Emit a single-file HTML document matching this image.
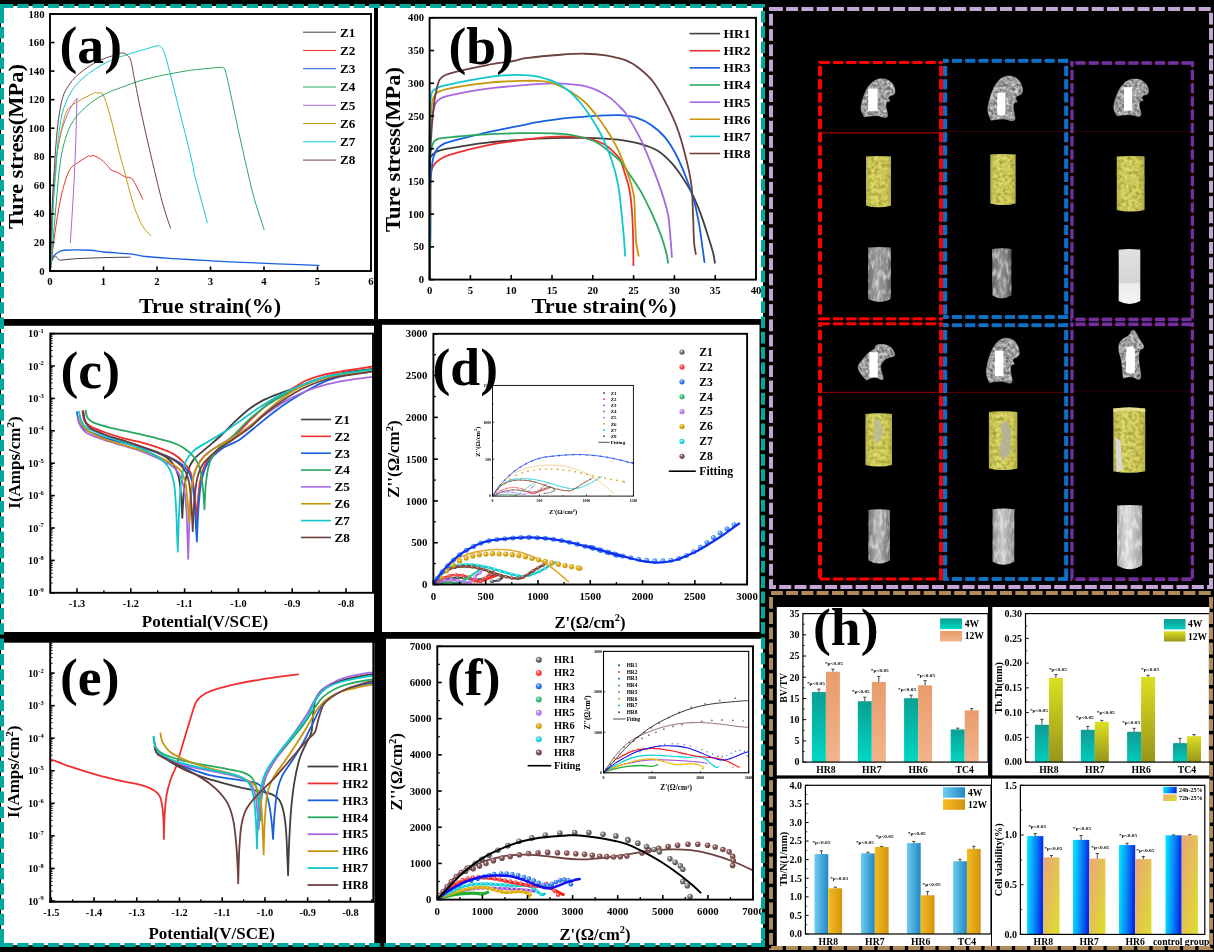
<!DOCTYPE html>
<html><head><meta charset="utf-8"><title>figure</title>
<style>
html,body{margin:0;padding:0;background:#000;}
body{width:1214px;height:952px;overflow:hidden;font-family:"Liberation Serif",serif;}
svg{display:block;opacity:0.999}
svg text{font-family:"Liberation Serif",serif;font-weight:bold;}
</style></head><body>
<svg width="1214" height="952" viewBox="0 0 1214 952">
<defs>
<radialGradient id="ball_k" cx="0.38" cy="0.35" r="0.7"><stop offset="0" stop-color="#ffffff" stop-opacity="0.85"/><stop offset="0.3" stop-color="#8c8c8c"/><stop offset="1" stop-color="#3f3f3f"/></radialGradient>
<radialGradient id="ball_r" cx="0.38" cy="0.35" r="0.7"><stop offset="0" stop-color="#ffffff" stop-opacity="0.85"/><stop offset="0.3" stop-color="#ff5a5a"/><stop offset="1" stop-color="#f03030"/></radialGradient>
<radialGradient id="ball_b" cx="0.38" cy="0.35" r="0.7"><stop offset="0" stop-color="#ffffff" stop-opacity="0.85"/><stop offset="0.3" stop-color="#4a8cf4"/><stop offset="1" stop-color="#1860e0"/></radialGradient>
<radialGradient id="ball_g" cx="0.38" cy="0.35" r="0.7"><stop offset="0" stop-color="#ffffff" stop-opacity="0.85"/><stop offset="0.3" stop-color="#4cc884"/><stop offset="1" stop-color="#2aa860"/></radialGradient>
<radialGradient id="ball_p" cx="0.38" cy="0.35" r="0.7"><stop offset="0" stop-color="#ffffff" stop-opacity="0.85"/><stop offset="0.3" stop-color="#c090f0"/><stop offset="1" stop-color="#a868e0"/></radialGradient>
<radialGradient id="ball_y" cx="0.38" cy="0.35" r="0.7"><stop offset="0" stop-color="#ffffff" stop-opacity="0.85"/><stop offset="0.3" stop-color="#e0b020"/><stop offset="1" stop-color="#c8960c"/></radialGradient>
<radialGradient id="ball_c" cx="0.38" cy="0.35" r="0.7"><stop offset="0" stop-color="#ffffff" stop-opacity="0.85"/><stop offset="0.3" stop-color="#40e0e4"/><stop offset="1" stop-color="#10c8cc"/></radialGradient>
<radialGradient id="ball_n" cx="0.38" cy="0.35" r="0.7"><stop offset="0" stop-color="#ffffff" stop-opacity="0.85"/><stop offset="0.3" stop-color="#946060"/><stop offset="1" stop-color="#6e4040"/></radialGradient>
<radialGradient id="ball_b2" cx="0.38" cy="0.35" r="0.7"><stop offset="0" stop-color="#ffffff" stop-opacity="0.9"/><stop offset="0.3" stop-color="#5aa0ff"/><stop offset="1" stop-color="#2a70e8"/></radialGradient>
<clipPath id="clipc"><rect x="50.3" y="333.6" width="322.7" height="259.2"/></clipPath>
<clipPath id="clipd"><rect x="433.4" y="333.8" width="316.7" height="250.7"/></clipPath>
<clipPath id="clipdi"><rect x="492.5" y="385.4" width="140.9" height="110.7"/></clipPath>
<clipPath id="clipe"><rect x="50.2" y="641.8" width="323.1" height="260"/></clipPath>
<clipPath id="clipf"><rect x="437.3" y="646.3" width="315.7" height="253.3"/></clipPath>
<clipPath id="clipfi"><rect x="603.5" y="651.4" width="145.2" height="121.4"/></clipPath>
<filter id="texBone" x="0" y="0" width="1" height="1" color-interpolation-filters="sRGB">
<feTurbulence type="fractalNoise" baseFrequency="0.32" numOctaves="2" seed="7" result="n"/>
<feColorMatrix in="n" type="matrix" values="0.8 0 0 0 0.22  0.8 0 0 0 0.22  0.8 0 0 0 0.22  0 0 0 0 1" result="g"/>
<feComposite in="g" in2="SourceGraphic" operator="in"/>
</filter>
<filter id="texYel" x="0" y="0" width="1" height="1" color-interpolation-filters="sRGB">
<feTurbulence type="fractalNoise" baseFrequency="0.28" numOctaves="2" seed="11" result="n"/>
<feColorMatrix in="n" type="matrix" values="0 0 0 0 0.62  0 0 0 0 0.60  0 0 0 0 0.22  2.2 0 0 0 -0.85" result="g"/>
<feComposite in="g" in2="SourceGraphic" operator="in" result="c"/>
<feMerge><feMergeNode in="SourceGraphic"/><feMergeNode in="c"/></feMerge>
</filter>
<filter id="texGray" x="0" y="0" width="1" height="1" color-interpolation-filters="sRGB">
<feTurbulence type="fractalNoise" baseFrequency="0.3 0.1" numOctaves="2" seed="5" result="n"/>
<feColorMatrix in="n" type="matrix" values="0 0 0 0 1  0 0 0 0 1  0 0 0 0 1  1.6 0 0 0 -0.68" result="g"/>
<feComposite in="g" in2="SourceGraphic" operator="in" result="c"/>
<feMerge><feMergeNode in="SourceGraphic"/><feMergeNode in="c"/></feMerge>
</filter>
<linearGradient id="cylG1" x1="0" x2="1" y1="0" y2="0"><stop offset="0" stop-color="#6a6a6a"/><stop offset="0.35" stop-color="#9a9a9a"/><stop offset="0.7" stop-color="#8a8a8a"/><stop offset="1" stop-color="#5c5c5c"/></linearGradient>
<linearGradient id="cylG2" x1="0" x2="1" y1="0" y2="0"><stop offset="0" stop-color="#5e5e5e"/><stop offset="0.4" stop-color="#8c8c8c"/><stop offset="0.75" stop-color="#7c7c7c"/><stop offset="1" stop-color="#505050"/></linearGradient>
<linearGradient id="cylG3" x1="0" x2="0" y1="0" y2="1"><stop offset="0" stop-color="#e2e2e2"/><stop offset="0.6" stop-color="#d4d4d4"/><stop offset="0.64" stop-color="#ececec"/><stop offset="1" stop-color="#f4f4f4"/></linearGradient>
<linearGradient id="cylG4" x1="0" x2="1" y1="0" y2="0"><stop offset="0" stop-color="#767676"/><stop offset="0.45" stop-color="#b4b4b4"/><stop offset="1" stop-color="#6c6c6c"/></linearGradient>
<linearGradient id="cylG5" x1="0" x2="1" y1="0" y2="0"><stop offset="0" stop-color="#8c8c8c"/><stop offset="0.45" stop-color="#c8c8c8"/><stop offset="1" stop-color="#8a8a8a"/></linearGradient>
<linearGradient id="cylG6" x1="0" x2="1" y1="0" y2="0"><stop offset="0" stop-color="#a0a0a0"/><stop offset="0.4" stop-color="#dedede"/><stop offset="1" stop-color="#9a9a9a"/></linearGradient>
<linearGradient id="yelG" x1="0" x2="1" y1="0" y2="0"><stop offset="0" stop-color="#c4c050"/><stop offset="0.3" stop-color="#dedb68"/><stop offset="0.8" stop-color="#d6d25e"/><stop offset="1" stop-color="#b8b448"/></linearGradient>
<linearGradient id="gTeal" x1="0" x2="0" y1="0" y2="1"><stop offset="0" stop-color="#08a094"/><stop offset="1" stop-color="#00d8c4"/></linearGradient>
<linearGradient id="gSalmon" x1="0" x2="0" y1="0" y2="1"><stop offset="0" stop-color="#e89c6c"/><stop offset="1" stop-color="#f2b48c"/></linearGradient>
<linearGradient id="gTeal2" x1="0" x2="0" y1="0" y2="1"><stop offset="0" stop-color="#109c94"/><stop offset="1" stop-color="#00ccbc"/></linearGradient>
<linearGradient id="gOlive" x1="0" x2="0" y1="0" y2="1"><stop offset="0" stop-color="#dce020"/><stop offset="1" stop-color="#98941c"/></linearGradient>
<linearGradient id="gSky" x1="0" x2="1" y1="0" y2="0"><stop offset="0" stop-color="#70ccf2"/><stop offset="1" stop-color="#2088c4"/></linearGradient>
<linearGradient id="gGold" x1="0" x2="1" y1="0" y2="0"><stop offset="0" stop-color="#f4bc24"/><stop offset="1" stop-color="#d4940c"/></linearGradient>
<linearGradient id="gCyBl" x1="0" x2="1" y1="0" y2="0.12"><stop offset="0" stop-color="#00ecff"/><stop offset="0.5" stop-color="#0890f8"/><stop offset="1" stop-color="#0428e8"/></linearGradient>
<linearGradient id="gSaYe" x1="0" x2="1" y1="0" y2="1"><stop offset="0" stop-color="#eca47c"/><stop offset="1" stop-color="#dce028"/></linearGradient>
</defs>
<rect x="0" y="0" width="1214" height="952" fill="#000" />
<rect x="1" y="6" width="373" height="313" fill="#fff" />
<rect x="378" y="6" width="385" height="313" fill="#fff" />
<rect x="1" y="325.8" width="373" height="306.2" fill="#fff" />
<rect x="382" y="324.8" width="377.5" height="307.2" fill="#fff" />
<rect x="1" y="642.7" width="373.3" height="302.5" fill="#fff" />
<rect x="386" y="638.8" width="377" height="306.4" fill="#fff" />
<path d="M49.57 268.63C49.93 267.44 51.21 262.48 51.99 260.66C52.77 258.84 54.04 257.02 54.77 256.5C55.49 255.98 56.22 256.67 56.85 257.19C57.47 257.71 58.09 259.55 58.93 259.97C59.76 260.38 60.31 260.12 62.39 259.97C64.47 259.81 69.15 259.19 72.79 258.93C76.43 258.67 81.46 258.44 86.66 258.23C91.85 258.02 100.95 257.69 107.45 257.54C113.95 257.38 126.6 257.24 129.98 257.19" fill="none" stroke="#3f3f3f" stroke-width="1" stroke-linejoin="round" stroke-linecap="round" />
<path d="M49.57 268.63C49.93 267.07 50.85 260.57 51.99 258.23C53.14 255.89 55.37 254.23 57.19 253.03C59.01 251.84 59.19 250.68 64.12 250.26C69.06 249.84 84.14 250 90.12 250.26C96.1 250.52 97.75 251.42 103.99 251.99C110.23 252.56 125.48 253.4 131.72 254.07C137.95 254.75 139.34 255.82 145.58 256.5C151.82 257.18 163.95 257.95 173.31 258.58C182.67 259.2 197.57 260.09 207.97 260.66C218.37 261.23 232.24 261.92 242.63 262.39C253.03 262.86 266.9 263.36 277.3 263.78C287.69 264.19 305.72 264.9 311.96 265.16C318.2 265.42 317.85 265.46 318.89 265.51" fill="none" stroke="#1860e0" stroke-width="1.3" stroke-linejoin="round" stroke-linecap="round" />
<path d="M50.8 268C51.28 263.8 52.84 248.7 54 240C55.16 231.3 57 218.25 58.5 210C60 201.75 62.24 191.18 64 185C65.76 178.82 68.05 172.26 70.25 168.82C72.45 165.39 75.88 164.04 78.66 162.1C81.43 160.16 86.97 156.71 88.74 155.88C90.5 155.05 89.79 156.63 90.42 156.55C91.05 156.48 91.93 155.3 92.94 155.38C93.95 155.45 95.76 156.3 97.14 157.06C98.53 157.82 100.53 159.02 102.18 160.42C103.84 161.82 106.84 164.96 108.15 166.38C109.46 167.79 109.46 168.91 110.92 169.84C112.37 170.78 115.77 171.58 117.85 172.62C119.93 173.66 122.7 175.89 124.78 176.78C126.86 177.66 129.9 176.95 131.72 178.51C133.54 180.07 135.25 184.06 136.92 187.18C138.58 190.29 141.92 197.49 142.81 199.31" fill="none" stroke="#f03030" stroke-width="1" stroke-linejoin="round" stroke-linecap="round" />
<path d="M49.57 266.9L49.68 264.3L49.82 260.74L50 256.5L50.2 251.88L50.4 247.16L50.61 242.63L50.81 238.25L51.02 233.78L51.23 229.2L51.47 224.53L51.72 219.77L51.99 214.9L52.29 209.91L52.6 204.76L52.92 199.52L53.28 194.24L53.66 188.95L54.07 183.71L54.51 178.43L54.96 173.05L55.44 167.68L55.96 162.4L56.54 157.31L57.19 152.51L57.93 147.97L58.75 143.59L59.62 139.41L60.53 135.44L61.46 131.71L62.39 128.25L63.35 125.07L64.36 122.15L65.38 119.48L66.4 117.02L67.37 114.75L68.28 112.65L69.12 110.77L69.9 109.15L70.65 107.71L71.37 106.41L72.08 105.19L72.79 103.99L73.55 102.78L74.36 101.6L75.15 100.5L75.88 99.52L76.5 98.7L76.95 98.09L76.78 103.99L75.91 138.65L74.18 180.24L72.1 214.9L70.36 242.63" fill="none" stroke="#a868e0" stroke-width="1" stroke-linejoin="round" stroke-linecap="round" />
<path d="M50.5 268C50.7 263.05 51.39 245.2 51.8 235C52.2 224.8 52.7 209.8 53.2 200C53.7 190.2 54.33 178 55.13 169.66C55.92 161.33 57.35 151.26 58.49 144.45C59.62 137.65 61.43 129.33 62.69 124.29C63.95 119.24 65.25 113.87 66.89 110.84C68.53 107.82 71.09 106.01 73.61 104.12C76.13 102.23 80.92 99.75 83.7 98.24C86.47 96.72 90.34 94.92 92.1 94.03C93.87 93.15 94.71 92.45 95.46 92.35C96.22 92.25 96.64 93.29 97.14 93.36C97.65 93.44 98.07 92.83 98.82 92.86C99.58 92.88 101.18 92.34 102.18 93.53C103.19 94.71 104.29 97.15 105.55 100.76C106.81 104.36 109.08 112.02 110.59 117.56C112.1 123.11 114.12 131.68 115.63 137.73C117.14 143.78 119.41 153.11 120.67 157.9C121.93 162.69 122.12 162.67 124.03 169.66C125.95 176.65 130.74 196.16 133.45 204.51C136.16 212.85 139.51 220.62 142.11 225.3C144.71 229.98 149.48 234.14 150.78 235.7" fill="none" stroke="#c8960c" stroke-width="1" stroke-linejoin="round" stroke-linecap="round" />
<path d="M51 268C51.38 263.05 52.67 245.2 53.5 235C54.33 224.8 55.63 209.8 56.5 200C57.37 190.2 58.53 176.74 59.33 169.66C60.13 162.59 60.97 157.39 61.85 152.86C62.73 148.32 63.95 143.45 65.21 139.41C66.47 135.38 68.49 129.5 70.25 125.97C72.02 122.44 74.45 118.91 76.97 115.88C79.5 112.86 83.78 108.57 87.06 105.8C90.34 103.03 95.29 99.54 98.82 97.39C102.35 95.25 106.81 93.15 110.59 91.51C114.37 89.87 119.5 88.11 124.03 86.47C128.57 84.83 135.8 82.1 140.84 80.59C145.88 79.08 152.61 77.52 157.65 76.39C162.69 75.25 169.41 73.96 174.45 73.03C179.5 72.09 186.22 70.85 191.26 70.17C196.3 69.49 203.4 68.89 208.07 68.49C212.73 68.08 219.71 66.92 222.35 67.48C225 68.03 224.58 68.71 225.71 72.18C226.85 75.66 228.53 84.37 229.92 90.67C231.3 96.97 233.45 107.14 234.96 114.2C236.47 121.26 237.29 125.75 240 137.73C242.71 149.72 249.41 180.35 253.03 194.11C256.65 207.87 262.46 224.16 264.12 229.46" fill="none" stroke="#2aa860" stroke-width="1" stroke-linejoin="round" stroke-linecap="round" />
<path d="M50.6 268C50.81 263.05 51.55 245.2 52 235C52.45 224.8 53.01 209.8 53.6 200C54.19 190.2 55.36 178 55.97 169.66C56.57 161.33 56.89 152.02 57.65 144.45C58.4 136.89 59.87 125.29 61.01 119.24C62.14 113.19 63.57 108.4 65.21 104.12C66.85 99.83 69.41 94.45 71.93 90.67C74.45 86.89 78.49 82.18 82.02 78.91C85.55 75.63 91.18 71.6 95.46 68.82C99.75 66.05 105.8 62.56 110.59 60.42C115.38 58.28 122.35 56.18 127.39 54.54C132.44 52.9 139.66 50.81 144.2 49.5C148.74 48.18 155 46.05 157.65 45.8C160.29 45.55 160.71 46.38 161.85 47.82C162.98 49.25 163.82 50.97 165.21 55.38C166.6 59.79 168.95 68.91 171.09 77.23C173.24 85.55 176.97 100.76 179.5 110.84C182.02 120.92 185.76 135.63 187.9 144.45C190.04 153.28 192.85 165.34 193.78 169.66C194.71 173.99 192.08 165.38 194.11 173.31C196.13 181.24 205.3 215.15 207.28 222.53" fill="none" stroke="#10c8cc" stroke-width="1" stroke-linejoin="round" stroke-linecap="round" />
<path d="M50.3 268C50.43 263.05 50.89 245.2 51.2 235C51.52 224.8 51.94 209.8 52.4 200C52.86 190.2 53.75 178 54.29 169.66C54.82 161.33 55.34 152.02 55.97 144.45C56.6 136.89 57.48 126.3 58.49 119.24C59.5 112.18 61.18 102.44 62.69 97.39C64.2 92.35 66.43 88.91 68.57 85.63C70.71 82.35 73.7 78.57 76.97 75.55C80.25 72.52 86.39 67.98 90.42 65.46C94.45 62.94 100.34 60.25 103.87 58.74C107.39 57.23 111.18 56.26 113.95 55.38C116.72 54.5 120.34 52.86 122.35 52.86C124.37 52.86 126.13 54.24 127.39 55.38C128.66 56.51 129.75 57.14 130.76 60.42C131.76 63.7 132.61 69.66 134.12 77.23C135.63 84.79 138.82 101.26 140.84 110.84C142.86 120.42 145.55 132.27 147.56 141.09C149.58 149.92 151.98 160.15 154.29 169.66C156.59 179.18 160.47 195.74 162.91 204.51C165.35 213.27 169.39 224.54 170.54 228.08" fill="none" stroke="#6e4040" stroke-width="1" stroke-linejoin="round" stroke-linecap="round" />
<rect x="50" y="14" width="321" height="257" fill="none" stroke="#000" stroke-width="1.9"/>
<line x1="50" y1="271" x2="50" y2="266.5" stroke="#000" stroke-width="1.6" />
<text x="50" y="285" font-size="10.7" text-anchor="middle" fill="#000" >0</text>
<line x1="103.5" y1="271" x2="103.5" y2="266.5" stroke="#000" stroke-width="1.6" />
<text x="103.5" y="285" font-size="10.7" text-anchor="middle" fill="#000" >1</text>
<line x1="157" y1="271" x2="157" y2="266.5" stroke="#000" stroke-width="1.6" />
<text x="157" y="285" font-size="10.7" text-anchor="middle" fill="#000" >2</text>
<line x1="210.5" y1="271" x2="210.5" y2="266.5" stroke="#000" stroke-width="1.6" />
<text x="210.5" y="285" font-size="10.7" text-anchor="middle" fill="#000" >3</text>
<line x1="264" y1="271" x2="264" y2="266.5" stroke="#000" stroke-width="1.6" />
<text x="264" y="285" font-size="10.7" text-anchor="middle" fill="#000" >4</text>
<line x1="317.5" y1="271" x2="317.5" y2="266.5" stroke="#000" stroke-width="1.6" />
<text x="317.5" y="285" font-size="10.7" text-anchor="middle" fill="#000" >5</text>
<line x1="371" y1="271" x2="371" y2="266.5" stroke="#000" stroke-width="1.6" />
<text x="371" y="285" font-size="10.7" text-anchor="middle" fill="#000" >6</text>
<line x1="50" y1="271" x2="54.5" y2="271" stroke="#000" stroke-width="1.6" />
<text x="44.5" y="274.53" font-size="10.7" text-anchor="end" fill="#000" >0</text>
<line x1="50" y1="242.44" x2="54.5" y2="242.44" stroke="#000" stroke-width="1.6" />
<text x="44.5" y="245.98" font-size="10.7" text-anchor="end" fill="#000" >20</text>
<line x1="50" y1="213.89" x2="54.5" y2="213.89" stroke="#000" stroke-width="1.6" />
<text x="44.5" y="217.42" font-size="10.7" text-anchor="end" fill="#000" >40</text>
<line x1="50" y1="185.33" x2="54.5" y2="185.33" stroke="#000" stroke-width="1.6" />
<text x="44.5" y="188.86" font-size="10.7" text-anchor="end" fill="#000" >60</text>
<line x1="50" y1="156.78" x2="54.5" y2="156.78" stroke="#000" stroke-width="1.6" />
<text x="44.5" y="160.31" font-size="10.7" text-anchor="end" fill="#000" >80</text>
<line x1="50" y1="128.22" x2="54.5" y2="128.22" stroke="#000" stroke-width="1.6" />
<text x="44.5" y="131.75" font-size="10.7" text-anchor="end" fill="#000" >100</text>
<line x1="50" y1="99.67" x2="54.5" y2="99.67" stroke="#000" stroke-width="1.6" />
<text x="44.5" y="103.2" font-size="10.7" text-anchor="end" fill="#000" >120</text>
<line x1="50" y1="71.11" x2="54.5" y2="71.11" stroke="#000" stroke-width="1.6" />
<text x="44.5" y="74.64" font-size="10.7" text-anchor="end" fill="#000" >140</text>
<line x1="50" y1="42.56" x2="54.5" y2="42.56" stroke="#000" stroke-width="1.6" />
<text x="44.5" y="46.09" font-size="10.7" text-anchor="end" fill="#000" >160</text>
<line x1="50" y1="14" x2="54.5" y2="14" stroke="#000" stroke-width="1.6" />
<text x="44.5" y="17.53" font-size="10.7" text-anchor="end" fill="#000" >180</text>
<text x="59.5" y="63.2" font-size="53.6" text-anchor="start" fill="#000" >(a)</text>
<text x="210" y="313.2" font-size="22" text-anchor="middle" fill="#000"  textLength="142" lengthAdjust="spacingAndGlyphs">True strain(%)</text>
<text transform="translate(22.8 146.5) rotate(-90)" font-size="22" text-anchor="middle"  textLength="165" lengthAdjust="spacingAndGlyphs">Ture stress(MPa)</text>
<line x1="303" y1="32.2" x2="336" y2="32.2" stroke="#3f3f3f" stroke-width="1" />
<text x="340" y="36.56" font-size="13.2" text-anchor="start" fill="#000" >Z1</text>
<line x1="303" y1="50.47" x2="336" y2="50.47" stroke="#f03030" stroke-width="1" />
<text x="340" y="54.83" font-size="13.2" text-anchor="start" fill="#000" >Z2</text>
<line x1="303" y1="68.74" x2="336" y2="68.74" stroke="#1860e0" stroke-width="1" />
<text x="340" y="73.1" font-size="13.2" text-anchor="start" fill="#000" >Z3</text>
<line x1="303" y1="87.01" x2="336" y2="87.01" stroke="#2aa860" stroke-width="1" />
<text x="340" y="91.37" font-size="13.2" text-anchor="start" fill="#000" >Z4</text>
<line x1="303" y1="105.28" x2="336" y2="105.28" stroke="#a868e0" stroke-width="1" />
<text x="340" y="109.64" font-size="13.2" text-anchor="start" fill="#000" >Z5</text>
<line x1="303" y1="123.55" x2="336" y2="123.55" stroke="#c8960c" stroke-width="1" />
<text x="340" y="127.91" font-size="13.2" text-anchor="start" fill="#000" >Z6</text>
<line x1="303" y1="141.82" x2="336" y2="141.82" stroke="#10c8cc" stroke-width="1" />
<text x="340" y="146.18" font-size="13.2" text-anchor="start" fill="#000" >Z7</text>
<line x1="303" y1="160.09" x2="336" y2="160.09" stroke="#6e4040" stroke-width="1" />
<text x="340" y="164.45" font-size="13.2" text-anchor="start" fill="#000" >Z8</text>
<path d="M429.8 279C429.81 268.47 429.97 215.75 429.9 200C429.83 184.25 429.11 166.62 429.24 160.84C429.38 155.06 430.14 157.76 430.92 156.64C431.71 155.52 433.67 153.33 435.13 152.44C436.58 151.54 439.38 150.54 441.85 149.92C444.31 149.29 449.8 148.4 453.61 147.73C457.42 147.06 465.94 145.55 470.42 144.87C474.9 144.2 482.75 143.2 487.23 142.69C491.71 142.17 499.55 141.39 504.03 141.01C508.52 140.63 516.36 140.15 520.84 139.83C525.32 139.52 533.17 138.88 537.65 138.66C542.13 138.43 549.97 138.26 554.45 138.15C558.94 138.04 566.78 137.86 571.26 137.82C575.74 137.77 583.59 137.7 588.07 137.82C592.55 137.93 600.62 138.39 604.87 138.66C609.13 138.92 615.27 139.14 620 139.83C624.73 140.52 635.34 142.39 640.36 143.85C645.39 145.31 653.54 148.24 657.69 150.78C661.85 153.32 668.32 159.45 671.56 162.91C674.79 166.38 679.19 172.62 681.96 176.78C684.73 180.94 689.82 189.02 692.36 194.11C694.9 199.19 698.94 209.36 701.02 214.9C703.1 220.45 706.34 230.62 707.95 235.7C709.57 240.79 712.23 249.43 713.15 253.03C714.08 256.64 714.66 261.44 714.89 262.74" fill="none" stroke="#3f3f3f" stroke-width="1.8" stroke-linejoin="round" stroke-linecap="round" />
<path d="M429.8 279C429.85 269.8 430.16 223.51 430.2 210C430.24 196.49 429.88 183.08 430.08 177.65C430.29 172.21 431.09 171.15 431.76 169.24C432.44 167.34 434.01 164.71 435.13 163.36C436.25 162.02 438.6 160.17 440.17 159.16C441.74 158.15 445.1 156.52 446.89 155.8C448.68 155.08 450.48 154.68 453.61 153.78C456.75 152.89 465.94 150.2 470.42 149.08C474.9 147.96 482.75 146.27 487.23 145.38C491.71 144.48 499.55 143.05 504.03 142.35C508.52 141.66 516.36 140.73 520.84 140.17C525.32 139.61 533.61 138.58 537.65 138.15C541.68 137.73 547.73 137.2 551.09 136.97C554.45 136.75 559.72 136.47 562.86 136.47C565.99 136.47 571.26 136.68 574.62 136.97C577.98 137.27 584.93 138.05 588.07 138.66C591.2 139.26 595.69 140.57 598.15 141.51C600.62 142.45 604.54 144.37 606.55 145.71C608.57 147.06 611.48 149.8 613.28 151.6C615.07 153.39 618.47 156.26 620 159.16C621.53 162.05 623.53 169.34 624.77 173.31C626 177.28 628.35 184.29 629.27 188.91C630.2 193.53 631.19 201.73 631.7 207.97C632.21 214.21 632.85 228.08 633.08 235.7C633.32 243.33 633.39 261.24 633.43 265.16" fill="none" stroke="#f03030" stroke-width="1.8" stroke-linejoin="round" stroke-linecap="round" />
<path d="M429.8 279C429.87 272.47 430.26 240.6 430.3 230C430.34 219.4 430 206.48 430.08 199.5C430.17 192.52 430.59 182.8 430.92 177.65C431.26 172.49 432.04 164.2 432.61 160.84C433.17 157.48 434.34 154.23 435.13 152.44C435.91 150.64 437.14 148.63 438.49 147.39C439.83 146.16 443.19 144.09 445.21 143.19C447.23 142.3 450.25 141.57 453.61 140.67C456.97 139.78 465.94 137.59 470.42 136.47C474.9 135.35 482.75 133.28 487.23 132.27C491.71 131.26 499.55 129.8 504.03 128.91C508.52 128.01 516.36 126.44 520.84 125.55C525.32 124.65 533.17 122.97 537.65 122.18C542.13 121.4 549.97 120.27 554.45 119.66C558.94 119.06 566.78 118.1 571.26 117.65C575.74 117.2 583.59 116.59 588.07 116.3C592.55 116.01 600.62 115.62 604.87 115.46C609.13 115.31 615.73 114.81 620 115.13C624.27 115.44 632.8 116.56 636.9 117.85C641 119.14 647.07 122.24 650.76 124.78C654.46 127.33 661.16 132.76 664.63 136.92C668.09 141.07 673.76 150.2 676.76 155.98C679.76 161.76 684.85 174.23 687.16 180.24C689.47 186.25 692.47 195.03 694.09 201.04C695.71 207.05 698.13 218.83 699.29 225.3C700.44 231.77 702.06 244.67 702.76 249.57C703.45 254.47 704.26 260.38 704.49 262.05" fill="none" stroke="#1860e0" stroke-width="1.8" stroke-linejoin="round" stroke-linecap="round" />
<path d="M429.8 279C429.84 268.47 430.11 215.75 430.1 200C430.09 184.25 429.64 167.41 429.75 160.84C429.86 154.27 430.43 153.22 430.92 150.76C431.42 148.29 432.66 143.88 433.45 142.35C434.23 140.83 435.69 139.89 436.81 139.33C437.93 138.77 439.61 138.46 441.85 138.15C444.09 137.84 449.8 137.36 453.61 136.97C457.42 136.59 465.94 135.65 470.42 135.29C474.9 134.94 482.75 134.51 487.23 134.29C491.71 134.06 499.55 133.77 504.03 133.61C508.52 133.46 516.36 133.18 520.84 133.11C525.32 133.04 533.61 133.06 537.65 133.11C541.68 133.15 547.73 133.33 551.09 133.45C554.45 133.56 559.72 133.66 562.86 133.95C565.99 134.24 571.26 134.96 574.62 135.63C577.98 136.3 584.93 137.98 588.07 138.99C591.2 140 595.46 141.62 598.15 143.19C600.84 144.76 605.32 148.4 608.24 150.76C611.15 153.11 617.56 158.3 620 160.84C622.44 163.39 623.78 165.87 626.5 169.84C629.21 173.82 636.9 184.63 640.36 190.64C643.83 196.65 649.72 208.9 652.5 214.9C655.27 220.91 659.31 230.62 661.16 235.7C663.01 240.79 665.44 249.43 666.36 253.03C667.28 256.64 667.86 261.44 668.09 262.74" fill="none" stroke="#2aa860" stroke-width="1.8" stroke-linejoin="round" stroke-linecap="round" />
<path d="M429.8 279C429.91 268.47 430.56 218 430.6 200C430.64 182 429.93 154.18 430.08 144.03C430.24 133.88 431.32 128.35 431.76 123.87C432.21 119.38 432.89 113.22 433.45 110.42C434.01 107.62 435.07 104.43 435.97 102.86C436.86 101.29 438.71 99.55 440.17 98.66C441.62 97.76 443.98 96.92 446.89 96.13C449.8 95.35 457.76 93.6 462.02 92.77C466.27 91.94 474.34 90.59 478.82 89.92C483.31 89.24 491.15 88.25 495.63 87.73C500.11 87.22 507.96 86.45 512.44 86.05C516.92 85.65 524.76 85.04 529.24 84.71C533.73 84.37 541.57 83.69 546.05 83.53C550.53 83.37 558.38 83.31 562.86 83.53C567.34 83.75 575.63 84.54 579.66 85.21C583.7 85.88 589.75 87.34 593.11 88.57C596.47 89.8 602.18 92.89 604.87 94.45C607.56 96.02 611.26 98.66 613.28 100.34C615.29 102.02 618.24 105.19 620 107.06C621.76 108.93 623.78 110.17 626.5 114.38C629.21 118.6 637.13 132.18 640.36 138.65C643.6 145.12 647.99 155.98 650.76 162.91C653.54 169.84 658.85 183.71 661.16 190.64C663.47 197.57 666.8 207.97 668.09 214.9C669.39 221.84 670.36 237 670.87 242.63C671.37 248.27 671.77 255.25 671.91 257.19" fill="none" stroke="#a868e0" stroke-width="1.8" stroke-linejoin="round" stroke-linecap="round" />
<path d="M429.8 279C429.88 268.47 430.41 218 430.4 200C430.39 182 429.68 155.31 429.75 144.03C429.82 132.76 430.54 121.29 430.92 115.46C431.31 109.64 432.04 103.14 432.61 100.34C433.17 97.54 434.12 95.69 435.13 94.45C436.13 93.22 437.7 91.99 440.17 91.09C442.63 90.2 449.58 88.56 453.61 87.73C457.65 86.9 465.94 85.52 470.42 84.87C474.9 84.22 482.75 83.31 487.23 82.86C491.71 82.41 499.55 81.78 504.03 81.51C508.52 81.24 516.36 80.93 520.84 80.84C525.32 80.75 534.06 80.71 537.65 80.84C541.23 80.97 545.04 81.27 547.73 81.85C550.42 82.43 554.68 83.87 557.82 85.21C560.95 86.55 567.68 89.69 571.26 91.93C574.85 94.17 581.34 98.88 584.71 102.02C588.07 105.15 593.78 112.1 596.47 115.46C599.16 118.82 602.63 123.87 604.87 127.23C607.11 130.59 611.26 137.09 613.28 140.67C615.29 144.26 617.77 148.84 620 154.12C622.23 159.39 628.08 174.45 629.97 180.24C631.85 186.04 633.43 192.03 634.12 197.57C634.82 203.12 634.89 215.83 635.16 221.84C635.44 227.85 635.74 238.11 636.2 242.63C636.67 247.16 638.31 254.05 638.63 255.81" fill="none" stroke="#c8960c" stroke-width="1.8" stroke-linejoin="round" stroke-linecap="round" />
<path d="M429.8 279C429.87 271.13 430.37 235.75 430.3 220C430.23 204.25 429.27 175.45 429.24 160.84C429.21 146.23 429.86 118.94 430.08 110.42C430.31 101.9 430.59 99.55 430.92 96.97C431.26 94.4 431.93 92.21 432.61 91.09C433.28 89.97 434.73 89.24 435.97 88.57C437.2 87.9 439.5 86.72 441.85 86.05C444.2 85.38 449.8 84.31 453.61 83.53C457.42 82.75 465.94 81 470.42 80.17C474.9 79.34 482.75 77.94 487.23 77.31C491.71 76.68 500 75.8 504.03 75.46C508.07 75.13 514.12 74.79 517.48 74.79C520.84 74.79 526.11 75.13 529.24 75.46C532.38 75.8 537.65 76.46 541.01 77.31C544.37 78.16 550.87 80.12 554.45 81.85C558.04 83.57 564.54 87.56 567.9 90.25C571.26 92.94 576.75 98.66 579.66 102.02C582.58 105.38 587.06 111.43 589.75 115.46C592.44 119.5 597.37 127.56 599.83 132.27C602.3 136.97 606.22 145.6 608.24 150.76C610.25 155.91 613.5 165.55 614.96 170.92C616.41 176.3 617.99 182.46 619.16 191.09C620.33 199.73 622.93 227.07 623.73 235.7C624.52 244.33 624.93 253.13 625.11 255.81" fill="none" stroke="#10c8cc" stroke-width="1.8" stroke-linejoin="round" stroke-linecap="round" />
<path d="M429.6 279C429.55 271.09 429.18 235.42 429.24 219.66C429.31 203.91 429.75 173.17 430.08 160.84C430.42 148.52 431.2 135.07 431.76 127.23C432.32 119.38 433.61 107.17 434.29 102.02C434.96 96.86 436.13 91.48 436.81 88.57C437.48 85.66 438.43 81.85 439.33 80.17C440.22 78.49 442.07 76.86 443.53 75.97C444.99 75.07 447.79 74.18 450.25 73.45C452.72 72.71 457.09 71.54 462.02 70.42C466.95 69.3 480.28 66.32 487.23 65.04C494.17 63.76 508.95 61.75 514.12 60.84C519.28 59.93 519.78 59.04 525.98 58.23C532.18 57.42 552.78 55.37 560.64 54.77C568.5 54.17 578.9 53.63 584.9 53.73C590.91 53.82 600.16 54.53 605.7 55.46C611.25 56.38 621.88 58.81 626.5 60.66C631.12 62.51 636.67 66.32 640.36 69.32C644.06 72.33 650.53 78.11 654.23 83.19C657.93 88.27 664.86 100.98 668.09 107.45C671.33 113.92 675.95 124.32 678.49 131.72C681.03 139.11 685.4 155.52 687.16 162.91C688.91 170.31 690.88 180.24 691.66 187.18C692.45 194.11 692.73 207.51 693.05 214.9C693.37 222.3 693.72 237.41 694.09 242.63C694.46 247.86 695.59 252.55 695.82 254.07" fill="none" stroke="#6e4040" stroke-width="1.8" stroke-linejoin="round" stroke-linecap="round" />
<rect x="429.6" y="17.8" width="326.4" height="261.8" fill="none" stroke="#000" stroke-width="1.9"/>
<line x1="429.6" y1="279.6" x2="429.6" y2="275.1" stroke="#000" stroke-width="1.6" />
<text x="429.6" y="293.6" font-size="10.7" text-anchor="middle" fill="#000" >0</text>
<line x1="470.4" y1="279.6" x2="470.4" y2="275.1" stroke="#000" stroke-width="1.6" />
<text x="470.4" y="293.6" font-size="10.7" text-anchor="middle" fill="#000" >5</text>
<line x1="511.2" y1="279.6" x2="511.2" y2="275.1" stroke="#000" stroke-width="1.6" />
<text x="511.2" y="293.6" font-size="10.7" text-anchor="middle" fill="#000" >10</text>
<line x1="552" y1="279.6" x2="552" y2="275.1" stroke="#000" stroke-width="1.6" />
<text x="552" y="293.6" font-size="10.7" text-anchor="middle" fill="#000" >15</text>
<line x1="592.8" y1="279.6" x2="592.8" y2="275.1" stroke="#000" stroke-width="1.6" />
<text x="592.8" y="293.6" font-size="10.7" text-anchor="middle" fill="#000" >20</text>
<line x1="633.6" y1="279.6" x2="633.6" y2="275.1" stroke="#000" stroke-width="1.6" />
<text x="633.6" y="293.6" font-size="10.7" text-anchor="middle" fill="#000" >25</text>
<line x1="674.4" y1="279.6" x2="674.4" y2="275.1" stroke="#000" stroke-width="1.6" />
<text x="674.4" y="293.6" font-size="10.7" text-anchor="middle" fill="#000" >30</text>
<line x1="715.2" y1="279.6" x2="715.2" y2="275.1" stroke="#000" stroke-width="1.6" />
<text x="715.2" y="293.6" font-size="10.7" text-anchor="middle" fill="#000" >35</text>
<line x1="756" y1="279.6" x2="756" y2="275.1" stroke="#000" stroke-width="1.6" />
<text x="756" y="293.6" font-size="10.7" text-anchor="middle" fill="#000" >40</text>
<line x1="429.6" y1="279.6" x2="434.1" y2="279.6" stroke="#000" stroke-width="1.6" />
<text x="424.1" y="283.13" font-size="10.7" text-anchor="end" fill="#000" >0</text>
<line x1="429.6" y1="246.88" x2="434.1" y2="246.88" stroke="#000" stroke-width="1.6" />
<text x="424.1" y="250.41" font-size="10.7" text-anchor="end" fill="#000" >50</text>
<line x1="429.6" y1="214.15" x2="434.1" y2="214.15" stroke="#000" stroke-width="1.6" />
<text x="424.1" y="217.68" font-size="10.7" text-anchor="end" fill="#000" >100</text>
<line x1="429.6" y1="181.43" x2="434.1" y2="181.43" stroke="#000" stroke-width="1.6" />
<text x="424.1" y="184.96" font-size="10.7" text-anchor="end" fill="#000" >150</text>
<line x1="429.6" y1="148.7" x2="434.1" y2="148.7" stroke="#000" stroke-width="1.6" />
<text x="424.1" y="152.23" font-size="10.7" text-anchor="end" fill="#000" >200</text>
<line x1="429.6" y1="115.98" x2="434.1" y2="115.98" stroke="#000" stroke-width="1.6" />
<text x="424.1" y="119.51" font-size="10.7" text-anchor="end" fill="#000" >250</text>
<line x1="429.6" y1="83.25" x2="434.1" y2="83.25" stroke="#000" stroke-width="1.6" />
<text x="424.1" y="86.78" font-size="10.7" text-anchor="end" fill="#000" >300</text>
<line x1="429.6" y1="50.53" x2="434.1" y2="50.53" stroke="#000" stroke-width="1.6" />
<text x="424.1" y="54.06" font-size="10.7" text-anchor="end" fill="#000" >350</text>
<line x1="429.6" y1="17.8" x2="434.1" y2="17.8" stroke="#000" stroke-width="1.6" />
<text x="424.1" y="21.33" font-size="10.7" text-anchor="end" fill="#000" >400</text>
<text x="448.5" y="64" font-size="53.6" text-anchor="start" fill="#000" >(b)</text>
<text x="604" y="313.2" font-size="22" text-anchor="middle" fill="#000"  textLength="145" lengthAdjust="spacingAndGlyphs">True strain(%)</text>
<text transform="translate(400 149.5) rotate(-90)" font-size="22" text-anchor="middle"  textLength="165" lengthAdjust="spacingAndGlyphs">Ture stress(MPa)</text>
<line x1="689.6" y1="33.6" x2="720" y2="33.6" stroke="#3f3f3f" stroke-width="1.6" />
<text x="723.6" y="38.02" font-size="13.4" text-anchor="start" fill="#000" >HR1</text>
<line x1="689.6" y1="50.73" x2="720" y2="50.73" stroke="#f03030" stroke-width="1.6" />
<text x="723.6" y="55.15" font-size="13.4" text-anchor="start" fill="#000" >HR2</text>
<line x1="689.6" y1="67.86" x2="720" y2="67.86" stroke="#1860e0" stroke-width="1.6" />
<text x="723.6" y="72.28" font-size="13.4" text-anchor="start" fill="#000" >HR3</text>
<line x1="689.6" y1="84.99" x2="720" y2="84.99" stroke="#2aa860" stroke-width="1.6" />
<text x="723.6" y="89.41" font-size="13.4" text-anchor="start" fill="#000" >HR4</text>
<line x1="689.6" y1="102.12" x2="720" y2="102.12" stroke="#a868e0" stroke-width="1.6" />
<text x="723.6" y="106.54" font-size="13.4" text-anchor="start" fill="#000" >HR5</text>
<line x1="689.6" y1="119.25" x2="720" y2="119.25" stroke="#c8960c" stroke-width="1.6" />
<text x="723.6" y="123.67" font-size="13.4" text-anchor="start" fill="#000" >HR6</text>
<line x1="689.6" y1="136.38" x2="720" y2="136.38" stroke="#10c8cc" stroke-width="1.6" />
<text x="723.6" y="140.8" font-size="13.4" text-anchor="start" fill="#000" >HR7</text>
<line x1="689.6" y1="153.51" x2="720" y2="153.51" stroke="#6e4040" stroke-width="1.6" />
<text x="723.6" y="157.93" font-size="13.4" text-anchor="start" fill="#000" >HR8</text>
<g clip-path="url(#clipc)">
<path d="M83.19 411.21C83.42 412.51 84 418.7 84.92 420.92C85.85 423.14 87.58 426 90.12 427.85C92.66 429.7 99.83 433.17 103.99 434.78C108.15 436.4 116.7 438.5 121.32 439.98C125.94 441.46 134.03 444.26 138.65 445.88C143.27 447.49 152.28 450.59 155.98 452.11C159.68 453.64 164.07 455.7 166.38 457.31C168.69 458.93 171.69 461.7 173.31 464.25C174.93 466.79 177.49 472.45 178.51 476.38C179.53 480.31 180.43 488.16 180.94 493.71C181.44 499.25 182.14 514.74 182.32 517.97 M182.32 517.97C182.51 514.74 183.06 499.72 183.71 493.71C184.36 487.7 185.79 477.53 187.18 472.91C188.56 468.29 191.33 462.51 194.11 459.05C196.88 455.58 204.27 450.15 207.97 446.92C211.67 443.68 218.14 438.25 221.84 434.78C225.53 431.32 232 424.38 235.7 420.92C239.4 417.45 245.87 411.56 249.57 408.79C253.26 406.01 259.73 402.06 263.43 400.12C267.13 398.18 273.14 395.85 277.3 394.23C281.46 392.61 290.01 389.75 294.63 387.99C299.25 386.23 307.34 382.67 311.96 381.06C316.58 379.44 324.67 377.01 329.29 375.86C333.91 374.7 340.84 373.32 346.62 372.39C352.4 371.47 369.15 369.39 372.62 368.93" fill="none" stroke="#3f3f3f" stroke-width="1.8" stroke-linejoin="round" stroke-linecap="round" />
<path d="M82.5 411.21C82.73 412.41 83.21 418.24 84.23 420.23C85.25 422.21 87.49 424.55 90.12 426.12C92.76 427.69 99.83 430.49 103.99 432.01C108.15 433.54 116.7 436.26 121.32 437.56C125.94 438.85 134.03 440.47 138.65 441.72C143.27 442.96 151.36 445.3 155.98 446.92C160.6 448.53 169.61 451.77 173.31 453.85C177.01 455.93 181.4 459.97 183.71 462.51C186.02 465.05 189.25 469.21 190.64 472.91C192.03 476.61 193.41 485.16 194.11 490.24C194.8 495.33 195.52 506.19 195.84 511.04C196.16 515.89 196.44 524.56 196.53 526.64 M196.53 526.64C196.67 523.63 197.07 510.35 197.57 504.11C198.08 497.87 199.19 485.39 200.35 479.84C201.5 474.3 203.84 466.67 206.24 462.51C208.64 458.35 214.44 452.35 218.37 448.65C222.3 444.95 231.08 438.94 235.7 434.78C240.32 430.62 248.41 421.84 253.03 417.45C257.65 413.06 265.74 405.32 270.36 401.85C274.99 398.39 283.07 394.23 287.69 391.46C292.32 388.68 300.4 383.23 305.03 381.06C309.65 378.89 317.74 376.41 322.36 375.16C326.98 373.92 335.07 372.53 339.69 371.7C344.31 370.87 352.63 369.62 357.02 368.93C361.41 368.23 370.54 366.82 372.62 366.5" fill="none" stroke="#f03030" stroke-width="1.8" stroke-linejoin="round" stroke-linecap="round" />
<path d="M76.95 412.25C77.23 413.64 77.97 420.34 79.03 422.65C80.09 424.96 81.59 427.6 84.92 429.58C88.25 431.57 99.13 435.85 103.99 437.56C108.84 439.27 116.7 441.16 121.32 442.41C125.94 443.66 134.03 445.62 138.65 446.92C143.27 448.21 151.36 450.5 155.98 452.11C160.6 453.73 169.61 457.2 173.31 459.05C177.01 460.9 181.4 463.67 183.71 465.98C186.02 468.29 189.25 472.22 190.64 476.38C192.03 480.54 193.41 490.7 194.11 497.18C194.8 503.65 195.47 518.99 195.84 524.9C196.21 530.82 196.74 539.32 196.88 541.54 M196.88 541.54C197.07 537.48 197.71 518.8 198.27 511.04C198.82 503.28 199.75 489.78 201.04 483.31C202.33 476.84 205.2 467.13 207.97 462.51C210.75 457.89 217.68 451.65 221.84 448.65C226 445.64 234.55 442.99 239.17 439.98C243.79 436.98 251.88 429.82 256.5 426.12C261.12 422.42 269.21 415.72 273.83 412.25C278.45 408.79 286.54 403.13 291.16 400.12C295.78 397.12 303.87 392.26 308.49 389.72C313.11 387.18 321.2 382.91 325.82 381.06C330.44 379.21 336.92 377.38 343.15 375.86C349.39 374.33 368.69 370.45 372.62 369.62" fill="none" stroke="#1860e0" stroke-width="1.8" stroke-linejoin="round" stroke-linecap="round" />
<path d="M85.62 410.52C85.85 411.44 86.29 415.83 87.35 417.45C88.41 419.07 90.44 421.27 93.59 422.65C96.73 424.04 105.83 426.56 110.92 427.85C116 429.15 126.17 431.11 131.72 432.36C137.26 433.6 147.43 435.96 152.51 437.21C157.6 438.46 165.68 440.28 169.84 441.72C174 443.15 180.47 445.88 183.71 447.95C186.94 450.03 191.89 454.45 194.11 457.31C196.33 460.18 199.15 465.05 200.35 469.45C201.55 473.84 202.56 484.93 203.12 490.24C203.67 495.56 204.32 506.76 204.51 509.31 M204.51 509.31C204.69 505.84 205.2 489.55 205.89 483.31C206.59 477.07 208.04 467.13 209.71 462.51C211.37 457.89 215.37 452.11 218.37 448.65C221.37 445.18 228.08 440.44 232.24 436.52C236.4 432.59 244.95 423.34 249.57 419.19C254.19 415.03 262.28 408.56 266.9 405.32C271.52 402.09 279.61 397.46 284.23 394.92C288.85 392.38 296.94 388.34 301.56 386.26C306.18 384.18 314.27 380.85 318.89 379.32C323.51 377.8 329.06 376.11 336.22 374.82C343.39 373.52 367.76 370.31 372.62 369.62" fill="none" stroke="#2aa860" stroke-width="1.8" stroke-linejoin="round" stroke-linecap="round" />
<path d="M77.99 417.45C78.31 418.61 79.26 424.04 80.42 426.12C81.57 428.2 83.51 431.2 86.66 433.05C89.8 434.9 99.36 438.37 103.99 439.98C108.61 441.6 116.7 443.8 121.32 445.18C125.94 446.57 134.03 448.76 138.65 450.38C143.27 452 151.82 455.47 155.98 457.31C160.14 459.16 166.84 462.17 169.84 464.25C172.85 466.33 176.66 469.91 178.51 472.91C180.36 475.92 182.65 481.69 183.71 486.78C184.77 491.86 185.97 504.11 186.48 511.04C186.99 517.97 187.29 532.39 187.52 538.77C187.75 545.15 188.12 556.19 188.21 558.87 M188.21 558.87C188.35 554.34 188.84 534.06 189.25 524.9C189.67 515.75 190.46 497.64 191.33 490.24C192.21 482.85 194.08 474.07 195.84 469.45C197.6 464.82 201.04 459.05 204.51 455.58C207.97 452.11 216.75 446.68 221.84 443.45C226.92 440.21 237.09 435.01 242.63 431.32C248.18 427.62 257.89 419.65 263.43 415.72C268.98 411.79 278.68 405.09 284.23 401.85C289.77 398.62 299.48 393.77 305.03 391.46C310.57 389.15 320.28 386 325.82 384.52C331.37 383.04 340.38 381.38 346.62 380.36C352.86 379.35 369.15 377.36 372.62 376.9" fill="none" stroke="#a868e0" stroke-width="1.8" stroke-linejoin="round" stroke-linecap="round" />
<path d="M79.72 415.72C80 416.87 80.65 422.31 81.8 424.38C82.96 426.46 85.43 429.38 88.39 431.32C91.35 433.26 99.6 437.19 103.99 438.94C108.38 440.7 116.7 443.1 121.32 444.49C125.94 445.88 134.03 447.86 138.65 449.34C143.27 450.82 151.82 453.82 155.98 455.58C160.14 457.34 166.61 460.57 169.84 462.51C173.08 464.45 178.16 467.37 180.24 470.14C182.32 472.91 184.43 478.78 185.44 483.31C186.46 487.84 187.36 498.93 187.87 504.11C188.38 509.28 189.07 519.73 189.25 522.13 M189.25 522.13C189.44 518.8 190.09 503.28 190.64 497.18C191.2 491.07 192.26 481 193.41 476.38C194.57 471.76 196.9 465.98 199.31 462.51C201.71 459.05 207.51 453.39 211.44 450.38C215.37 447.38 224.15 442.76 228.77 439.98C233.39 437.21 241.48 433.05 246.1 429.58C250.72 426.12 258.81 418.01 263.43 413.99C268.05 409.97 276.14 402.89 280.76 399.43C285.38 395.96 293.47 390.53 298.09 387.99C302.72 385.45 310.8 381.98 315.42 380.36C320.05 378.75 325.13 377.15 332.76 375.86C340.38 374.56 367.3 371.35 372.62 370.66" fill="none" stroke="#c8960c" stroke-width="1.8" stroke-linejoin="round" stroke-linecap="round" />
<path d="M79.03 411.56C79.35 412.81 80.44 418.75 81.46 420.92C82.47 423.09 83.65 425.91 86.66 427.85C89.66 429.79 99.36 433.63 103.99 435.48C108.61 437.33 116.7 440.1 121.32 441.72C125.94 443.33 134.49 445.99 138.65 447.61C142.81 449.23 149.28 452.09 152.51 453.85C155.75 455.6 160.6 458.7 162.91 460.78C165.22 462.86 168.37 466.44 169.84 469.45C171.32 472.45 173.17 478.23 174 483.31C174.84 488.39 175.67 500.64 176.08 507.57C176.5 514.51 176.89 529.43 177.12 535.3C177.35 541.17 177.72 549.42 177.82 551.59 M177.82 551.59C177.95 547.11 178.44 527.08 178.86 517.97C179.27 508.87 180.06 490.7 180.94 483.31C181.81 475.92 183.69 466.9 185.44 462.51C187.2 458.12 191.1 453.15 194.11 450.38C197.11 447.61 203.81 444.26 207.97 441.72C212.13 439.17 220.68 434.32 225.3 431.32C229.92 428.31 238.01 422.42 242.63 419.19C247.26 415.95 255.34 410.06 259.97 407.05C264.59 404.05 272.67 399.2 277.3 396.66C281.92 394.11 290.01 390.07 294.63 387.99C299.25 385.91 307.34 382.67 311.96 381.06C316.58 379.44 321.2 377.38 329.29 375.86C337.38 374.33 366.84 370.45 372.62 369.62" fill="none" stroke="#10c8cc" stroke-width="1.8" stroke-linejoin="round" stroke-linecap="round" />
<path d="M83.19 412.25C83.47 413.5 84.25 419.44 85.27 421.61C86.29 423.78 87.86 426.7 90.81 428.54C93.77 430.39 102.92 433.81 107.45 435.48C111.98 437.14 120.16 439.5 124.78 441.02C129.4 442.55 137.49 445.3 142.11 446.92C146.74 448.53 155.29 451.44 159.45 453.15C163.6 454.86 170.08 457.66 173.31 459.74C176.55 461.82 181.63 465.84 183.71 468.75C185.79 471.66 187.89 476.86 188.91 481.58C189.92 486.29 190.83 497.5 191.33 504.11C191.84 510.72 192.54 527.54 192.72 531.14 M192.72 531.14C192.91 527.54 193.55 510.95 194.11 504.11C194.66 497.27 195.73 485.16 196.88 479.84C198.04 474.53 200.37 467.94 202.77 464.25C205.18 460.55 210.98 455.35 214.9 452.11C218.83 448.88 227.61 443.22 232.24 439.98C236.86 436.75 244.95 431.55 249.57 427.85C254.19 424.15 262.28 416.04 266.9 412.25C271.52 408.46 279.61 402.52 284.23 399.43C288.85 396.33 296.94 391.39 301.56 389.03C306.18 386.67 314.27 383.37 318.89 381.75C323.51 380.13 329.06 378.24 336.22 376.9C343.39 375.56 367.76 372.39 372.62 371.7" fill="none" stroke="#6e4040" stroke-width="1.8" stroke-linejoin="round" stroke-linecap="round" />
</g>
<rect x="50.3" y="333.6" width="322.7" height="259.2" fill="none" stroke="#000" stroke-width="1.9"/>
<line x1="50.3" y1="333.6" x2="54.8" y2="333.6" stroke="#000" stroke-width="1.6" />
<text x="43.8" y="337.2" font-size="10.3" text-anchor="end">10<tspan font-size="6.5" dy="-4.2">-1</tspan></text>
<line x1="50.3" y1="356.25" x2="52.6" y2="356.25" stroke="#000" stroke-width="1" />
<line x1="50.3" y1="350.54" x2="52.6" y2="350.54" stroke="#000" stroke-width="1" />
<line x1="50.3" y1="346.49" x2="52.6" y2="346.49" stroke="#000" stroke-width="1" />
<line x1="50.3" y1="343.35" x2="52.6" y2="343.35" stroke="#000" stroke-width="1" />
<line x1="50.3" y1="340.79" x2="52.6" y2="340.79" stroke="#000" stroke-width="1" />
<line x1="50.3" y1="338.62" x2="52.6" y2="338.62" stroke="#000" stroke-width="1" />
<line x1="50.3" y1="336.74" x2="52.6" y2="336.74" stroke="#000" stroke-width="1" />
<line x1="50.3" y1="335.08" x2="52.6" y2="335.08" stroke="#000" stroke-width="1" />
<line x1="50.3" y1="366" x2="54.8" y2="366" stroke="#000" stroke-width="1.6" />
<text x="43.8" y="369.6" font-size="10.3" text-anchor="end">10<tspan font-size="6.5" dy="-4.2">-2</tspan></text>
<line x1="50.3" y1="388.65" x2="52.6" y2="388.65" stroke="#000" stroke-width="1" />
<line x1="50.3" y1="382.94" x2="52.6" y2="382.94" stroke="#000" stroke-width="1" />
<line x1="50.3" y1="378.89" x2="52.6" y2="378.89" stroke="#000" stroke-width="1" />
<line x1="50.3" y1="375.75" x2="52.6" y2="375.75" stroke="#000" stroke-width="1" />
<line x1="50.3" y1="373.19" x2="52.6" y2="373.19" stroke="#000" stroke-width="1" />
<line x1="50.3" y1="371.02" x2="52.6" y2="371.02" stroke="#000" stroke-width="1" />
<line x1="50.3" y1="369.14" x2="52.6" y2="369.14" stroke="#000" stroke-width="1" />
<line x1="50.3" y1="367.48" x2="52.6" y2="367.48" stroke="#000" stroke-width="1" />
<line x1="50.3" y1="398.4" x2="54.8" y2="398.4" stroke="#000" stroke-width="1.6" />
<text x="43.8" y="402" font-size="10.3" text-anchor="end">10<tspan font-size="6.5" dy="-4.2">-3</tspan></text>
<line x1="50.3" y1="421.05" x2="52.6" y2="421.05" stroke="#000" stroke-width="1" />
<line x1="50.3" y1="415.34" x2="52.6" y2="415.34" stroke="#000" stroke-width="1" />
<line x1="50.3" y1="411.29" x2="52.6" y2="411.29" stroke="#000" stroke-width="1" />
<line x1="50.3" y1="408.15" x2="52.6" y2="408.15" stroke="#000" stroke-width="1" />
<line x1="50.3" y1="405.59" x2="52.6" y2="405.59" stroke="#000" stroke-width="1" />
<line x1="50.3" y1="403.42" x2="52.6" y2="403.42" stroke="#000" stroke-width="1" />
<line x1="50.3" y1="401.54" x2="52.6" y2="401.54" stroke="#000" stroke-width="1" />
<line x1="50.3" y1="399.88" x2="52.6" y2="399.88" stroke="#000" stroke-width="1" />
<line x1="50.3" y1="430.8" x2="54.8" y2="430.8" stroke="#000" stroke-width="1.6" />
<text x="43.8" y="434.4" font-size="10.3" text-anchor="end">10<tspan font-size="6.5" dy="-4.2">-4</tspan></text>
<line x1="50.3" y1="453.45" x2="52.6" y2="453.45" stroke="#000" stroke-width="1" />
<line x1="50.3" y1="447.74" x2="52.6" y2="447.74" stroke="#000" stroke-width="1" />
<line x1="50.3" y1="443.69" x2="52.6" y2="443.69" stroke="#000" stroke-width="1" />
<line x1="50.3" y1="440.55" x2="52.6" y2="440.55" stroke="#000" stroke-width="1" />
<line x1="50.3" y1="437.99" x2="52.6" y2="437.99" stroke="#000" stroke-width="1" />
<line x1="50.3" y1="435.82" x2="52.6" y2="435.82" stroke="#000" stroke-width="1" />
<line x1="50.3" y1="433.94" x2="52.6" y2="433.94" stroke="#000" stroke-width="1" />
<line x1="50.3" y1="432.28" x2="52.6" y2="432.28" stroke="#000" stroke-width="1" />
<line x1="50.3" y1="463.2" x2="54.8" y2="463.2" stroke="#000" stroke-width="1.6" />
<text x="43.8" y="466.8" font-size="10.3" text-anchor="end">10<tspan font-size="6.5" dy="-4.2">-5</tspan></text>
<line x1="50.3" y1="485.85" x2="52.6" y2="485.85" stroke="#000" stroke-width="1" />
<line x1="50.3" y1="480.14" x2="52.6" y2="480.14" stroke="#000" stroke-width="1" />
<line x1="50.3" y1="476.09" x2="52.6" y2="476.09" stroke="#000" stroke-width="1" />
<line x1="50.3" y1="472.95" x2="52.6" y2="472.95" stroke="#000" stroke-width="1" />
<line x1="50.3" y1="470.39" x2="52.6" y2="470.39" stroke="#000" stroke-width="1" />
<line x1="50.3" y1="468.22" x2="52.6" y2="468.22" stroke="#000" stroke-width="1" />
<line x1="50.3" y1="466.34" x2="52.6" y2="466.34" stroke="#000" stroke-width="1" />
<line x1="50.3" y1="464.68" x2="52.6" y2="464.68" stroke="#000" stroke-width="1" />
<line x1="50.3" y1="495.6" x2="54.8" y2="495.6" stroke="#000" stroke-width="1.6" />
<text x="43.8" y="499.2" font-size="10.3" text-anchor="end">10<tspan font-size="6.5" dy="-4.2">-6</tspan></text>
<line x1="50.3" y1="518.25" x2="52.6" y2="518.25" stroke="#000" stroke-width="1" />
<line x1="50.3" y1="512.54" x2="52.6" y2="512.54" stroke="#000" stroke-width="1" />
<line x1="50.3" y1="508.49" x2="52.6" y2="508.49" stroke="#000" stroke-width="1" />
<line x1="50.3" y1="505.35" x2="52.6" y2="505.35" stroke="#000" stroke-width="1" />
<line x1="50.3" y1="502.79" x2="52.6" y2="502.79" stroke="#000" stroke-width="1" />
<line x1="50.3" y1="500.62" x2="52.6" y2="500.62" stroke="#000" stroke-width="1" />
<line x1="50.3" y1="498.74" x2="52.6" y2="498.74" stroke="#000" stroke-width="1" />
<line x1="50.3" y1="497.08" x2="52.6" y2="497.08" stroke="#000" stroke-width="1" />
<line x1="50.3" y1="528" x2="54.8" y2="528" stroke="#000" stroke-width="1.6" />
<text x="43.8" y="531.6" font-size="10.3" text-anchor="end">10<tspan font-size="6.5" dy="-4.2">-7</tspan></text>
<line x1="50.3" y1="550.65" x2="52.6" y2="550.65" stroke="#000" stroke-width="1" />
<line x1="50.3" y1="544.94" x2="52.6" y2="544.94" stroke="#000" stroke-width="1" />
<line x1="50.3" y1="540.89" x2="52.6" y2="540.89" stroke="#000" stroke-width="1" />
<line x1="50.3" y1="537.75" x2="52.6" y2="537.75" stroke="#000" stroke-width="1" />
<line x1="50.3" y1="535.19" x2="52.6" y2="535.19" stroke="#000" stroke-width="1" />
<line x1="50.3" y1="533.02" x2="52.6" y2="533.02" stroke="#000" stroke-width="1" />
<line x1="50.3" y1="531.14" x2="52.6" y2="531.14" stroke="#000" stroke-width="1" />
<line x1="50.3" y1="529.48" x2="52.6" y2="529.48" stroke="#000" stroke-width="1" />
<line x1="50.3" y1="560.4" x2="54.8" y2="560.4" stroke="#000" stroke-width="1.6" />
<text x="43.8" y="564" font-size="10.3" text-anchor="end">10<tspan font-size="6.5" dy="-4.2">-8</tspan></text>
<line x1="50.3" y1="583.05" x2="52.6" y2="583.05" stroke="#000" stroke-width="1" />
<line x1="50.3" y1="577.34" x2="52.6" y2="577.34" stroke="#000" stroke-width="1" />
<line x1="50.3" y1="573.29" x2="52.6" y2="573.29" stroke="#000" stroke-width="1" />
<line x1="50.3" y1="570.15" x2="52.6" y2="570.15" stroke="#000" stroke-width="1" />
<line x1="50.3" y1="567.59" x2="52.6" y2="567.59" stroke="#000" stroke-width="1" />
<line x1="50.3" y1="565.42" x2="52.6" y2="565.42" stroke="#000" stroke-width="1" />
<line x1="50.3" y1="563.54" x2="52.6" y2="563.54" stroke="#000" stroke-width="1" />
<line x1="50.3" y1="561.88" x2="52.6" y2="561.88" stroke="#000" stroke-width="1" />
<line x1="50.3" y1="592.8" x2="54.8" y2="592.8" stroke="#000" stroke-width="1.6" />
<text x="43.8" y="596.4" font-size="10.3" text-anchor="end">10<tspan font-size="6.5" dy="-4.2">-9</tspan></text>
<line x1="77" y1="592.8" x2="77" y2="588.3" stroke="#000" stroke-width="1.6" />
<text x="77" y="606.8" font-size="10.3" text-anchor="middle" fill="#000" >-1.3</text>
<line x1="130.8" y1="592.8" x2="130.8" y2="588.3" stroke="#000" stroke-width="1.6" />
<text x="130.8" y="606.8" font-size="10.3" text-anchor="middle" fill="#000" >-1.2</text>
<line x1="184.6" y1="592.8" x2="184.6" y2="588.3" stroke="#000" stroke-width="1.6" />
<text x="184.6" y="606.8" font-size="10.3" text-anchor="middle" fill="#000" >-1.1</text>
<line x1="238.4" y1="592.8" x2="238.4" y2="588.3" stroke="#000" stroke-width="1.6" />
<text x="238.4" y="606.8" font-size="10.3" text-anchor="middle" fill="#000" >-1.0</text>
<line x1="292.2" y1="592.8" x2="292.2" y2="588.3" stroke="#000" stroke-width="1.6" />
<text x="292.2" y="606.8" font-size="10.3" text-anchor="middle" fill="#000" >-0.9</text>
<line x1="346" y1="592.8" x2="346" y2="588.3" stroke="#000" stroke-width="1.6" />
<text x="346" y="606.8" font-size="10.3" text-anchor="middle" fill="#000" >-0.8</text>
<line x1="50.1" y1="592.8" x2="50.1" y2="590.3" stroke="#000" stroke-width="1.28" />
<line x1="103.9" y1="592.8" x2="103.9" y2="590.3" stroke="#000" stroke-width="1.28" />
<line x1="157.7" y1="592.8" x2="157.7" y2="590.3" stroke="#000" stroke-width="1.28" />
<line x1="211.5" y1="592.8" x2="211.5" y2="590.3" stroke="#000" stroke-width="1.28" />
<line x1="265.3" y1="592.8" x2="265.3" y2="590.3" stroke="#000" stroke-width="1.28" />
<line x1="319.1" y1="592.8" x2="319.1" y2="590.3" stroke="#000" stroke-width="1.28" />
<line x1="372.9" y1="592.8" x2="372.9" y2="590.3" stroke="#000" stroke-width="1.28" />
<text x="60.5" y="388" font-size="53.6" text-anchor="start" fill="#000" >(c)</text>
<text x="205" y="627" font-size="17" text-anchor="middle" fill="#000"  textLength="126.5" lengthAdjust="spacingAndGlyphs">Potential(V/SCE)</text>
<text transform="translate(20 462.5) rotate(-90)" font-size="17" text-anchor="middle">I(Amps/cm<tspan font-size="11" dy="-6">2</tspan><tspan dy="6">)</tspan></text>
<line x1="301" y1="419.5" x2="331" y2="419.5" stroke="#3f3f3f" stroke-width="1.6" />
<text x="334.5" y="423.86" font-size="13.2" text-anchor="start" fill="#000" >Z1</text>
<line x1="301" y1="436.35" x2="331" y2="436.35" stroke="#f03030" stroke-width="1.6" />
<text x="334.5" y="440.71" font-size="13.2" text-anchor="start" fill="#000" >Z2</text>
<line x1="301" y1="453.2" x2="331" y2="453.2" stroke="#1860e0" stroke-width="1.6" />
<text x="334.5" y="457.56" font-size="13.2" text-anchor="start" fill="#000" >Z3</text>
<line x1="301" y1="470.05" x2="331" y2="470.05" stroke="#2aa860" stroke-width="1.6" />
<text x="334.5" y="474.41" font-size="13.2" text-anchor="start" fill="#000" >Z4</text>
<line x1="301" y1="486.9" x2="331" y2="486.9" stroke="#a868e0" stroke-width="1.6" />
<text x="334.5" y="491.26" font-size="13.2" text-anchor="start" fill="#000" >Z5</text>
<line x1="301" y1="503.75" x2="331" y2="503.75" stroke="#c8960c" stroke-width="1.6" />
<text x="334.5" y="508.11" font-size="13.2" text-anchor="start" fill="#000" >Z6</text>
<line x1="301" y1="520.6" x2="331" y2="520.6" stroke="#10c8cc" stroke-width="1.6" />
<text x="334.5" y="524.96" font-size="13.2" text-anchor="start" fill="#000" >Z7</text>
<line x1="301" y1="537.45" x2="331" y2="537.45" stroke="#6e4040" stroke-width="1.6" />
<text x="334.5" y="541.81" font-size="13.2" text-anchor="start" fill="#000" >Z8</text>
<g clip-path="url(#clipd)">
<path d="M433.24 585.34C434.34 584.98 437.08 583.69 439.83 583.2C442.57 582.7 446.69 582.37 449.71 582.37C452.73 582.37 455.48 583.33 457.95 583.2C460.42 583.06 463.44 581.82 464.54 581.55" fill="none" stroke="#2aa860" stroke-width="2.21" stroke-linejoin="round" stroke-linecap="round" />
<path d="M433.24 585.34C434.61 584.57 438.73 581.91 441.47 580.72C444.22 579.54 446.97 578.8 449.71 578.25C452.46 577.7 455.2 577.43 457.95 577.43C460.69 577.43 463.44 577.84 466.19 578.25C468.93 578.67 471.68 579.76 474.42 579.9C477.17 580.04 479.91 579.71 482.66 579.08C485.41 578.45 488.43 576.94 490.9 576.11C493.37 575.29 495.57 573.92 497.49 574.14C499.41 574.35 502.43 576.39 502.43 577.43C502.43 578.47 499.41 579.71 497.49 580.4C495.57 581.08 492 581.36 490.9 581.55" fill="none" stroke="#3f3f3f" stroke-width="2.04" stroke-linejoin="round" stroke-linecap="round" />
<g fill="url(#ball_k)"><circle cx="433.24" cy="585.34" r="1.84"/><circle cx="438.84" cy="582.05" r="1.84"/><circle cx="444.81" cy="579.49" r="1.84"/><circle cx="451.13" cy="578" r="1.84"/><circle cx="457.59" cy="577.43" r="1.84"/><circle cx="464.07" cy="577.94" r="1.84"/><circle cx="470.44" cy="579.21" r="1.84"/><circle cx="476.87" cy="579.9" r="1.84"/><circle cx="483.28" cy="578.91" r="1.84"/><circle cx="489.38" cy="576.67" r="1.84"/><circle cx="495.46" cy="574.38" r="1.84"/><circle cx="501.44" cy="576.05" r="1.84"/><circle cx="498.57" cy="579.99" r="1.84"/><circle cx="492.25" cy="581.37" r="1.84"/></g>
<path d="M433.24 585.34C434.34 584.71 437.63 582.45 439.83 581.55C442.02 580.64 444.22 580.18 446.42 579.9C448.61 579.63 450.81 579.71 453.01 579.9C455.2 580.09 457.4 580.64 459.6 581.05C461.79 581.47 464.26 582.29 466.19 582.37C468.11 582.45 469.48 582.65 471.13 581.55C472.78 580.45 474.42 577.43 476.07 575.78C477.72 574.14 480.19 572.35 481.01 571.66" fill="none" stroke="#a868e0" stroke-width="2.21" stroke-linejoin="round" stroke-linecap="round" />
<g fill="url(#ball_p)"><circle cx="433.24" cy="585.34" r="1.84"/><circle cx="438.82" cy="582.02" r="1.84"/><circle cx="445.01" cy="580.11" r="1.84"/><circle cx="451.49" cy="579.79" r="1.84"/><circle cx="457.91" cy="580.72" r="1.84"/><circle cx="464.26" cy="582.11" r="1.84"/><circle cx="470.64" cy="581.83" r="1.84"/><circle cx="474.97" cy="577.05" r="1.84"/><circle cx="479.74" cy="572.66" r="1.84"/></g>
<path d="M433.24 585.34C433.79 584.84 435.43 583.28 436.53 582.37C437.63 581.47 438.18 580.86 439.83 579.9C441.47 578.94 444.22 577.43 446.42 576.61C448.61 575.78 450.81 575.23 453.01 574.96C455.2 574.68 457.4 574.77 459.6 574.96C461.79 575.15 464.26 575.56 466.19 576.11C468.11 576.66 469.76 577.48 471.13 578.25C472.5 579.02 473.05 580.18 474.42 580.72C475.8 581.27 477.72 581.82 479.37 581.55C481.01 581.27 482.39 580.59 484.31 579.08C486.23 577.57 489.25 573.86 490.9 572.49C492.55 571.11 493.64 571.11 494.19 570.84" fill="none" stroke="#f03030" stroke-width="1.7" stroke-linejoin="round" stroke-linecap="round" />
<path d="M474.42 580.72C475.52 580.78 478.27 581.6 481.01 581.05C483.76 580.51 488.15 578.45 490.9 577.43C493.64 576.41 496.39 575.37 497.49 574.96" fill="none" stroke="#f03030" stroke-width="2.72" stroke-linejoin="round" stroke-linecap="round" />
<g fill="url(#ball_r)"><circle cx="433.24" cy="585.34" r="1.84"/><circle cx="438.12" cy="581.05" r="1.84"/><circle cx="443.73" cy="577.79" r="1.84"/><circle cx="449.82" cy="575.55" r="1.84"/><circle cx="456.26" cy="574.78" r="1.84"/><circle cx="462.73" cy="575.36" r="1.84"/><circle cx="468.95" cy="577.14" r="1.84"/><circle cx="474.35" cy="580.69" r="1.84"/><circle cx="480.67" cy="581.22" r="1.84"/><circle cx="485.97" cy="577.55" r="1.84"/><circle cx="490.48" cy="572.87" r="1.84"/></g>
<path d="M463.71 580.72C466.32 578.94 476.76 571.8 479.37 570.02" fill="none" stroke="#20d0a0" stroke-width="2.04" stroke-linejoin="round" stroke-linecap="round" />
<path d="M433.24 585.34C433.79 584.43 435.43 581.49 436.53 579.9C437.63 578.31 438.18 577.43 439.83 575.78C441.47 574.14 443.95 571.66 446.42 570.02C448.89 568.37 451.91 566.78 454.65 565.9C457.4 565.02 460.15 564.94 462.89 564.74C465.64 564.55 468.38 564.61 471.13 564.74C473.87 564.88 476.62 565.16 479.37 565.57C482.11 565.98 484.86 566.56 487.6 567.22C490.35 567.87 493.09 568.73 495.84 569.52C498.59 570.32 501.33 571.17 504.08 571.99C506.82 572.82 509.84 573.83 512.31 574.46C514.79 575.1 516.98 575.51 518.9 575.78C520.83 576.06 521.92 576.25 523.85 576.11C525.77 575.97 528.24 575.56 530.44 574.96C532.63 574.35 534.83 573.45 537.03 572.49C539.22 571.53 541.42 570.43 543.62 569.19C545.81 567.96 548.28 566.23 550.21 565.07C552.13 563.92 554.32 562.74 555.15 562.27" fill="none" stroke="#10c8cc" stroke-width="2.38" stroke-linejoin="round" stroke-linecap="round" />
<g fill="url(#ball_c)"><circle cx="433.24" cy="585.34" r="1.72"/><circle cx="436.25" cy="580.32" r="1.72"/><circle cx="439.87" cy="575.74" r="1.72"/><circle cx="444.14" cy="571.75" r="1.72"/><circle cx="448.96" cy="568.46" r="1.72"/><circle cx="454.28" cy="566.03" r="1.72"/><circle cx="460.01" cy="564.95" r="1.72"/><circle cx="465.85" cy="564.63" r="1.72"/><circle cx="471.7" cy="564.78" r="1.72"/><circle cx="477.52" cy="565.31" r="1.72"/><circle cx="483.29" cy="566.26" r="1.72"/><circle cx="488.99" cy="567.57" r="1.72"/><circle cx="494.62" cy="569.17" r="1.72"/><circle cx="500.23" cy="570.83" r="1.72"/><circle cx="505.83" cy="572.53" r="1.72"/><circle cx="511.42" cy="574.23" r="1.72"/><circle cx="517.13" cy="575.5" r="1.72"/><circle cx="522.94" cy="576.15" r="1.72"/><circle cx="528.73" cy="575.38" r="1.72"/><circle cx="534.3" cy="573.63" r="1.72"/><circle cx="539.65" cy="571.27" r="1.72"/><circle cx="544.8" cy="568.5" r="1.72"/><circle cx="549.74" cy="565.36" r="1.72"/><circle cx="554.82" cy="562.46" r="1.72"/></g>
<path d="M433.24 585.34C433.65 584.57 434.88 582.04 435.71 580.72C436.53 579.41 436.94 578.8 438.18 577.43C439.42 576.06 441.2 573.92 443.12 572.49C445.04 571.06 447.24 569.82 449.71 568.86C452.18 567.9 455.2 567.13 457.95 566.72C460.69 566.31 463.44 566.31 466.19 566.39C468.93 566.47 471.68 566.75 474.42 567.22C477.17 567.68 479.91 568.4 482.66 569.19C485.41 569.99 488.15 571.03 490.9 571.99C493.64 572.95 496.39 574.11 499.14 574.96C501.88 575.81 504.9 576.55 507.37 577.1C509.84 577.65 511.77 578.06 513.96 578.25C516.16 578.45 518.63 578.67 520.55 578.25C522.47 577.84 523.85 576.74 525.49 575.78C527.14 574.82 528.51 573.72 530.44 572.49C532.36 571.25 534.69 569.74 537.03 568.37C539.36 567 543.2 564.94 544.44 564.25" fill="none" stroke="#8a4a30" stroke-width="2.55" stroke-linejoin="round" stroke-linecap="round" />
<g fill="url(#ball_n)"><circle cx="433.24" cy="585.34" r="1.72"/><circle cx="436.04" cy="580.2" r="1.72"/><circle cx="439.74" cy="575.69" r="1.72"/><circle cx="444.09" cy="571.8" r="1.72"/><circle cx="449.24" cy="569.05" r="1.72"/><circle cx="454.82" cy="567.32" r="1.72"/><circle cx="460.6" cy="566.44" r="1.72"/><circle cx="466.45" cy="566.4" r="1.72"/><circle cx="472.28" cy="566.89" r="1.72"/><circle cx="478.03" cy="567.96" r="1.72"/><circle cx="483.67" cy="569.5" r="1.72"/><circle cx="489.2" cy="571.39" r="1.72"/><circle cx="494.7" cy="573.4" r="1.72"/><circle cx="500.23" cy="575.29" r="1.72"/><circle cx="505.89" cy="576.76" r="1.72"/><circle cx="511.62" cy="577.96" r="1.72"/><circle cx="517.44" cy="578.48" r="1.72"/><circle cx="523.07" cy="577.25" r="1.72"/><circle cx="528.02" cy="574.13" r="1.72"/><circle cx="532.9" cy="570.91" r="1.72"/><circle cx="537.9" cy="567.87" r="1.72"/><circle cx="543.01" cy="565.03" r="1.72"/></g>
<path d="M433.24 585.34C433.92 584.24 435.98 580.89 437.36 578.75C438.73 576.61 439.42 574.9 441.47 572.49C443.53 570.07 446.97 566.58 449.71 564.25C452.46 561.92 454.93 560.19 457.95 558.48C460.97 556.78 464.54 555.22 467.83 554.04C471.13 552.86 474.42 552.09 477.72 551.4C481.01 550.71 484.31 550.25 487.6 549.92C490.9 549.59 494.19 549.45 497.49 549.42C500.78 549.4 504.08 549.42 507.37 549.75C510.67 550.08 513.96 550.63 517.26 551.4C520.55 552.17 523.85 553.19 527.14 554.37C530.44 555.55 533.73 556.84 537.03 558.48C540.32 560.13 543.62 562.05 546.91 564.25C550.21 566.45 553.78 569.25 556.8 571.66C559.82 574.08 563.11 577.1 565.03 578.75C566.95 580.4 567.78 581.08 568.33 581.55" fill="none" stroke="#e0a830" stroke-width="1.53" stroke-linejoin="round" stroke-linecap="round" />
<g fill="url(#ball_y)"><circle cx="433.24" cy="585.34" r="2.64"/><circle cx="439.83" cy="577.43" r="2.64"/><circle cx="446.42" cy="570.84" r="2.64"/><circle cx="453.01" cy="565.07" r="2.64"/><circle cx="459.6" cy="560.96" r="2.64"/><circle cx="466.19" cy="557.99" r="2.64"/><circle cx="472.78" cy="556.01" r="2.64"/><circle cx="479.37" cy="554.7" r="2.64"/><circle cx="485.96" cy="554.04" r="2.64"/><circle cx="492.55" cy="553.71" r="2.64"/><circle cx="499.14" cy="553.87" r="2.64"/><circle cx="505.72" cy="554.04" r="2.64"/><circle cx="512.31" cy="554.7" r="2.64"/><circle cx="518.9" cy="555.52" r="2.64"/><circle cx="525.49" cy="556.84" r="2.64"/><circle cx="532.08" cy="558.32" r="2.64"/><circle cx="538.67" cy="559.8" r="2.64"/><circle cx="545.26" cy="561.45" r="2.64"/><circle cx="551.85" cy="562.93" r="2.64"/><circle cx="558.44" cy="564.25" r="2.64"/><circle cx="565.03" cy="565.57" r="2.64"/><circle cx="571.62" cy="566.72" r="2.64"/><circle cx="578.21" cy="567.87" r="2.64"/><circle cx="579.86" cy="568.37" r="2.64"/></g>
<g fill="url(#ball_b2)"><circle cx="433.24" cy="585.34" r="2.53"/><circle cx="437.32" cy="578.31" r="2.53"/><circle cx="442.1" cy="571.75" r="2.53"/><circle cx="447.51" cy="565.7" r="2.53"/><circle cx="453.28" cy="559.98" r="2.53"/><circle cx="459.55" cy="554.81" r="2.53"/><circle cx="466.31" cy="550.32" r="2.53"/><circle cx="473.42" cy="546.38" r="2.53"/><circle cx="480.85" cy="543.1" r="2.53"/><circle cx="488.65" cy="540.86" r="2.53"/><circle cx="496.66" cy="539.58" r="2.53"/><circle cx="504.75" cy="538.79" r="2.53"/><circle cx="512.84" cy="538.04" r="2.53"/><circle cx="520.95" cy="537.55" r="2.53"/><circle cx="529.07" cy="537.38" r="2.53"/><circle cx="537.19" cy="537.68" r="2.53"/><circle cx="545.29" cy="538.33" r="2.53"/><circle cx="553.36" cy="539.3" r="2.53"/><circle cx="561.38" cy="540.59" r="2.53"/><circle cx="569.34" cy="542.2" r="2.53"/><circle cx="577.23" cy="544.13" r="2.53"/><circle cx="585.09" cy="546.21" r="2.53"/><circle cx="592.95" cy="548.25" r="2.53"/><circle cx="600.83" cy="550.24" r="2.53"/><circle cx="608.64" cy="552.45" r="2.53"/><circle cx="616.38" cy="554.93" r="2.53"/><circle cx="616.13" cy="555.01" r="2.53"/><circle cx="608.36" cy="552.62" r="2.53"/><circle cx="600.6" cy="550.21" r="2.53"/><circle cx="592.84" cy="547.8" r="2.53"/><circle cx="591.36" cy="547.3" r="2.53"/><circle cx="599.13" cy="549.66" r="2.53"/><circle cx="606.93" cy="551.94" r="2.53"/><circle cx="614.78" cy="554.06" r="2.53"/><circle cx="622.66" cy="556.01" r="2.53"/><circle cx="630.59" cy="557.79" r="2.53"/><circle cx="638.57" cy="559.3" r="2.53"/><circle cx="646.63" cy="560.34" r="2.53"/><circle cx="654.73" cy="560.9" r="2.53"/><circle cx="662.86" cy="560.86" r="2.53"/><circle cx="670.96" cy="560.24" r="2.53"/><circle cx="678.9" cy="558.56" r="2.53"/><circle cx="686.44" cy="555.56" r="2.53"/><circle cx="693.6" cy="551.74" r="2.53"/><circle cx="700.41" cy="547.31" r="2.53"/><circle cx="707.01" cy="542.58" r="2.53"/><circle cx="713.44" cy="537.61" r="2.53"/><circle cx="720.12" cy="532.98" r="2.53"/><circle cx="727.02" cy="528.69" r="2.53"/><circle cx="734.08" cy="524.67" r="2.53"/></g>
<path d="M433.24 585.34C433.92 584.16 435.98 580.4 437.36 578.25C438.73 576.11 439.42 574.96 441.47 572.49C443.53 570.02 446.97 566.17 449.71 563.43C452.46 560.68 454.93 558.35 457.95 556.01C460.97 553.68 464.26 551.48 467.83 549.42C471.4 547.36 475.52 545.17 479.37 543.66C483.21 542.15 487.33 541.1 490.9 540.36C494.47 539.62 497.49 539.57 500.78 539.21C504.08 538.85 507.37 538.5 510.67 538.22C513.96 537.95 517.26 537.7 520.55 537.56C523.85 537.42 527.14 537.34 530.44 537.4C533.73 537.45 537.03 537.64 540.32 537.89C543.62 538.14 546.91 538.47 550.21 538.88C553.5 539.29 556.8 539.79 560.09 540.36C563.39 540.94 566.68 541.6 569.98 542.34C573.27 543.08 576.57 543.96 579.86 544.81C583.15 545.66 586.45 546.6 589.74 547.45C593.04 548.3 596.33 549.04 599.63 549.92C602.92 550.8 606.22 551.7 609.51 552.72C612.81 553.73 622.92 557.07 619.4 556.01C615.87 554.96 590.65 547.13 588.37 546.4C586.09 545.66 599.92 549.98 605.7 551.59C611.48 553.21 617.26 554.6 623.03 556.1C628.81 557.6 634.59 559.51 640.36 560.61C646.14 561.7 651.92 562.74 657.69 562.69C663.47 562.63 669.25 561.82 675.03 560.26C680.8 558.7 687.16 555.75 692.36 553.33C697.56 550.9 701.6 548.42 706.22 545.7C710.84 542.99 716.04 539.69 720.09 537.04C724.13 534.38 727.31 532.01 730.49 529.76C733.66 527.5 737.71 524.56 739.15 523.52" fill="none" stroke="#1030f0" stroke-width="2.21" stroke-linejoin="round" stroke-linecap="round" />
</g>
<rect x="433.4" y="333.8" width="313.7" height="250.7" fill="none" stroke="#000" stroke-width="1.9"/>
<line x1="433.4" y1="584.5" x2="433.4" y2="580" stroke="#000" stroke-width="1.6" />
<text x="433.4" y="599.5" font-size="10.8" text-anchor="middle" fill="#000" >0</text>
<line x1="485.68" y1="584.5" x2="485.68" y2="580" stroke="#000" stroke-width="1.6" />
<text x="485.68" y="599.5" font-size="10.8" text-anchor="middle" fill="#000" >500</text>
<line x1="537.97" y1="584.5" x2="537.97" y2="580" stroke="#000" stroke-width="1.6" />
<text x="537.97" y="599.5" font-size="10.8" text-anchor="middle" fill="#000" >1000</text>
<line x1="590.25" y1="584.5" x2="590.25" y2="580" stroke="#000" stroke-width="1.6" />
<text x="590.25" y="599.5" font-size="10.8" text-anchor="middle" fill="#000" >1500</text>
<line x1="642.53" y1="584.5" x2="642.53" y2="580" stroke="#000" stroke-width="1.6" />
<text x="642.53" y="599.5" font-size="10.8" text-anchor="middle" fill="#000" >2000</text>
<line x1="694.82" y1="584.5" x2="694.82" y2="580" stroke="#000" stroke-width="1.6" />
<text x="694.82" y="599.5" font-size="10.8" text-anchor="middle" fill="#000" >2500</text>
<line x1="747.1" y1="584.5" x2="747.1" y2="580" stroke="#000" stroke-width="1.6" />
<text x="747.1" y="599.5" font-size="10.8" text-anchor="middle" fill="#000" >3000</text>
<line x1="459.54" y1="584.5" x2="459.54" y2="582" stroke="#000" stroke-width="1.28" />
<line x1="511.82" y1="584.5" x2="511.82" y2="582" stroke="#000" stroke-width="1.28" />
<line x1="564.11" y1="584.5" x2="564.11" y2="582" stroke="#000" stroke-width="1.28" />
<line x1="616.39" y1="584.5" x2="616.39" y2="582" stroke="#000" stroke-width="1.28" />
<line x1="668.67" y1="584.5" x2="668.67" y2="582" stroke="#000" stroke-width="1.28" />
<line x1="720.96" y1="584.5" x2="720.96" y2="582" stroke="#000" stroke-width="1.28" />
<line x1="433.4" y1="584.5" x2="437.9" y2="584.5" stroke="#000" stroke-width="1.6" />
<text x="427.4" y="588.06" font-size="10.8" text-anchor="end" fill="#000" >0</text>
<line x1="433.4" y1="542.72" x2="437.9" y2="542.72" stroke="#000" stroke-width="1.6" />
<text x="427.4" y="546.28" font-size="10.8" text-anchor="end" fill="#000" >500</text>
<line x1="433.4" y1="500.93" x2="437.9" y2="500.93" stroke="#000" stroke-width="1.6" />
<text x="427.4" y="504.5" font-size="10.8" text-anchor="end" fill="#000" >1000</text>
<line x1="433.4" y1="459.15" x2="437.9" y2="459.15" stroke="#000" stroke-width="1.6" />
<text x="427.4" y="462.71" font-size="10.8" text-anchor="end" fill="#000" >1500</text>
<line x1="433.4" y1="417.37" x2="437.9" y2="417.37" stroke="#000" stroke-width="1.6" />
<text x="427.4" y="420.93" font-size="10.8" text-anchor="end" fill="#000" >2000</text>
<line x1="433.4" y1="375.58" x2="437.9" y2="375.58" stroke="#000" stroke-width="1.6" />
<text x="427.4" y="379.15" font-size="10.8" text-anchor="end" fill="#000" >2500</text>
<line x1="433.4" y1="333.8" x2="437.9" y2="333.8" stroke="#000" stroke-width="1.6" />
<text x="427.4" y="337.36" font-size="10.8" text-anchor="end" fill="#000" >3000</text>
<line x1="433.4" y1="563.61" x2="435.9" y2="563.61" stroke="#000" stroke-width="1.28" />
<line x1="433.4" y1="521.83" x2="435.9" y2="521.83" stroke="#000" stroke-width="1.28" />
<line x1="433.4" y1="480.04" x2="435.9" y2="480.04" stroke="#000" stroke-width="1.28" />
<line x1="433.4" y1="438.26" x2="435.9" y2="438.26" stroke="#000" stroke-width="1.28" />
<line x1="433.4" y1="396.48" x2="435.9" y2="396.48" stroke="#000" stroke-width="1.28" />
<line x1="433.4" y1="354.69" x2="435.9" y2="354.69" stroke="#000" stroke-width="1.28" />
<text x="432.5" y="384.5" font-size="53.6" text-anchor="start" fill="#000" >(d)</text>
<text x="590" y="627.5" font-size="17" text-anchor="middle" textLength="71" lengthAdjust="spacingAndGlyphs">Z'(Ω/cm<tspan font-size="10.54" dy="-6.12">2</tspan><tspan dy="6.12">)</tspan></text>
<text transform="translate(399.2 459) rotate(-90)" font-size="17" text-anchor="middle">Z''(Ω/cm<tspan font-size="10.54" dy="-6.12">2</tspan><tspan dy="6.12">)</tspan></text>
<circle cx="682" cy="352" r="2.6" fill="url(#ball_k)"/>
<text x="699.3" y="355.8" font-size="11.5" text-anchor="start" fill="#000" >Z1</text>
<circle cx="682" cy="366.9" r="2.6" fill="url(#ball_r)"/>
<text x="699.3" y="370.69" font-size="11.5" text-anchor="start" fill="#000" >Z2</text>
<circle cx="682" cy="381.8" r="2.6" fill="url(#ball_b)"/>
<text x="699.3" y="385.6" font-size="11.5" text-anchor="start" fill="#000" >Z3</text>
<circle cx="682" cy="396.7" r="2.6" fill="url(#ball_g)"/>
<text x="699.3" y="400.5" font-size="11.5" text-anchor="start" fill="#000" >Z4</text>
<circle cx="682" cy="411.6" r="2.6" fill="url(#ball_p)"/>
<text x="699.3" y="415.4" font-size="11.5" text-anchor="start" fill="#000" >Z5</text>
<circle cx="682" cy="426.5" r="2.6" fill="url(#ball_y)"/>
<text x="699.3" y="430.3" font-size="11.5" text-anchor="start" fill="#000" >Z6</text>
<circle cx="682" cy="441.4" r="2.6" fill="url(#ball_c)"/>
<text x="699.3" y="445.19" font-size="11.5" text-anchor="start" fill="#000" >Z7</text>
<circle cx="682" cy="456.3" r="2.6" fill="url(#ball_n)"/>
<text x="699.3" y="460.1" font-size="11.5" text-anchor="start" fill="#000" >Z8</text>
<line x1="668.8" y1="471.2" x2="695.8" y2="471.2" stroke="#000" stroke-width="1.6" />
<text x="699.3" y="475" font-size="11.7" text-anchor="start" fill="#000" >Fitting</text>
<rect x="492.5" y="385.4" width="140.9" height="110.7" fill="#fff" />
<g clip-path="url(#clipdi)">
<path d="M492.35 496.84C493.34 496.52 495.81 495.39 498.28 494.95C500.75 494.51 504.45 494.22 507.16 494.22C509.88 494.22 512.35 495.07 514.57 494.95C516.79 494.83 519.5 493.74 520.49 493.5" fill="none" stroke="#2aa860" stroke-width="0.72" stroke-linejoin="round" stroke-linecap="round" />
<path d="M492.35 496.84C493.59 496.16 497.29 493.81 499.76 492.77C502.23 491.73 504.69 491.07 507.16 490.59C509.63 490.1 512.1 489.86 514.57 489.86C517.04 489.86 519.5 490.22 521.97 490.59C524.44 490.95 526.91 491.92 529.38 492.04C531.84 492.16 534.31 491.87 536.78 491.31C539.25 490.76 541.96 489.42 544.18 488.7C546.41 487.97 548.38 486.76 550.11 486.95C551.84 487.15 554.55 488.94 554.55 489.86C554.55 490.78 551.84 491.87 550.11 492.48C548.38 493.08 545.17 493.33 544.18 493.5" fill="none" stroke="#3f3f3f" stroke-width="0.66" stroke-linejoin="round" stroke-linecap="round" />
<g fill="url(#ball_k)"><circle cx="492.35" cy="496.84" r="0.64"/><circle cx="497.11" cy="494.09" r="0.64"/><circle cx="502.14" cy="491.88" r="0.64"/><circle cx="507.47" cy="490.53" r="0.64"/><circle cx="512.93" cy="489.9" r="0.64"/><circle cx="518.42" cy="490.11" r="0.64"/><circle cx="523.85" cy="490.96" r="0.64"/><circle cx="529.24" cy="492.03" r="0.64"/><circle cx="534.72" cy="491.71" r="0.64"/><circle cx="540.01" cy="490.28" r="0.64"/><circle cx="545.16" cy="488.35" r="0.64"/><circle cx="550.41" cy="487.02" r="0.64"/><circle cx="554.46" cy="490.14" r="0.64"/><circle cx="549.64" cy="492.62" r="0.64"/><circle cx="544.21" cy="493.49" r="0.64"/></g>
<path d="M492.35 496.84C493.34 496.28 496.3 494.3 498.28 493.5C500.25 492.7 502.23 492.28 504.2 492.04C506.18 491.8 508.15 491.87 510.12 492.04C512.1 492.21 514.07 492.7 516.05 493.06C518.02 493.42 520.24 494.15 521.97 494.22C523.7 494.3 524.93 494.46 526.41 493.5C527.9 492.53 529.38 489.86 530.86 488.41C532.34 486.95 534.56 485.38 535.3 484.77" fill="none" stroke="#a868e0" stroke-width="0.72" stroke-linejoin="round" stroke-linecap="round" />
<g fill="url(#ball_p)"><circle cx="492.35" cy="496.84" r="0.64"/><circle cx="497.09" cy="494.05" r="0.64"/><circle cx="502.3" cy="492.34" r="0.64"/><circle cx="507.77" cy="491.9" r="0.64"/><circle cx="513.23" cy="492.51" r="0.64"/><circle cx="518.61" cy="493.63" r="0.64"/><circle cx="524.05" cy="494.26" r="0.64"/><circle cx="528.47" cy="491.34" r="0.64"/><circle cx="532.13" cy="487.26" r="0.64"/></g>
<path d="M492.35 496.84C492.85 496.4 494.33 495.02 495.32 494.22C496.3 493.42 496.8 492.89 498.28 492.04C499.76 491.19 502.23 489.86 504.2 489.13C506.18 488.41 508.15 487.92 510.12 487.68C512.1 487.44 514.07 487.51 516.05 487.68C518.02 487.85 520.24 488.21 521.97 488.7C523.7 489.18 525.18 489.91 526.41 490.59C527.65 491.27 528.14 492.28 529.38 492.77C530.61 493.25 532.34 493.74 533.82 493.5C535.3 493.25 536.53 492.65 538.26 491.31C539.99 489.98 542.7 486.71 544.18 485.5C545.67 484.29 546.65 484.29 547.15 484.05" fill="none" stroke="#f03030" stroke-width="0.55" stroke-linejoin="round" stroke-linecap="round" />
<path d="M529.38 492.77C530.36 492.82 532.83 493.54 535.3 493.06C537.77 492.57 541.72 490.76 544.18 489.86C546.65 488.96 549.12 488.04 550.11 487.68" fill="none" stroke="#f03030" stroke-width="0.88" stroke-linejoin="round" stroke-linecap="round" />
<g fill="url(#ball_r)"><circle cx="492.35" cy="496.84" r="0.64"/><circle cx="496.51" cy="493.23" r="0.64"/><circle cx="501.24" cy="490.45" r="0.64"/><circle cx="506.35" cy="488.44" r="0.64"/><circle cx="511.76" cy="487.55" r="0.64"/><circle cx="517.25" cy="487.81" r="0.64"/><circle cx="522.63" cy="488.9" r="0.64"/><circle cx="527.5" cy="491.39" r="0.64"/><circle cx="532.43" cy="493.53" r="0.64"/><circle cx="537.54" cy="491.85" r="0.64"/><circle cx="541.56" cy="488.11" r="0.64"/><circle cx="545.7" cy="484.55" r="0.64"/></g>
<path d="M519.75 492.77C522.09 491.19 531.47 484.89 533.82 483.32" fill="none" stroke="#20d0a0" stroke-width="0.66" stroke-linejoin="round" stroke-linecap="round" />
<path d="M492.35 496.84C492.85 496.04 494.33 493.45 495.32 492.04C496.3 490.64 496.8 489.86 498.28 488.41C499.76 486.95 501.98 484.77 504.2 483.32C506.42 481.86 509.14 480.46 511.61 479.68C514.07 478.91 516.54 478.84 519.01 478.67C521.48 478.5 523.95 478.54 526.41 478.67C528.88 478.79 531.35 479.03 533.82 479.39C536.29 479.76 538.75 480.27 541.22 480.85C543.69 481.43 546.16 482.18 548.63 482.88C551.1 483.58 553.56 484.34 556.03 485.06C558.5 485.79 561.22 486.69 563.44 487.24C565.66 487.8 567.63 488.16 569.36 488.41C571.09 488.65 572.07 488.82 573.8 488.7C575.53 488.58 577.75 488.21 579.73 487.68C581.7 487.15 583.68 486.35 585.65 485.5C587.62 484.65 589.6 483.68 591.57 482.59C593.55 481.5 595.77 479.97 597.5 478.96C599.22 477.94 601.2 476.9 601.94 476.49" fill="none" stroke="#10c8cc" stroke-width="0.77" stroke-linejoin="round" stroke-linecap="round" />
<g fill="url(#ball_c)"><circle cx="492.35" cy="496.84" r="0.6"/><circle cx="494.93" cy="492.61" r="0.6"/><circle cx="497.97" cy="488.72" r="0.6"/><circle cx="501.58" cy="485.33" r="0.6"/><circle cx="505.6" cy="482.45" r="0.6"/><circle cx="510.02" cy="480.25" r="0.6"/><circle cx="514.8" cy="479.01" r="0.6"/><circle cx="519.73" cy="478.62" r="0.6"/><circle cx="524.68" cy="478.6" r="0.6"/><circle cx="529.62" cy="478.89" r="0.6"/><circle cx="534.53" cy="479.5" r="0.6"/><circle cx="539.4" cy="480.43" r="0.6"/><circle cx="544.2" cy="481.62" r="0.6"/><circle cx="548.96" cy="482.98" r="0.6"/><circle cx="553.71" cy="484.37" r="0.6"/><circle cx="558.45" cy="485.8" r="0.6"/><circle cx="563.2" cy="487.18" r="0.6"/><circle cx="568.04" cy="488.21" r="0.6"/><circle cx="572.96" cy="488.73" r="0.6"/><circle cx="577.86" cy="488.12" r="0.6"/><circle cx="582.61" cy="486.74" r="0.6"/><circle cx="587.17" cy="484.82" r="0.6"/><circle cx="591.59" cy="482.58" r="0.6"/><circle cx="595.81" cy="480" r="0.6"/><circle cx="600.08" cy="477.5" r="0.6"/></g>
<path d="M492.35 496.84C492.72 496.16 493.83 493.93 494.58 492.77C495.32 491.61 495.69 491.07 496.8 489.86C497.91 488.65 499.51 486.76 501.24 485.5C502.97 484.24 504.94 483.15 507.16 482.3C509.38 481.45 512.1 480.77 514.57 480.41C517.04 480.05 519.5 480.05 521.97 480.12C524.44 480.19 526.91 480.43 529.38 480.85C531.84 481.26 534.31 481.89 536.78 482.59C539.25 483.29 541.72 484.21 544.18 485.06C546.65 485.91 549.12 486.93 551.59 487.68C554.06 488.43 556.77 489.09 558.99 489.57C561.22 490.05 562.94 490.42 564.92 490.59C566.89 490.76 569.11 490.95 570.84 490.59C572.57 490.22 573.8 489.25 575.28 488.41C576.76 487.56 578 486.59 579.73 485.5C581.45 484.41 583.55 483.08 585.65 481.86C587.75 480.65 591.2 478.84 592.31 478.23" fill="none" stroke="#8a4a30" stroke-width="0.83" stroke-linejoin="round" stroke-linecap="round" />
<g fill="url(#ball_n)"><circle cx="492.35" cy="496.84" r="0.6"/><circle cx="494.74" cy="492.51" r="0.6"/><circle cx="497.87" cy="488.68" r="0.6"/><circle cx="501.49" cy="485.32" r="0.6"/><circle cx="505.78" cy="482.87" r="0.6"/><circle cx="510.46" cy="481.26" r="0.6"/><circle cx="515.31" cy="480.31" r="0.6"/><circle cx="520.25" cy="480.09" r="0.6"/><circle cx="525.2" cy="480.31" r="0.6"/><circle cx="530.1" cy="480.98" r="0.6"/><circle cx="534.92" cy="482.08" r="0.6"/><circle cx="539.67" cy="483.5" r="0.6"/><circle cx="544.34" cy="485.12" r="0.6"/><circle cx="549" cy="486.81" r="0.6"/><circle cx="553.72" cy="488.29" r="0.6"/><circle cx="558.52" cy="489.47" r="0.6"/><circle cx="563.38" cy="490.41" r="0.6"/><circle cx="568.32" cy="490.79" r="0.6"/><circle cx="573.08" cy="489.72" r="0.6"/><circle cx="577.29" cy="487.12" r="0.6"/><circle cx="581.44" cy="484.42" r="0.6"/><circle cx="585.67" cy="481.85" r="0.6"/><circle cx="590.01" cy="479.47" r="0.6"/></g>
<path d="M492.35 496.84C492.97 495.87 494.82 492.91 496.06 491.02C497.29 489.13 497.91 487.63 499.76 485.5C501.61 483.37 504.69 480.29 507.16 478.23C509.63 476.17 511.85 474.64 514.57 473.14C517.28 471.64 520.49 470.26 523.45 469.22C526.41 468.17 529.38 467.5 532.34 466.89C535.3 466.28 538.26 465.87 541.22 465.58C544.18 465.29 547.15 465.17 550.11 465.14C553.07 465.12 556.03 465.14 558.99 465.44C561.96 465.73 564.92 466.21 567.88 466.89C570.84 467.57 573.8 468.46 576.76 469.51C579.73 470.55 582.69 471.69 585.65 473.14C588.61 474.6 591.57 476.29 594.54 478.23C597.5 480.17 600.71 482.64 603.42 484.77C606.14 486.9 609.1 489.57 610.82 491.02C612.55 492.48 613.29 493.08 613.79 493.5" fill="none" stroke="#e0a830" stroke-width="0.5" stroke-linejoin="round" stroke-linecap="round" />
<g fill="url(#ball_y)"><circle cx="492.35" cy="496.84" r="0.92"/><circle cx="498.28" cy="489.86" r="0.92"/><circle cx="504.2" cy="484.05" r="0.92"/><circle cx="510.12" cy="478.96" r="0.92"/><circle cx="516.05" cy="475.32" r="0.92"/><circle cx="521.97" cy="472.71" r="0.92"/><circle cx="527.9" cy="470.96" r="0.92"/><circle cx="533.82" cy="469.8" r="0.92"/><circle cx="539.74" cy="469.22" r="0.92"/><circle cx="545.67" cy="468.92" r="0.92"/><circle cx="551.59" cy="469.07" r="0.92"/><circle cx="557.51" cy="469.22" r="0.92"/><circle cx="563.44" cy="469.8" r="0.92"/><circle cx="569.36" cy="470.52" r="0.92"/><circle cx="575.28" cy="471.69" r="0.92"/><circle cx="581.21" cy="473" r="0.92"/><circle cx="587.13" cy="474.3" r="0.92"/><circle cx="593.05" cy="475.76" r="0.92"/><circle cx="598.98" cy="477.07" r="0.92"/><circle cx="604.9" cy="478.23" r="0.92"/><circle cx="610.82" cy="479.39" r="0.92"/><circle cx="616.75" cy="480.41" r="0.92"/><circle cx="622.67" cy="481.43" r="0.92"/><circle cx="624.15" cy="481.86" r="0.92"/></g>
<g fill="url(#ball_b2)"><circle cx="492.35" cy="496.84" r="0.88"/><circle cx="495.85" cy="490.92" r="0.88"/><circle cx="499.88" cy="485.36" r="0.88"/><circle cx="504.48" cy="480.25" r="0.88"/><circle cx="509.35" cy="475.4" r="0.88"/><circle cx="514.58" cy="470.95" r="0.88"/><circle cx="520.25" cy="467.05" r="0.88"/><circle cx="526.21" cy="463.63" r="0.88"/><circle cx="532.39" cy="460.64" r="0.88"/><circle cx="538.89" cy="458.41" r="0.88"/><circle cx="545.59" cy="456.9" r="0.88"/><circle cx="552.43" cy="456.19" r="0.88"/><circle cx="559.27" cy="455.5" r="0.88"/><circle cx="566.12" cy="454.94" r="0.88"/><circle cx="572.99" cy="454.6" r="0.88"/><circle cx="579.86" cy="454.53" r="0.88"/><circle cx="586.73" cy="454.84" r="0.88"/><circle cx="593.58" cy="455.4" r="0.88"/><circle cx="600.41" cy="456.22" r="0.88"/><circle cx="607.2" cy="457.29" r="0.88"/><circle cx="613.95" cy="458.61" r="0.88"/><circle cx="620.64" cy="460.18" r="0.88"/><circle cx="627.3" cy="461.89" r="0.88"/><circle cx="633.95" cy="463.63" r="0.88"/><circle cx="640.63" cy="465.25" r="0.88"/><circle cx="647.27" cy="467.02" r="0.88"/><circle cx="653.86" cy="469" r="0.88"/><circle cx="660.3" cy="471.13" r="0.88"/><circle cx="653.71" cy="469.16" r="0.88"/><circle cx="647.14" cy="467.16" r="0.88"/><circle cx="640.56" cy="465.16" r="0.88"/><circle cx="633.98" cy="463.15" r="0.88"/><circle cx="635.93" cy="463.7" r="0.88"/><circle cx="642.52" cy="465.67" r="0.88"/><circle cx="649.14" cy="467.54" r="0.88"/><circle cx="655.78" cy="469.3" r="0.88"/><circle cx="662.46" cy="470.92" r="0.88"/><circle cx="669.18" cy="472.41" r="0.88"/><circle cx="675.93" cy="473.7" r="0.88"/><circle cx="682.74" cy="474.62" r="0.88"/><circle cx="689.59" cy="475.19" r="0.88"/><circle cx="696.46" cy="475.3" r="0.88"/><circle cx="703.33" cy="474.97" r="0.88"/><circle cx="710.13" cy="474" r="0.88"/><circle cx="716.69" cy="471.98" r="0.88"/><circle cx="722.94" cy="469.11" r="0.88"/><circle cx="728.88" cy="465.66" r="0.88"/><circle cx="734.61" cy="461.87" r="0.88"/><circle cx="740.16" cy="457.8" r="0.88"/><circle cx="745.66" cy="453.68" r="0.88"/><circle cx="751.4" cy="449.9" r="0.88"/><circle cx="757.29" cy="446.35" r="0.88"/><circle cx="763.31" cy="443.03" r="0.88"/></g>
<path d="M492.35 496.84C492.97 495.8 494.82 492.48 496.06 490.59C497.29 488.7 497.91 487.68 499.76 485.5C501.61 483.32 504.69 479.93 507.16 477.5C509.63 475.08 511.85 473.02 514.57 470.96C517.28 468.9 520.24 466.96 523.45 465.14C526.66 463.33 530.36 461.39 533.82 460.06C537.27 458.72 540.98 457.8 544.18 457.15C547.39 456.49 550.11 456.45 553.07 456.13C556.03 455.82 558.99 455.5 561.96 455.26C564.92 455.02 567.88 454.8 570.84 454.68C573.8 454.56 576.76 454.48 579.73 454.53C582.69 454.58 585.65 454.75 588.61 454.97C591.57 455.19 594.54 455.48 597.5 455.84C600.46 456.2 603.42 456.64 606.38 457.15C609.34 457.66 612.31 458.24 615.27 458.89C618.23 459.55 621.19 460.32 624.15 461.07C627.11 461.83 630.08 462.65 633.04 463.4C636 464.15 638.96 464.81 641.92 465.58C644.89 466.36 647.85 467.16 650.81 468.05C653.77 468.95 662.86 471.89 659.69 470.96C656.53 470.03 633.86 463.12 631.8 462.47C629.75 461.82 642.19 465.63 647.38 467.06C652.58 468.49 657.77 469.71 662.96 471.04C668.15 472.36 673.35 474.05 678.54 475.01C683.73 475.98 688.93 476.9 694.12 476.85C699.31 476.8 704.5 476.08 709.7 474.71C714.89 473.33 720.6 470.73 725.28 468.59C729.95 466.45 733.59 464.26 737.74 461.86C741.89 459.46 746.57 456.56 750.2 454.21C753.84 451.87 756.69 449.78 759.55 447.79C762.41 445.8 766.04 443.2 767.34 442.28" fill="none" stroke="#1030f0" stroke-width="0.72" stroke-linejoin="round" stroke-linecap="round" />
</g>
<rect x="492.5" y="385.4" width="140.9" height="110.7" fill="none" stroke="#000" stroke-width="0.9"/>
<line x1="492.5" y1="496.1" x2="492.5" y2="494.3" stroke="#000" stroke-width="0.7" />
<line x1="492.5" y1="496.1" x2="494.3" y2="496.1" stroke="#000" stroke-width="0.7" />
<text x="492.5" y="501.6" font-size="3.8" text-anchor="middle" fill="#000" >0</text>
<text x="491" y="497.4" font-size="3.8" text-anchor="end" fill="#000" >0</text>
<line x1="539.47" y1="496.1" x2="539.47" y2="494.3" stroke="#000" stroke-width="0.7" />
<line x1="492.5" y1="459.2" x2="494.3" y2="459.2" stroke="#000" stroke-width="0.7" />
<text x="539.47" y="501.6" font-size="3.8" text-anchor="middle" fill="#000" >500</text>
<text x="491" y="460.5" font-size="3.8" text-anchor="end" fill="#000" >500</text>
<line x1="586.43" y1="496.1" x2="586.43" y2="494.3" stroke="#000" stroke-width="0.7" />
<line x1="492.5" y1="422.3" x2="494.3" y2="422.3" stroke="#000" stroke-width="0.7" />
<text x="586.43" y="501.6" font-size="3.8" text-anchor="middle" fill="#000" >1000</text>
<text x="491" y="423.6" font-size="3.8" text-anchor="end" fill="#000" >1000</text>
<line x1="633.4" y1="496.1" x2="633.4" y2="494.3" stroke="#000" stroke-width="0.7" />
<line x1="492.5" y1="385.4" x2="494.3" y2="385.4" stroke="#000" stroke-width="0.7" />
<text x="633.4" y="501.6" font-size="3.8" text-anchor="middle" fill="#000" >1500</text>
<text x="491" y="386.7" font-size="3.8" text-anchor="end" fill="#000" >1500</text>
<line x1="515.98" y1="496.1" x2="515.98" y2="495" stroke="#000" stroke-width="0.6" />
<line x1="492.5" y1="477.65" x2="493.6" y2="477.65" stroke="#000" stroke-width="0.6" />
<line x1="562.95" y1="496.1" x2="562.95" y2="495" stroke="#000" stroke-width="0.6" />
<line x1="492.5" y1="440.75" x2="493.6" y2="440.75" stroke="#000" stroke-width="0.6" />
<line x1="609.92" y1="496.1" x2="609.92" y2="495" stroke="#000" stroke-width="0.6" />
<line x1="492.5" y1="403.85" x2="493.6" y2="403.85" stroke="#000" stroke-width="0.6" />
<text x="563" y="514.4" font-size="6.6" text-anchor="middle">Z'(Ω/cm<tspan font-size="4.09" dy="-2.38">2</tspan><tspan dy="2.38">)</tspan></text>
<text transform="translate(479.5 441.7) rotate(-90)" font-size="6.6" text-anchor="middle">Z''(Ω/cm<tspan font-size="4.09" dy="-2.38">2</tspan><tspan dy="2.38">)</tspan></text>
<circle cx="604.1" cy="393" r="0.9" fill="#3f3f3f"/>
<text x="610.7" y="394.7" font-size="5" text-anchor="start" fill="#000" >Z1</text>
<circle cx="604.1" cy="399.17" r="0.9" fill="#f03030"/>
<text x="610.7" y="400.87" font-size="5" text-anchor="start" fill="#000" >Z2</text>
<circle cx="604.1" cy="405.34" r="0.9" fill="#1860e0"/>
<text x="610.7" y="407.04" font-size="5" text-anchor="start" fill="#000" >Z3</text>
<circle cx="604.1" cy="411.51" r="0.9" fill="#2aa860"/>
<text x="610.7" y="413.21" font-size="5" text-anchor="start" fill="#000" >Z4</text>
<circle cx="604.1" cy="417.68" r="0.9" fill="#a868e0"/>
<text x="610.7" y="419.38" font-size="5" text-anchor="start" fill="#000" >Z5</text>
<circle cx="604.1" cy="423.85" r="0.9" fill="#c8960c"/>
<text x="610.7" y="425.55" font-size="5" text-anchor="start" fill="#000" >Z6</text>
<circle cx="604.1" cy="430.02" r="0.9" fill="#10c8cc"/>
<text x="610.7" y="431.72" font-size="5" text-anchor="start" fill="#000" >Z7</text>
<circle cx="604.1" cy="436.19" r="0.9" fill="#6e4040"/>
<text x="610.7" y="437.89" font-size="5" text-anchor="start" fill="#000" >Z8</text>
<line x1="598.5" y1="442.3" x2="609.5" y2="442.3" stroke="#000" stroke-width="0.7" />
<text x="610.7" y="444" font-size="5" text-anchor="start" fill="#000" >Fitting</text>
<g clip-path="url(#clipe)">
<path d="M51.26 759.49C53.73 760.42 63.56 764.38 69.75 766.47C75.93 768.56 90.67 773.23 97.65 775.19C104.62 777.14 116.48 779.86 122.06 781.12C127.64 782.37 135.77 783.67 139.49 784.6C143.21 785.53 147.63 787.02 149.96 788.09C152.28 789.16 155.54 791.32 156.93 792.62C158.33 793.93 159.67 795.76 160.42 797.86C161.16 799.95 162.09 805.06 162.51 808.32C162.93 811.57 163.37 818.17 163.56 822.27C163.74 826.36 163.86 836.77 163.91 839.01 M163.91 839.01C164 835.84 164.23 821.24 164.6 815.29C164.98 809.34 165.86 799.25 166.7 794.37C167.53 789.49 169.63 782.39 170.88 778.67C172.14 774.95 174.72 770.42 176.11 766.47C177.51 762.52 179.95 753.68 181.34 749.03C182.74 744.38 185.18 736.25 186.57 731.6C187.97 726.95 190.64 717.88 191.8 714.16C192.97 710.44 194.36 705.79 195.29 703.7C196.22 701.6 197.38 699.86 198.78 698.47C200.17 697.07 203.43 694.49 205.75 693.23C208.08 691.98 212.03 690.31 216.22 689.05C220.4 687.79 231.1 685.12 237.14 683.82C243.19 682.52 255.04 680.35 261.55 679.29C268.06 678.22 281.08 676.45 285.96 675.8C290.85 675.15 296.54 674.59 298.17 674.4" fill="none" stroke="#f03030" stroke-width="1.8" stroke-linejoin="round" stroke-linecap="round" />
<path d="M154.49 746.59C154.72 747.29 154.98 750.33 156.23 751.82C157.49 753.31 160.56 755.57 163.91 757.75C167.25 759.94 176.23 765.66 181.34 768.21C186.46 770.77 196.69 774.93 202.27 776.93C207.85 778.93 217.61 781.67 223.19 783.21C228.77 784.74 239 787.32 244.12 788.44C249.23 789.56 257.83 790.79 261.55 791.58C265.27 792.37 269.69 793.3 272.01 794.37C274.34 795.44 277.5 797.51 278.99 799.6C280.48 801.69 282.24 806.11 283.17 810.06C284.1 814.01 285.41 822.96 285.96 829.24C286.52 835.52 287.08 851 287.36 857.14C287.64 863.28 287.96 872.86 288.06 875.27 M288.06 875.27C288.2 871 288.68 852.12 289.1 843.19C289.52 834.26 290.45 816.69 291.19 808.32C291.94 799.95 293.52 787.16 294.68 780.42C295.84 773.68 298.29 762.87 299.91 757.75C301.54 752.64 305.35 745.45 306.89 742.06C308.42 738.66 310.58 736.01 311.42 732.29C312.26 728.57 312.7 718.2 313.16 714.16C313.63 710.11 314.26 704.6 314.91 701.95C315.56 699.3 316.79 696.14 318.05 694.28C319.3 692.42 322.09 689.54 324.32 688C326.56 686.47 331.53 684.03 334.79 682.77C338.04 681.52 343.71 679.75 348.74 678.59C353.76 677.43 369.29 674.66 372.45 674.05" fill="none" stroke="#3f3f3f" stroke-width="1.8" stroke-linejoin="round" stroke-linecap="round" />
<path d="M154.49 742.06C154.82 743.22 155.21 748.45 156.93 750.78C158.65 753.1 163.21 757.17 167.39 759.49C171.58 761.82 182.74 766.12 188.32 768.21C193.9 770.31 203.66 773.79 209.24 775.19C214.82 776.58 225.05 777.88 230.17 778.67C235.28 779.47 243.88 780.42 247.6 781.12C251.32 781.81 255.74 782.6 258.06 783.91C260.39 785.21 263.55 788.09 265.04 790.88C266.53 793.67 268.34 800.65 269.22 804.83C270.11 809.01 271.15 817.71 271.67 822.27C272.18 826.82 272.87 836.77 273.06 839.01 M273.06 839.01C273.25 835.84 273.9 821.71 274.46 815.29C275.01 808.88 276.18 796.23 277.24 790.88C278.31 785.53 280.38 779.37 282.48 775.19C284.57 771 290.15 763.91 292.94 759.49C295.73 755.08 300.61 747.17 303.4 742.06C306.19 736.94 311.54 725.78 313.86 721.13C316.19 716.48 318.51 710.44 320.84 707.18C323.16 703.93 328.04 699.05 331.3 696.72C334.55 694.4 341.53 691.24 345.25 689.75C348.97 688.26 355.57 686.49 359.2 685.56C362.82 684.63 370.68 683.14 372.45 682.77" fill="none" stroke="#1860e0" stroke-width="1.8" stroke-linejoin="round" stroke-linecap="round" />
<path d="M153.44 736.83C153.72 738.22 154.14 744.96 155.54 747.29C156.93 749.61 160.46 752.54 163.91 754.26C167.35 755.98 176.23 758.8 181.34 760.19C186.46 761.59 196.69 763.66 202.27 764.73C207.85 765.79 218.08 767.28 223.19 768.21C228.31 769.14 236.91 770.54 240.63 771.7C244.35 772.86 249 774.84 251.09 776.93C253.18 779.02 255.3 783.67 256.32 787.39C257.34 791.11 258.25 800.41 258.76 804.83C259.27 809.25 259.97 818.43 260.16 820.52 M260.16 820.52C260.34 817.5 260.81 803.67 261.55 797.86C262.3 792.04 263.88 782.05 265.74 776.93C267.6 771.82 272.34 764.14 275.5 759.49C278.66 754.84 285.73 746.71 289.45 742.06C293.17 737.41 300.15 729.04 303.4 724.62C306.66 720.2 311.3 712.55 313.86 708.93C316.42 705.3 319.79 700.07 322.58 697.42C325.37 694.77 331.3 690.86 334.79 689.05C338.27 687.24 343.71 685.12 348.74 683.82C353.76 682.52 369.29 679.89 372.45 679.29" fill="none" stroke="#2aa860" stroke-width="1.8" stroke-linejoin="round" stroke-linecap="round" />
<path d="M155.19 745.54C155.51 746.57 156 751.36 157.63 753.22C159.26 755.08 163.77 757.87 167.39 759.49C171.02 761.12 179.72 764.03 184.83 765.42C189.94 766.82 200.17 768.79 205.75 769.96C211.33 771.12 221.8 772.98 226.68 774.14C231.56 775.3 239.12 777.28 242.37 778.67C245.63 780.07 249.32 782.28 251.09 784.6C252.86 786.93 254.74 792.02 255.62 796.11C256.51 800.2 257.3 810.87 257.72 815.29C258.13 819.71 258.62 827.38 258.76 829.24 M258.76 829.24C258.95 825.99 259.51 811.11 260.16 804.83C260.81 798.55 262.06 787.51 263.64 782.16C265.23 776.81 269.27 769.38 272.01 764.73C274.76 760.08 280.96 751.94 284.22 747.29C287.47 742.64 293.4 734.27 296.43 729.85C299.45 725.43 304.33 718.34 306.89 714.16C309.44 709.97 313.28 701.95 315.61 698.47C317.93 694.98 321.3 690.47 324.32 688C327.35 685.54 334.09 681.7 338.27 679.98C342.46 678.26 351.15 676.12 355.71 675.1C360.27 674.08 370.22 672.68 372.45 672.31" fill="none" stroke="#a868e0" stroke-width="1.8" stroke-linejoin="round" stroke-linecap="round" />
<path d="M160.42 733.34C160.7 734.5 161.12 739.5 162.51 742.06C163.91 744.61 167.44 749.96 170.88 752.52C174.32 755.08 183.2 759.15 188.32 761.24C193.43 763.33 203.66 766.59 209.24 768.21C214.82 769.84 225.05 771.82 230.17 773.44C235.28 775.07 244.12 778.56 247.6 780.42C251.09 782.28 254.55 784.6 256.32 787.39C258.09 790.18 260.02 795.76 260.85 801.34C261.69 806.92 262.23 822.17 262.6 829.24C262.97 836.31 263.5 851 263.64 854.35 M263.64 854.35C263.78 850.07 264.23 830.26 264.69 822.27C265.16 814.27 265.92 800.41 267.13 794.37C268.34 788.32 271.25 781.58 273.76 776.93C276.27 772.28 282.48 764.61 285.96 759.49C289.45 754.38 296.66 743.68 299.91 738.57C303.17 733.46 308.05 725.09 310.37 721.13C312.7 717.18 315.02 711.95 317.35 708.93C319.67 705.91 324.56 700.79 327.81 698.47C331.07 696.14 337.58 693.03 341.76 691.49C345.95 689.96 355.11 687.89 359.2 686.96C363.29 686.03 370.68 684.84 372.45 684.52" fill="none" stroke="#c8960c" stroke-width="1.8" stroke-linejoin="round" stroke-linecap="round" />
<path d="M153.79 736.83C154.07 738.45 154.54 746.47 155.88 749.03C157.23 751.59 160.51 754.15 163.91 756.01C167.3 757.87 176.23 761.35 181.34 762.98C186.46 764.61 196.69 766.96 202.27 768.21C207.85 769.47 218.08 771.24 223.19 772.4C228.31 773.56 237.14 775.4 240.63 776.93C244.12 778.47 247.58 781.12 249.35 783.91C251.11 786.7 253 792.74 253.88 797.86C254.76 802.97 255.55 815.52 255.97 822.27C256.39 829.01 256.88 844.93 257.02 848.42 M257.02 848.42C257.16 844 257.55 823.43 258.06 815.29C258.58 807.15 259.69 793.44 260.85 787.39C262.02 781.35 264.37 774.61 266.78 769.96C269.2 765.31 275.5 757.17 278.99 752.52C282.48 747.87 289.22 739.73 292.94 735.08C296.66 730.43 303.87 722.3 306.89 717.65C309.91 713 313.28 703.93 315.61 700.21C317.93 696.49 321.3 692.07 324.32 689.75C327.35 687.42 334.09 684.26 338.27 682.77C342.46 681.28 351.15 679.52 355.71 678.59C360.27 677.66 370.22 676.17 372.45 675.8" fill="none" stroke="#10c8cc" stroke-width="1.8" stroke-linejoin="round" stroke-linecap="round" />
<path d="M155.19 749.03C155.51 749.73 156 752.87 157.63 754.26C159.26 755.66 164.23 757.87 167.39 759.49C170.56 761.12 177.62 764.52 181.34 766.47C185.06 768.42 191.57 771.91 195.29 774.14C199.01 776.37 205.99 780.74 209.24 783.21C212.5 785.67 217.15 789.74 219.7 792.62C222.26 795.51 226.56 800.88 228.42 804.83C230.28 808.78 232.58 816.69 233.65 822.27C234.72 827.85 235.88 840.17 236.44 846.68C237 853.19 237.61 866.21 237.84 871.09C238.07 875.97 238.14 881.67 238.19 883.3 M238.19 883.3C238.33 878.88 238.81 857.84 239.23 850.17C239.65 842.49 240.44 831.1 241.33 825.75C242.21 820.41 244.09 813.78 245.86 810.06C247.63 806.34 252.02 800.88 254.58 797.86C257.13 794.83 262.25 790.18 265.04 787.39C267.83 784.6 272.71 779.95 275.5 776.93C278.29 773.91 283.17 767.98 285.96 764.73C288.75 761.47 293.64 755.77 296.43 752.52C299.22 749.26 304.42 743.01 306.89 740.31C309.35 737.62 313.37 735.08 314.91 732.29C316.44 729.5 317.23 723.11 318.4 719.39C319.56 715.67 321.44 707.65 323.63 704.39C325.81 701.14 331.44 697.16 334.79 694.98C338.13 692.79 343.71 689.86 348.74 688C353.76 686.14 369.29 681.96 372.45 681.03" fill="none" stroke="#6e4040" stroke-width="1.8" stroke-linejoin="round" stroke-linecap="round" />
</g>
<line x1="49.25" y1="901.8" x2="374.25" y2="901.8" stroke="#000" stroke-width="1.9" />
<line x1="50.2" y1="640.85" x2="50.2" y2="902.75" stroke="#000" stroke-width="1.9" />
<line x1="373.3" y1="640.85" x2="373.3" y2="902.75" stroke="#000" stroke-width="1.9" />
<line x1="50.2" y1="673.1" x2="54.7" y2="673.1" stroke="#000" stroke-width="1.6" />
<text x="43.7" y="676.7" font-size="10.3" text-anchor="end">10<tspan font-size="6.5" dy="-4.2">-2</tspan></text>
<line x1="50.2" y1="705.65" x2="54.7" y2="705.65" stroke="#000" stroke-width="1.6" />
<text x="43.7" y="709.25" font-size="10.3" text-anchor="end">10<tspan font-size="6.5" dy="-4.2">-3</tspan></text>
<line x1="50.2" y1="738.2" x2="54.7" y2="738.2" stroke="#000" stroke-width="1.6" />
<text x="43.7" y="741.8" font-size="10.3" text-anchor="end">10<tspan font-size="6.5" dy="-4.2">-4</tspan></text>
<line x1="50.2" y1="770.75" x2="54.7" y2="770.75" stroke="#000" stroke-width="1.6" />
<text x="43.7" y="774.35" font-size="10.3" text-anchor="end">10<tspan font-size="6.5" dy="-4.2">-5</tspan></text>
<line x1="50.2" y1="803.3" x2="54.7" y2="803.3" stroke="#000" stroke-width="1.6" />
<text x="43.7" y="806.9" font-size="10.3" text-anchor="end">10<tspan font-size="6.5" dy="-4.2">-6</tspan></text>
<line x1="50.2" y1="835.85" x2="54.7" y2="835.85" stroke="#000" stroke-width="1.6" />
<text x="43.7" y="839.45" font-size="10.3" text-anchor="end">10<tspan font-size="6.5" dy="-4.2">-7</tspan></text>
<line x1="50.2" y1="868.4" x2="54.7" y2="868.4" stroke="#000" stroke-width="1.6" />
<text x="43.7" y="872" font-size="10.3" text-anchor="end">10<tspan font-size="6.5" dy="-4.2">-8</tspan></text>
<line x1="50.2" y1="900.95" x2="54.7" y2="900.95" stroke="#000" stroke-width="1.6" />
<text x="43.7" y="904.55" font-size="10.3" text-anchor="end">10<tspan font-size="6.5" dy="-4.2">-9</tspan></text>
<line x1="50.2" y1="663.3" x2="52.5" y2="663.3" stroke="#000" stroke-width="1" />
<line x1="50.2" y1="657.57" x2="52.5" y2="657.57" stroke="#000" stroke-width="1" />
<line x1="50.2" y1="653.5" x2="52.5" y2="653.5" stroke="#000" stroke-width="1" />
<line x1="50.2" y1="650.35" x2="52.5" y2="650.35" stroke="#000" stroke-width="1" />
<line x1="50.2" y1="647.77" x2="52.5" y2="647.77" stroke="#000" stroke-width="1" />
<line x1="50.2" y1="645.59" x2="52.5" y2="645.59" stroke="#000" stroke-width="1" />
<line x1="50.2" y1="643.7" x2="52.5" y2="643.7" stroke="#000" stroke-width="1" />
<line x1="50.2" y1="695.85" x2="52.5" y2="695.85" stroke="#000" stroke-width="1" />
<line x1="50.2" y1="690.12" x2="52.5" y2="690.12" stroke="#000" stroke-width="1" />
<line x1="50.2" y1="686.05" x2="52.5" y2="686.05" stroke="#000" stroke-width="1" />
<line x1="50.2" y1="682.9" x2="52.5" y2="682.9" stroke="#000" stroke-width="1" />
<line x1="50.2" y1="680.32" x2="52.5" y2="680.32" stroke="#000" stroke-width="1" />
<line x1="50.2" y1="678.14" x2="52.5" y2="678.14" stroke="#000" stroke-width="1" />
<line x1="50.2" y1="676.25" x2="52.5" y2="676.25" stroke="#000" stroke-width="1" />
<line x1="50.2" y1="674.59" x2="52.5" y2="674.59" stroke="#000" stroke-width="1" />
<line x1="50.2" y1="728.4" x2="52.5" y2="728.4" stroke="#000" stroke-width="1" />
<line x1="50.2" y1="722.67" x2="52.5" y2="722.67" stroke="#000" stroke-width="1" />
<line x1="50.2" y1="718.6" x2="52.5" y2="718.6" stroke="#000" stroke-width="1" />
<line x1="50.2" y1="715.45" x2="52.5" y2="715.45" stroke="#000" stroke-width="1" />
<line x1="50.2" y1="712.87" x2="52.5" y2="712.87" stroke="#000" stroke-width="1" />
<line x1="50.2" y1="710.69" x2="52.5" y2="710.69" stroke="#000" stroke-width="1" />
<line x1="50.2" y1="708.8" x2="52.5" y2="708.8" stroke="#000" stroke-width="1" />
<line x1="50.2" y1="707.14" x2="52.5" y2="707.14" stroke="#000" stroke-width="1" />
<line x1="50.2" y1="760.95" x2="52.5" y2="760.95" stroke="#000" stroke-width="1" />
<line x1="50.2" y1="755.22" x2="52.5" y2="755.22" stroke="#000" stroke-width="1" />
<line x1="50.2" y1="751.15" x2="52.5" y2="751.15" stroke="#000" stroke-width="1" />
<line x1="50.2" y1="748" x2="52.5" y2="748" stroke="#000" stroke-width="1" />
<line x1="50.2" y1="745.42" x2="52.5" y2="745.42" stroke="#000" stroke-width="1" />
<line x1="50.2" y1="743.24" x2="52.5" y2="743.24" stroke="#000" stroke-width="1" />
<line x1="50.2" y1="741.35" x2="52.5" y2="741.35" stroke="#000" stroke-width="1" />
<line x1="50.2" y1="739.69" x2="52.5" y2="739.69" stroke="#000" stroke-width="1" />
<line x1="50.2" y1="793.5" x2="52.5" y2="793.5" stroke="#000" stroke-width="1" />
<line x1="50.2" y1="787.77" x2="52.5" y2="787.77" stroke="#000" stroke-width="1" />
<line x1="50.2" y1="783.7" x2="52.5" y2="783.7" stroke="#000" stroke-width="1" />
<line x1="50.2" y1="780.55" x2="52.5" y2="780.55" stroke="#000" stroke-width="1" />
<line x1="50.2" y1="777.97" x2="52.5" y2="777.97" stroke="#000" stroke-width="1" />
<line x1="50.2" y1="775.79" x2="52.5" y2="775.79" stroke="#000" stroke-width="1" />
<line x1="50.2" y1="773.9" x2="52.5" y2="773.9" stroke="#000" stroke-width="1" />
<line x1="50.2" y1="772.24" x2="52.5" y2="772.24" stroke="#000" stroke-width="1" />
<line x1="50.2" y1="826.05" x2="52.5" y2="826.05" stroke="#000" stroke-width="1" />
<line x1="50.2" y1="820.32" x2="52.5" y2="820.32" stroke="#000" stroke-width="1" />
<line x1="50.2" y1="816.25" x2="52.5" y2="816.25" stroke="#000" stroke-width="1" />
<line x1="50.2" y1="813.1" x2="52.5" y2="813.1" stroke="#000" stroke-width="1" />
<line x1="50.2" y1="810.52" x2="52.5" y2="810.52" stroke="#000" stroke-width="1" />
<line x1="50.2" y1="808.34" x2="52.5" y2="808.34" stroke="#000" stroke-width="1" />
<line x1="50.2" y1="806.45" x2="52.5" y2="806.45" stroke="#000" stroke-width="1" />
<line x1="50.2" y1="804.79" x2="52.5" y2="804.79" stroke="#000" stroke-width="1" />
<line x1="50.2" y1="858.6" x2="52.5" y2="858.6" stroke="#000" stroke-width="1" />
<line x1="50.2" y1="852.87" x2="52.5" y2="852.87" stroke="#000" stroke-width="1" />
<line x1="50.2" y1="848.8" x2="52.5" y2="848.8" stroke="#000" stroke-width="1" />
<line x1="50.2" y1="845.65" x2="52.5" y2="845.65" stroke="#000" stroke-width="1" />
<line x1="50.2" y1="843.07" x2="52.5" y2="843.07" stroke="#000" stroke-width="1" />
<line x1="50.2" y1="840.89" x2="52.5" y2="840.89" stroke="#000" stroke-width="1" />
<line x1="50.2" y1="839" x2="52.5" y2="839" stroke="#000" stroke-width="1" />
<line x1="50.2" y1="837.34" x2="52.5" y2="837.34" stroke="#000" stroke-width="1" />
<line x1="50.2" y1="891.15" x2="52.5" y2="891.15" stroke="#000" stroke-width="1" />
<line x1="50.2" y1="885.42" x2="52.5" y2="885.42" stroke="#000" stroke-width="1" />
<line x1="50.2" y1="881.35" x2="52.5" y2="881.35" stroke="#000" stroke-width="1" />
<line x1="50.2" y1="878.2" x2="52.5" y2="878.2" stroke="#000" stroke-width="1" />
<line x1="50.2" y1="875.62" x2="52.5" y2="875.62" stroke="#000" stroke-width="1" />
<line x1="50.2" y1="873.44" x2="52.5" y2="873.44" stroke="#000" stroke-width="1" />
<line x1="50.2" y1="871.55" x2="52.5" y2="871.55" stroke="#000" stroke-width="1" />
<line x1="50.2" y1="869.89" x2="52.5" y2="869.89" stroke="#000" stroke-width="1" />
<line x1="51.3" y1="901.8" x2="51.3" y2="897.3" stroke="#000" stroke-width="1.6" />
<text x="51.3" y="915.8" font-size="10.3" text-anchor="middle" fill="#000" >-1.5</text>
<line x1="94.03" y1="901.8" x2="94.03" y2="897.3" stroke="#000" stroke-width="1.6" />
<text x="94.03" y="915.8" font-size="10.3" text-anchor="middle" fill="#000" >-1.4</text>
<line x1="136.76" y1="901.8" x2="136.76" y2="897.3" stroke="#000" stroke-width="1.6" />
<text x="136.76" y="915.8" font-size="10.3" text-anchor="middle" fill="#000" >-1.3</text>
<line x1="179.49" y1="901.8" x2="179.49" y2="897.3" stroke="#000" stroke-width="1.6" />
<text x="179.49" y="915.8" font-size="10.3" text-anchor="middle" fill="#000" >-1.2</text>
<line x1="222.22" y1="901.8" x2="222.22" y2="897.3" stroke="#000" stroke-width="1.6" />
<text x="222.22" y="915.8" font-size="10.3" text-anchor="middle" fill="#000" >-1.1</text>
<line x1="264.95" y1="901.8" x2="264.95" y2="897.3" stroke="#000" stroke-width="1.6" />
<text x="264.95" y="915.8" font-size="10.3" text-anchor="middle" fill="#000" >-1.0</text>
<line x1="307.68" y1="901.8" x2="307.68" y2="897.3" stroke="#000" stroke-width="1.6" />
<text x="307.68" y="915.8" font-size="10.3" text-anchor="middle" fill="#000" >-0.9</text>
<line x1="350.41" y1="901.8" x2="350.41" y2="897.3" stroke="#000" stroke-width="1.6" />
<text x="350.41" y="915.8" font-size="10.3" text-anchor="middle" fill="#000" >-0.8</text>
<line x1="72.66" y1="901.8" x2="72.66" y2="899.3" stroke="#000" stroke-width="1.28" />
<line x1="115.39" y1="901.8" x2="115.39" y2="899.3" stroke="#000" stroke-width="1.28" />
<line x1="158.12" y1="901.8" x2="158.12" y2="899.3" stroke="#000" stroke-width="1.28" />
<line x1="200.85" y1="901.8" x2="200.85" y2="899.3" stroke="#000" stroke-width="1.28" />
<line x1="243.58" y1="901.8" x2="243.58" y2="899.3" stroke="#000" stroke-width="1.28" />
<line x1="286.31" y1="901.8" x2="286.31" y2="899.3" stroke="#000" stroke-width="1.28" />
<line x1="329.05" y1="901.8" x2="329.05" y2="899.3" stroke="#000" stroke-width="1.28" />
<line x1="371.77" y1="901.8" x2="371.77" y2="899.3" stroke="#000" stroke-width="1.28" />
<text x="60" y="695" font-size="53.6" text-anchor="start" fill="#000" >(e)</text>
<text x="211.7" y="939" font-size="17" text-anchor="middle" fill="#000"  textLength="126.5" lengthAdjust="spacingAndGlyphs">Potential(V/SCE)</text>
<text transform="translate(19.3 771.7) rotate(-90)" font-size="17" text-anchor="middle">I(Amps/cm<tspan font-size="11" dy="-6">2</tspan><tspan dy="6">)</tspan></text>
<line x1="307.6" y1="766.5" x2="338.3" y2="766.5" stroke="#3f3f3f" stroke-width="1.8" />
<text x="342.5" y="770.72" font-size="12.8" text-anchor="start" fill="#000" >HR1</text>
<line x1="307.6" y1="783.43" x2="338.3" y2="783.43" stroke="#f03030" stroke-width="1.8" />
<text x="342.5" y="787.65" font-size="12.8" text-anchor="start" fill="#000" >HR2</text>
<line x1="307.6" y1="800.36" x2="338.3" y2="800.36" stroke="#1860e0" stroke-width="1.8" />
<text x="342.5" y="804.58" font-size="12.8" text-anchor="start" fill="#000" >HR3</text>
<line x1="307.6" y1="817.29" x2="338.3" y2="817.29" stroke="#2aa860" stroke-width="1.8" />
<text x="342.5" y="821.51" font-size="12.8" text-anchor="start" fill="#000" >HR4</text>
<line x1="307.6" y1="834.22" x2="338.3" y2="834.22" stroke="#a868e0" stroke-width="1.8" />
<text x="342.5" y="838.44" font-size="12.8" text-anchor="start" fill="#000" >HR5</text>
<line x1="307.6" y1="851.15" x2="338.3" y2="851.15" stroke="#c8960c" stroke-width="1.8" />
<text x="342.5" y="855.37" font-size="12.8" text-anchor="start" fill="#000" >HR6</text>
<line x1="307.6" y1="868.08" x2="338.3" y2="868.08" stroke="#10c8cc" stroke-width="1.8" />
<text x="342.5" y="872.3" font-size="12.8" text-anchor="start" fill="#000" >HR7</text>
<line x1="307.6" y1="885.01" x2="338.3" y2="885.01" stroke="#6e4040" stroke-width="1.8" />
<text x="342.5" y="889.23" font-size="12.8" text-anchor="start" fill="#000" >HR8</text>
<g clip-path="url(#clipf)">
<path d="M437.08 899.67C438.65 899.12 442.71 897.34 446.47 896.38C450.24 895.41 455.26 894.45 459.65 893.9C464.05 893.36 468.99 893.08 472.83 893.08C476.68 893.08 480.25 894.04 482.72 893.9C485.19 893.77 486.84 892.53 487.66 892.26" fill="none" stroke="#20b030" stroke-width="3.3" stroke-linejoin="round" stroke-linecap="round" />
<path d="M437.08 899.67C439.2 898.71 445.46 895.41 449.77 893.9C454.08 892.39 458.01 891.57 462.95 890.61C467.89 889.65 473.93 888.55 479.42 888.14C484.91 887.73 490.41 888 495.9 888.14C501.39 888.28 506.88 888.61 512.37 888.96C517.86 889.32 525.28 889.87 528.85 890.28C532.42 890.69 532.97 891.24 533.79 891.43" fill="none" stroke="#9030d0" stroke-width="2.4" stroke-linejoin="round" stroke-linecap="round" />
<g fill="url(#ball_p)"><circle cx="437.08" cy="899.67" r="1.68"/><circle cx="441.4" cy="897.57" r="1.68"/><circle cx="445.75" cy="895.54" r="1.68"/><circle cx="450.2" cy="893.76" r="1.68"/><circle cx="454.8" cy="892.38" r="1.68"/><circle cx="459.48" cy="891.3" r="1.68"/><circle cx="464.19" cy="890.37" r="1.68"/><circle cx="468.91" cy="889.51" r="1.68"/><circle cx="473.65" cy="888.77" r="1.68"/><circle cx="478.42" cy="888.23" r="1.68"/><circle cx="483.21" cy="887.96" r="1.68"/><circle cx="488.01" cy="887.94" r="1.68"/><circle cx="492.81" cy="888.05" r="1.68"/><circle cx="497.61" cy="888.19" r="1.68"/><circle cx="502.4" cy="888.38" r="1.68"/><circle cx="507.2" cy="888.64" r="1.68"/><circle cx="511.99" cy="888.94" r="1.68"/><circle cx="516.78" cy="889.26" r="1.68"/><circle cx="521.56" cy="889.62" r="1.68"/><circle cx="526.35" cy="890.03" r="1.68"/><circle cx="531.11" cy="890.63" r="1.68"/></g>
<path d="M437.08 899.67C438.37 898.98 441.89 896.79 444.83 895.55C447.76 894.32 450.32 893.49 454.71 892.26C459.1 891.02 466.24 888.96 471.19 888.14C476.13 887.31 480.25 886.96 484.37 887.31C488.48 887.67 492.6 889.46 495.9 890.28C499.19 891.1 501.39 891.98 504.14 892.26C506.88 892.53 509.63 892.06 512.37 891.93C515.12 891.79 518.14 891.24 520.61 891.43C523.08 891.63 525.55 892.53 527.2 893.08C528.85 893.63 530.22 894.18 530.49 894.73C530.77 895.28 529.12 896.1 528.85 896.38" fill="none" stroke="#e8c000" stroke-width="3" stroke-linejoin="round" stroke-linecap="round" />
<g fill="url(#ball_y)"><circle cx="437.08" cy="899.67" r="1.82"/><circle cx="441.26" cy="897.31" r="1.82"/><circle cx="445.59" cy="895.24" r="1.82"/><circle cx="450.11" cy="893.62" r="1.82"/><circle cx="454.71" cy="892.26" r="1.82"/><circle cx="459.33" cy="890.96" r="1.82"/><circle cx="463.97" cy="889.73" r="1.82"/><circle cx="468.64" cy="888.63" r="1.82"/><circle cx="473.37" cy="887.8" r="1.82"/><circle cx="478.14" cy="887.28" r="1.82"/><circle cx="482.94" cy="887.22" r="1.82"/><circle cx="487.68" cy="887.87" r="1.82"/><circle cx="492.29" cy="889.2" r="1.82"/><circle cx="496.9" cy="890.54" r="1.82"/><circle cx="501.53" cy="891.81" r="1.82"/><circle cx="506.29" cy="892.34" r="1.82"/><circle cx="511.08" cy="892.01" r="1.82"/><circle cx="515.86" cy="891.63" r="1.82"/><circle cx="520.65" cy="891.44" r="1.82"/><circle cx="525.33" cy="892.46" r="1.82"/><circle cx="529.82" cy="894.14" r="1.82"/></g>
<path d="M437.08 899.67C438.1 898.98 441.07 896.79 443.18 895.55C445.29 894.32 446.47 893.77 449.77 892.26C453.06 890.75 458.56 887.86 462.95 886.49C467.34 885.12 471.74 884.43 476.13 884.02C480.52 883.61 484.91 883.88 489.31 884.02C493.7 884.16 498.09 884.57 502.49 884.84C506.88 885.12 511.82 885.58 515.67 885.67C519.51 885.75 522.81 885.06 525.55 885.34C528.3 885.61 530.22 886.3 532.14 887.31C534.06 888.33 535.44 890.2 537.08 891.43C538.73 892.67 540.79 894.32 542.03 894.73C543.26 895.14 544.09 894.04 544.5 893.9" fill="none" stroke="#00d0d8" stroke-width="2.7" stroke-linejoin="round" stroke-linecap="round" />
<g fill="url(#ball_c)"><circle cx="437.08" cy="899.67" r="1.82"/><circle cx="441.02" cy="896.93" r="1.82"/><circle cx="445.14" cy="894.46" r="1.82"/><circle cx="449.47" cy="892.39" r="1.82"/><circle cx="453.8" cy="890.33" r="1.82"/><circle cx="458.17" cy="888.33" r="1.82"/><circle cx="462.64" cy="886.6" r="1.82"/><circle cx="467.27" cy="885.35" r="1.82"/><circle cx="472" cy="884.51" r="1.82"/><circle cx="476.77" cy="883.97" r="1.82"/><circle cx="481.56" cy="883.81" r="1.82"/><circle cx="486.36" cy="883.92" r="1.82"/><circle cx="491.16" cy="884.09" r="1.82"/><circle cx="495.95" cy="884.38" r="1.82"/><circle cx="500.74" cy="884.73" r="1.82"/><circle cx="505.52" cy="885.05" r="1.82"/><circle cx="510.31" cy="885.4" r="1.82"/><circle cx="515.1" cy="885.65" r="1.82"/><circle cx="519.9" cy="885.52" r="1.82"/><circle cx="524.69" cy="885.29" r="1.82"/><circle cx="529.4" cy="886.13" r="1.82"/><circle cx="533.64" cy="888.33" r="1.82"/><circle cx="537.21" cy="891.53" r="1.82"/><circle cx="541.13" cy="894.3" r="1.82"/></g>
<path d="M449.77 887.31C451.97 886.22 458.56 882.24 462.95 880.72C467.34 879.21 471.74 878.67 476.13 878.25C480.52 877.84 484.91 877.9 489.31 878.25C493.7 878.61 498.09 879.57 502.49 880.4C506.88 881.22 511.27 882.37 515.67 883.2C520.06 884.02 524.45 884.79 528.85 885.34C533.24 885.89 538.18 885.89 542.03 886.49C545.87 887.1 549.17 888 551.91 888.96C554.66 889.92 556.58 891.3 558.5 892.26C560.42 893.22 562.62 894.32 563.44 894.73" fill="none" stroke="#ff1010" stroke-width="2.7" stroke-linejoin="round" stroke-linecap="round" />
<g fill="url(#ball_r)"><circle cx="437.08" cy="899.67" r="2.24"/><circle cx="440.68" cy="895.64" r="2.24"/><circle cx="444.36" cy="891.69" r="2.24"/><circle cx="448.49" cy="888.22" r="2.24"/><circle cx="452.93" cy="885.14" r="2.24"/><circle cx="457.57" cy="882.39" r="2.24"/><circle cx="462.46" cy="880.1" r="2.24"/><circle cx="467.61" cy="878.49" r="2.24"/><circle cx="472.91" cy="877.51" r="2.24"/><circle cx="478.3" cy="877.13" r="2.24"/><circle cx="483.7" cy="877.15" r="2.24"/><circle cx="489.08" cy="877.6" r="2.24"/><circle cx="494.4" cy="878.48" r="2.24"/><circle cx="499.71" cy="879.5" r="2.24"/><circle cx="505" cy="880.56" r="2.24"/><circle cx="510.32" cy="881.49" r="2.24"/><circle cx="515.61" cy="882.58" r="2.24"/><circle cx="520.88" cy="883.74" r="2.24"/><circle cx="526.18" cy="884.77" r="2.24"/><circle cx="531.52" cy="885.6" r="2.24"/><circle cx="536.9" cy="886.07" r="2.24"/><circle cx="542.27" cy="885.91" r="2.24"/><circle cx="546.32" cy="883.66" r="2.24"/><circle cx="550.28" cy="887.33" r="2.24"/><circle cx="554.46" cy="890.74" r="2.24"/><circle cx="557.96" cy="894.83" r="2.24"/></g>
<g fill="url(#ball_b)"><circle cx="471.19" cy="880.72" r="2.38"/><circle cx="477.78" cy="878.75" r="2.38"/><circle cx="484.37" cy="876.61" r="2.38"/><circle cx="489.31" cy="875.29" r="2.38"/><circle cx="494.25" cy="874.14" r="2.38"/><circle cx="501.17" cy="873.64" r="2.38"/><circle cx="506.61" cy="873.64" r="2.38"/><circle cx="512.37" cy="874.46" r="2.38"/><circle cx="518.14" cy="875.45" r="2.38"/><circle cx="523.9" cy="877.1" r="2.38"/><circle cx="528.85" cy="878.75" r="2.38"/><circle cx="533.79" cy="880.72" r="2.38"/><circle cx="538.73" cy="882.87" r="2.38"/><circle cx="543.67" cy="884.84" r="2.38"/><circle cx="547.79" cy="885.34" r="2.38"/><circle cx="551.91" cy="884.02" r="2.38"/><circle cx="556.03" cy="882.04" r="2.38"/><circle cx="560.15" cy="880.4" r="2.38"/><circle cx="564.27" cy="879.74" r="2.38"/><circle cx="568.39" cy="880.4" r="2.38"/><circle cx="570.86" cy="884.35" r="2.38"/></g>
<path d="M437.08 899.67C438.65 898.43 443.26 894.45 446.47 892.26C449.69 890.06 453.06 888.28 456.36 886.49C459.65 884.71 462.95 882.92 466.24 881.55C469.54 880.18 472.83 879.16 476.13 878.25C479.42 877.35 482.72 876.58 486.01 876.11C489.31 875.65 492.6 875.51 495.9 875.45C499.19 875.4 502.49 875.45 505.78 875.78C509.08 876.11 512.37 876.61 515.67 877.43C518.96 878.25 522.26 879.49 525.55 880.72C528.85 881.96 532.42 883.69 535.44 884.84C538.46 886 541.2 887.1 543.67 887.64C546.14 888.19 547.79 888.47 550.26 888.14C552.73 887.81 555.76 886.63 558.5 885.67C561.25 884.71 564.27 883.25 566.74 882.37C569.21 881.49 571.19 880.94 573.33 880.4C575.47 879.85 578.54 879.3 579.59 879.08" fill="none" stroke="#1010f0" stroke-width="2.55" stroke-linejoin="round" stroke-linecap="round" />
<path d="M437.08 899.67C438.37 897.89 442.16 892.39 444.83 888.96C447.49 885.53 450.04 882.1 453.06 879.08C456.08 876.06 459.38 873.17 462.95 870.84C466.52 868.51 470.36 866.86 474.48 865.07C478.6 863.29 483.27 861.5 487.66 860.13C492.05 858.76 496.72 857.66 500.84 856.84C504.96 856.01 508.25 855.55 512.37 855.19C516.49 854.83 521.16 854.67 525.55 854.7C529.95 854.72 534.34 855 538.73 855.35C543.12 855.71 547.52 856.32 551.91 856.84C556.3 857.36 560.7 858.07 565.09 858.48C569.48 858.9 574.43 859.17 578.27 859.31C582.11 859.45 584.86 859.45 588.15 859.31C591.45 859.17 594.2 858.9 598.04 858.48C601.88 858.07 606.28 857.52 611.22 856.84C616.16 856.15 621.41 855.37 627.69 854.37C633.98 853.36 641.91 851.65 648.94 850.82C655.97 850 662.89 849.54 669.86 849.43C676.83 849.31 683.81 849.31 690.78 850.13C697.75 850.94 704.73 852.45 711.7 854.31C718.68 856.17 725.76 858.61 732.62 861.28C739.48 863.96 749.47 868.84 752.85 870.35" fill="none" stroke="#6e4040" stroke-width="1.8" stroke-linejoin="round" stroke-linecap="round" />
<g fill="url(#ball_n)"><circle cx="439.88" cy="895.55" r="2.8"/><circle cx="443.18" cy="891.43" r="2.8"/><circle cx="447.3" cy="886.49" r="2.8"/><circle cx="451.42" cy="881.55" r="2.8"/><circle cx="456.36" cy="876.61" r="2.8"/><circle cx="461.3" cy="872.49" r="2.8"/><circle cx="467.07" cy="868.37" r="2.8"/><circle cx="473.16" cy="868.86" r="2.8"/><circle cx="479.42" cy="865.9" r="2.8"/><circle cx="486.01" cy="863.43" r="2.8"/><circle cx="493.43" cy="860.63" r="2.8"/><circle cx="501.99" cy="858.15" r="2.8"/><circle cx="510.23" cy="856.51" r="2.8"/><circle cx="519.29" cy="854.7" r="2.8"/><circle cx="528.52" cy="853.54" r="2.8"/><circle cx="538.07" cy="852.72" r="2.8"/><circle cx="547.63" cy="852.39" r="2.8"/><circle cx="557.51" cy="852.72" r="2.8"/><circle cx="566.74" cy="853.05" r="2.8"/><circle cx="575.8" cy="853.71" r="2.8"/><circle cx="584.53" cy="854.37" r="2.8"/><circle cx="592.27" cy="855.35" r="2.8"/><circle cx="599.69" cy="856.18" r="2.8"/><circle cx="606.61" cy="856.67" r="2.8"/><circle cx="613.53" cy="857" r="2.8"/><circle cx="620.28" cy="856.84" r="2.8"/><circle cx="626.87" cy="856.01" r="2.8"/><circle cx="641.97" cy="852.91" r="2.8"/><circle cx="648.94" cy="850.13" r="2.8"/><circle cx="658.7" cy="848.38" r="2.8"/><circle cx="668.12" cy="846.64" r="2.8"/><circle cx="677.53" cy="845.24" r="2.8"/><circle cx="687.99" cy="844.2" r="2.8"/><circle cx="697.75" cy="844.2" r="2.8"/><circle cx="707.52" cy="845.24" r="2.8"/><circle cx="715.19" cy="846.99" r="2.8"/><circle cx="722.86" cy="849.43" r="2.8"/><circle cx="729.14" cy="851.87" r="2.8"/><circle cx="732.62" cy="856.4" r="2.8"/><circle cx="733.32" cy="860.59" r="2.8"/><circle cx="732.62" cy="865.47" r="2.8"/></g>
<g fill="url(#ball_k)"><circle cx="465.42" cy="871.17" r="2.8"/><circle cx="469.54" cy="867.55" r="2.8"/><circle cx="475.3" cy="863.43" r="2.8"/><circle cx="481.89" cy="859.31" r="2.8"/><circle cx="488.98" cy="855.19" r="2.8"/><circle cx="497.87" cy="850.25" r="2.8"/><circle cx="507.76" cy="845.63" r="2.8"/><circle cx="518.96" cy="841.19" r="2.8"/><circle cx="531.81" cy="837.89" r="2.8"/><circle cx="545.32" cy="834.93" r="2.8"/><circle cx="559.82" cy="832.95" r="2.8"/><circle cx="574.65" cy="832.45" r="2.8"/><circle cx="588.81" cy="832.45" r="2.8"/><circle cx="602.98" cy="834.27" r="2.8"/><circle cx="615.83" cy="835.91" r="2.8"/><circle cx="627.69" cy="839.54" r="2.8"/><circle cx="628.02" cy="840.36" r="2.8"/><circle cx="637.78" cy="843.15" r="2.8"/><circle cx="646.5" cy="846.64" r="2.8"/><circle cx="654.17" cy="849.43" r="2.8"/><circle cx="659.4" cy="851.87" r="2.8"/><circle cx="669.86" cy="858.84" r="2.8"/><circle cx="675.09" cy="862.33" r="2.8"/><circle cx="680.32" cy="865.82" r="2.8"/><circle cx="682.76" cy="869.3" r="2.8"/><circle cx="682.76" cy="881.51" r="2.8"/><circle cx="687.29" cy="885.69" r="2.8"/><circle cx="690.08" cy="896.5" r="2.8"/></g>
<path d="M437.08 899.67C438.65 898.02 443.26 893.22 446.47 889.79C449.69 886.35 453.06 882.37 456.36 879.08C459.65 875.78 462.4 873.17 466.24 870.02C470.09 866.86 475.03 863.01 479.42 860.13C483.82 857.25 487.94 855.05 492.6 852.72C497.27 850.38 502.49 848.05 507.43 846.13C512.37 844.21 517.31 842.5 522.26 841.19C527.2 839.87 532.14 838.99 537.08 838.22C542.03 837.45 546.97 837.04 551.91 836.57C556.85 836.11 563.17 835.64 566.74 835.42C570.31 835.2 570.03 835.12 573.33 835.26C576.62 835.39 581.84 835.75 586.51 836.24C591.18 836.74 596.39 837.4 601.33 838.22C606.28 839.04 611.38 840.01 616.16 841.19C620.94 842.37 625.12 843.35 630 845.3C634.88 847.26 639.97 849.96 645.45 852.91C650.93 855.87 657.08 859.31 662.89 863.03C668.7 866.75 675.09 871.28 680.32 875.23C685.55 879.18 690.9 883.83 694.27 886.74C697.64 889.64 699.5 891.68 700.54 892.66" fill="none" stroke="#000" stroke-width="1.95" stroke-linejoin="round" stroke-linecap="round" />
</g>
<rect x="437.3" y="646.3" width="315.7" height="253.3" fill="none" stroke="#000" stroke-width="1.9"/>
<line x1="437.3" y1="899.6" x2="437.3" y2="895.1" stroke="#000" stroke-width="1.6" />
<text x="437.3" y="914.6" font-size="10.8" text-anchor="middle" fill="#000" >0</text>
<line x1="482.4" y1="899.6" x2="482.4" y2="895.1" stroke="#000" stroke-width="1.6" />
<text x="482.4" y="914.6" font-size="10.8" text-anchor="middle" fill="#000" >1000</text>
<line x1="527.5" y1="899.6" x2="527.5" y2="895.1" stroke="#000" stroke-width="1.6" />
<text x="527.5" y="914.6" font-size="10.8" text-anchor="middle" fill="#000" >2000</text>
<line x1="572.6" y1="899.6" x2="572.6" y2="895.1" stroke="#000" stroke-width="1.6" />
<text x="572.6" y="914.6" font-size="10.8" text-anchor="middle" fill="#000" >3000</text>
<line x1="617.7" y1="899.6" x2="617.7" y2="895.1" stroke="#000" stroke-width="1.6" />
<text x="617.7" y="914.6" font-size="10.8" text-anchor="middle" fill="#000" >4000</text>
<line x1="662.8" y1="899.6" x2="662.8" y2="895.1" stroke="#000" stroke-width="1.6" />
<text x="662.8" y="914.6" font-size="10.8" text-anchor="middle" fill="#000" >5000</text>
<line x1="707.9" y1="899.6" x2="707.9" y2="895.1" stroke="#000" stroke-width="1.6" />
<text x="707.9" y="914.6" font-size="10.8" text-anchor="middle" fill="#000" >6000</text>
<line x1="753" y1="899.6" x2="753" y2="895.1" stroke="#000" stroke-width="1.6" />
<text x="753" y="914.6" font-size="10.8" text-anchor="middle" fill="#000" >7000</text>
<line x1="459.85" y1="899.6" x2="459.85" y2="897.1" stroke="#000" stroke-width="1.28" />
<line x1="504.95" y1="899.6" x2="504.95" y2="897.1" stroke="#000" stroke-width="1.28" />
<line x1="550.05" y1="899.6" x2="550.05" y2="897.1" stroke="#000" stroke-width="1.28" />
<line x1="595.15" y1="899.6" x2="595.15" y2="897.1" stroke="#000" stroke-width="1.28" />
<line x1="640.25" y1="899.6" x2="640.25" y2="897.1" stroke="#000" stroke-width="1.28" />
<line x1="685.35" y1="899.6" x2="685.35" y2="897.1" stroke="#000" stroke-width="1.28" />
<line x1="730.45" y1="899.6" x2="730.45" y2="897.1" stroke="#000" stroke-width="1.28" />
<line x1="437.3" y1="899.6" x2="441.8" y2="899.6" stroke="#000" stroke-width="1.6" />
<text x="431.3" y="903.16" font-size="10.8" text-anchor="end" fill="#000" >0</text>
<line x1="437.3" y1="863.41" x2="441.8" y2="863.41" stroke="#000" stroke-width="1.6" />
<text x="431.3" y="866.98" font-size="10.8" text-anchor="end" fill="#000" >1000</text>
<line x1="437.3" y1="827.23" x2="441.8" y2="827.23" stroke="#000" stroke-width="1.6" />
<text x="431.3" y="830.79" font-size="10.8" text-anchor="end" fill="#000" >2000</text>
<line x1="437.3" y1="791.04" x2="441.8" y2="791.04" stroke="#000" stroke-width="1.6" />
<text x="431.3" y="794.61" font-size="10.8" text-anchor="end" fill="#000" >3000</text>
<line x1="437.3" y1="754.86" x2="441.8" y2="754.86" stroke="#000" stroke-width="1.6" />
<text x="431.3" y="758.42" font-size="10.8" text-anchor="end" fill="#000" >4000</text>
<line x1="437.3" y1="718.67" x2="441.8" y2="718.67" stroke="#000" stroke-width="1.6" />
<text x="431.3" y="722.24" font-size="10.8" text-anchor="end" fill="#000" >5000</text>
<line x1="437.3" y1="682.49" x2="441.8" y2="682.49" stroke="#000" stroke-width="1.6" />
<text x="431.3" y="686.05" font-size="10.8" text-anchor="end" fill="#000" >6000</text>
<line x1="437.3" y1="646.3" x2="441.8" y2="646.3" stroke="#000" stroke-width="1.6" />
<text x="431.3" y="649.86" font-size="10.8" text-anchor="end" fill="#000" >7000</text>
<line x1="437.3" y1="881.51" x2="439.8" y2="881.51" stroke="#000" stroke-width="1.28" />
<line x1="437.3" y1="845.32" x2="439.8" y2="845.32" stroke="#000" stroke-width="1.28" />
<line x1="437.3" y1="809.14" x2="439.8" y2="809.14" stroke="#000" stroke-width="1.28" />
<line x1="437.3" y1="772.95" x2="439.8" y2="772.95" stroke="#000" stroke-width="1.28" />
<line x1="437.3" y1="736.76" x2="439.8" y2="736.76" stroke="#000" stroke-width="1.28" />
<line x1="437.3" y1="700.58" x2="439.8" y2="700.58" stroke="#000" stroke-width="1.28" />
<line x1="437.3" y1="664.39" x2="439.8" y2="664.39" stroke="#000" stroke-width="1.28" />
<text x="447" y="695" font-size="53.6" text-anchor="start" fill="#000" >(f)</text>
<text x="595" y="939.5" font-size="17" text-anchor="middle" textLength="71" lengthAdjust="spacingAndGlyphs">Z'(Ω/cm<tspan font-size="10.54" dy="-6.12">2</tspan><tspan dy="6.12">)</tspan></text>
<text transform="translate(402.3 771.7) rotate(-90)" font-size="17" text-anchor="middle">Z''(Ω/cm<tspan font-size="10.54" dy="-6.12">2</tspan><tspan dy="6.12">)</tspan></text>
<circle cx="538.8" cy="659.7" r="3" fill="url(#ball_k)"/>
<text x="554" y="663.1" font-size="10.3" text-anchor="start" fill="#000" >HR1</text>
<circle cx="538.8" cy="672.95" r="3" fill="url(#ball_r)"/>
<text x="554" y="676.35" font-size="10.3" text-anchor="start" fill="#000" >HR2</text>
<circle cx="538.8" cy="686.2" r="3" fill="url(#ball_b)"/>
<text x="554" y="689.6" font-size="10.3" text-anchor="start" fill="#000" >HR3</text>
<circle cx="538.8" cy="699.45" r="3" fill="url(#ball_g)"/>
<text x="554" y="702.85" font-size="10.3" text-anchor="start" fill="#000" >HR4</text>
<circle cx="538.8" cy="712.7" r="3" fill="url(#ball_p)"/>
<text x="554" y="716.1" font-size="10.3" text-anchor="start" fill="#000" >HR5</text>
<circle cx="538.8" cy="725.95" r="3" fill="url(#ball_y)"/>
<text x="554" y="729.35" font-size="10.3" text-anchor="start" fill="#000" >HR6</text>
<circle cx="538.8" cy="739.2" r="3" fill="url(#ball_c)"/>
<text x="554" y="742.6" font-size="10.3" text-anchor="start" fill="#000" >HR7</text>
<circle cx="538.8" cy="752.45" r="3" fill="url(#ball_n)"/>
<text x="554" y="755.85" font-size="10.3" text-anchor="start" fill="#000" >HR8</text>
<line x1="527.6" y1="765.7" x2="551.3" y2="765.7" stroke="#000" stroke-width="1.6" />
<text x="554" y="769.2" font-size="10.4" text-anchor="start" fill="#000" >Fiting</text>
<rect x="603.5" y="651.4" width="145.2" height="121.4" fill="#fff" />
<g clip-path="url(#clipfi)">
<path d="M603.27 772.88C604.95 772.26 609.32 770.27 613.37 769.19C617.41 768.11 622.82 767.04 627.54 766.42C632.26 765.81 637.58 765.5 641.71 765.5C645.85 765.5 649.69 766.58 652.34 766.42C655 766.27 656.77 764.89 657.66 764.58" fill="none" stroke="#20b030" stroke-width="1.32" stroke-linejoin="round" stroke-linecap="round" />
<path d="M603.27 772.88C605.54 771.8 612.27 768.11 616.91 766.42C621.55 764.73 625.77 763.81 631.08 762.73C636.4 761.66 642.89 760.43 648.8 759.97C654.71 759.51 660.61 759.81 666.52 759.97C672.42 760.12 678.33 760.49 684.23 760.89C690.14 761.29 698.11 761.9 701.95 762.37C705.79 762.83 706.38 763.44 707.26 763.66" fill="none" stroke="#9030d0" stroke-width="0.96" stroke-linejoin="round" stroke-linecap="round" />
<g fill="url(#ball_p)"><circle cx="603.27" cy="772.88" r="0.51"/><circle cx="607.55" cy="770.71" r="0.51"/><circle cx="611.86" cy="768.6" r="0.51"/><circle cx="616.26" cy="766.68" r="0.51"/><circle cx="620.81" cy="765.15" r="0.51"/><circle cx="625.45" cy="763.94" r="0.51"/><circle cx="630.14" cy="762.93" r="0.51"/><circle cx="634.85" cy="761.99" r="0.51"/><circle cx="639.57" cy="761.15" r="0.51"/><circle cx="644.32" cy="760.44" r="0.51"/><circle cx="649.1" cy="759.95" r="0.51"/><circle cx="653.89" cy="759.74" r="0.51"/><circle cx="658.69" cy="759.76" r="0.51"/><circle cx="663.49" cy="759.88" r="0.51"/><circle cx="668.29" cy="760.02" r="0.51"/><circle cx="673.08" cy="760.22" r="0.51"/><circle cx="677.88" cy="760.48" r="0.51"/><circle cx="682.67" cy="760.79" r="0.51"/><circle cx="687.45" cy="761.12" r="0.51"/><circle cx="692.24" cy="761.48" r="0.51"/><circle cx="697.02" cy="761.87" r="0.51"/><circle cx="701.8" cy="762.35" r="0.51"/><circle cx="706.47" cy="763.38" r="0.51"/></g>
<path d="M603.27 772.88C604.66 772.11 608.44 769.65 611.59 768.27C614.75 766.88 617.5 765.96 622.22 764.58C626.95 763.2 634.63 760.89 639.94 759.97C645.26 759.05 649.69 758.65 654.11 759.05C658.54 759.44 662.97 761.44 666.52 762.37C670.06 763.29 672.42 764.27 675.37 764.58C678.33 764.89 681.28 764.36 684.23 764.21C687.19 764.06 690.43 763.44 693.09 763.66C695.75 763.87 698.41 764.89 700.18 765.5C701.95 766.12 703.43 766.73 703.72 767.35C704.02 767.96 702.24 768.88 701.95 769.19" fill="none" stroke="#e8c000" stroke-width="1.2" stroke-linejoin="round" stroke-linecap="round" />
<g fill="url(#ball_y)"><circle cx="603.27" cy="772.88" r="0.55"/><circle cx="607.4" cy="770.44" r="0.55"/><circle cx="611.66" cy="768.24" r="0.55"/><circle cx="616.13" cy="766.49" r="0.55"/><circle cx="620.71" cy="765.03" r="0.55"/><circle cx="625.31" cy="763.68" r="0.55"/><circle cx="629.93" cy="762.36" r="0.55"/><circle cx="634.57" cy="761.14" r="0.55"/><circle cx="639.25" cy="760.1" r="0.55"/><circle cx="643.99" cy="759.35" r="0.55"/><circle cx="648.77" cy="758.93" r="0.55"/><circle cx="653.57" cy="759.01" r="0.55"/><circle cx="658.29" cy="759.83" r="0.55"/><circle cx="662.88" cy="761.24" r="0.55"/><circle cx="667.47" cy="762.63" r="0.55"/><circle cx="672.09" cy="763.95" r="0.55"/><circle cx="676.82" cy="764.66" r="0.55"/><circle cx="681.61" cy="764.41" r="0.55"/><circle cx="686.4" cy="764.04" r="0.55"/><circle cx="691.18" cy="763.63" r="0.55"/><circle cx="695.93" cy="764.15" r="0.55"/><circle cx="700.5" cy="765.62" r="0.55"/><circle cx="703.22" cy="768.24" r="0.55"/></g>
<path d="M603.27 772.88C604.36 772.11 607.55 769.65 609.82 768.27C612.1 766.88 613.37 766.27 616.91 764.58C620.45 762.89 626.36 759.66 631.08 758.12C635.81 756.59 640.53 755.82 645.26 755.36C649.98 754.9 654.71 755.2 659.43 755.36C664.15 755.51 668.88 755.97 673.6 756.28C678.33 756.59 683.64 757.11 687.78 757.2C691.91 757.29 695.45 756.52 698.41 756.83C701.36 757.14 703.43 757.91 705.49 759.05C707.56 760.18 709.04 762.27 710.81 763.66C712.58 765.04 714.79 766.88 716.12 767.35C717.45 767.81 718.34 766.58 718.78 766.42" fill="none" stroke="#00d0d8" stroke-width="1.08" stroke-linejoin="round" stroke-linecap="round" />
<g fill="url(#ball_c)"><circle cx="603.27" cy="772.88" r="0.55"/><circle cx="607.15" cy="770.05" r="0.55"/><circle cx="611.19" cy="767.46" r="0.55"/><circle cx="615.46" cy="765.27" r="0.55"/><circle cx="619.77" cy="763.17" r="0.55"/><circle cx="624.08" cy="761.05" r="0.55"/><circle cx="628.46" cy="759.1" r="0.55"/><circle cx="633" cy="757.54" r="0.55"/><circle cx="637.67" cy="756.44" r="0.55"/><circle cx="642.41" cy="755.68" r="0.55"/><circle cx="647.18" cy="755.21" r="0.55"/><circle cx="651.98" cy="755.12" r="0.55"/><circle cx="656.78" cy="755.26" r="0.55"/><circle cx="661.58" cy="755.45" r="0.55"/><circle cx="666.37" cy="755.75" r="0.55"/><circle cx="671.15" cy="756.11" r="0.55"/><circle cx="675.94" cy="756.44" r="0.55"/><circle cx="680.73" cy="756.81" r="0.55"/><circle cx="685.52" cy="757.11" r="0.55"/><circle cx="690.31" cy="757.16" r="0.55"/><circle cx="695.1" cy="756.82" r="0.55"/><circle cx="699.88" cy="757.04" r="0.55"/><circle cx="704.44" cy="758.5" r="0.55"/><circle cx="708.3" cy="761.3" r="0.55"/><circle cx="711.88" cy="764.5" r="0.55"/><circle cx="715.82" cy="767.21" r="0.55"/></g>
<path d="M616.91 759.05C619.27 757.82 626.36 753.36 631.08 751.67C635.81 749.98 640.53 749.36 645.26 748.9C649.98 748.44 654.71 748.5 659.43 748.9C664.15 749.3 668.88 750.38 673.6 751.3C678.33 752.22 683.05 753.51 687.78 754.43C692.5 755.36 697.22 756.22 701.95 756.83C706.67 757.45 711.99 757.45 716.12 758.12C720.26 758.8 723.8 759.81 726.75 760.89C729.71 761.97 731.77 763.5 733.84 764.58C735.91 765.65 738.27 766.88 739.15 767.35" fill="none" stroke="#ff1010" stroke-width="1.08" stroke-linejoin="round" stroke-linecap="round" />
<g fill="url(#ball_r)"><circle cx="603.27" cy="772.88" r="0.68"/><circle cx="606.78" cy="768.78" r="0.68"/><circle cx="610.36" cy="764.74" r="0.68"/><circle cx="614.29" cy="761.04" r="0.68"/><circle cx="618.6" cy="757.79" r="0.68"/><circle cx="623.11" cy="754.81" r="0.68"/><circle cx="627.83" cy="752.2" r="0.68"/><circle cx="632.81" cy="750.12" r="0.68"/><circle cx="638.02" cy="748.72" r="0.68"/><circle cx="643.35" cy="747.89" r="0.68"/><circle cx="648.74" cy="747.61" r="0.68"/><circle cx="654.14" cy="747.7" r="0.68"/><circle cx="659.52" cy="748.21" r="0.68"/><circle cx="664.84" cy="749.14" r="0.68"/><circle cx="670.13" cy="750.19" r="0.68"/><circle cx="675.42" cy="751.31" r="0.68"/><circle cx="680.73" cy="752.28" r="0.68"/><circle cx="686.02" cy="753.35" r="0.68"/><circle cx="691.28" cy="754.58" r="0.68"/><circle cx="696.56" cy="755.7" r="0.68"/><circle cx="701.87" cy="756.7" r="0.68"/><circle cx="707.22" cy="757.37" r="0.68"/><circle cx="712.61" cy="757.75" r="0.68"/><circle cx="717.67" cy="756.59" r="0.68"/><circle cx="721.58" cy="755.65" r="0.68"/><circle cx="725.43" cy="759.43" r="0.68"/><circle cx="729.55" cy="762.92" r="0.68"/><circle cx="732.99" cy="767.07" r="0.68"/></g>
<g fill="url(#ball_b)"><circle cx="639.94" cy="751.67" r="0.72"/><circle cx="647.03" cy="749.45" r="0.72"/><circle cx="654.11" cy="747.06" r="0.72"/><circle cx="659.43" cy="745.58" r="0.72"/><circle cx="664.74" cy="744.29" r="0.72"/><circle cx="672.19" cy="743.74" r="0.72"/><circle cx="678.03" cy="743.74" r="0.72"/><circle cx="684.23" cy="744.66" r="0.72"/><circle cx="690.43" cy="745.77" r="0.72"/><circle cx="696.63" cy="747.61" r="0.72"/><circle cx="701.95" cy="749.45" r="0.72"/><circle cx="707.26" cy="751.67" r="0.72"/><circle cx="712.58" cy="754.07" r="0.72"/><circle cx="717.89" cy="756.28" r="0.72"/><circle cx="722.32" cy="756.83" r="0.72"/><circle cx="726.75" cy="755.36" r="0.72"/><circle cx="731.18" cy="753.14" r="0.72"/><circle cx="735.61" cy="751.3" r="0.72"/><circle cx="740.04" cy="750.56" r="0.72"/><circle cx="744.47" cy="751.3" r="0.72"/><circle cx="747.13" cy="755.73" r="0.72"/></g>
<path d="M603.27 772.88C604.95 771.5 609.91 767.04 613.37 764.58C616.82 762.12 620.45 760.12 624 758.12C627.54 756.12 631.08 754.13 634.63 752.59C638.17 751.05 641.71 749.92 645.26 748.9C648.8 747.89 652.34 747.03 655.89 746.5C659.43 745.98 662.97 745.83 666.52 745.77C670.06 745.7 673.6 745.77 677.15 746.13C680.69 746.5 684.23 747.06 687.78 747.98C691.32 748.9 694.86 750.28 698.41 751.67C701.95 753.05 705.79 754.99 709.04 756.28C712.28 757.57 715.24 758.8 717.89 759.41C720.55 760.03 722.32 760.34 724.98 759.97C727.64 759.6 730.89 758.28 733.84 757.2C736.79 756.12 740.04 754.5 742.7 753.51C745.36 752.53 747.48 751.91 749.78 751.3C752.09 750.68 755.39 750.07 756.52 749.82" fill="none" stroke="#1010f0" stroke-width="1.02" stroke-linejoin="round" stroke-linecap="round" />
<path d="M603.27 772.88C604.66 770.88 608.73 764.73 611.59 760.89C614.46 757.05 617.2 753.2 620.45 749.82C623.7 746.44 627.24 743.21 631.08 740.6C634.92 737.99 639.06 736.14 643.48 734.14C647.91 732.15 652.93 730.15 657.66 728.61C662.38 727.07 667.4 725.84 671.83 724.92C676.26 724 679.8 723.48 684.23 723.08C688.66 722.68 693.68 722.49 698.41 722.52C703.13 722.56 707.85 722.86 712.58 723.26C717.3 723.66 722.03 724.34 726.75 724.92C731.48 725.51 736.2 726.31 740.93 726.77C745.65 727.23 750.97 727.54 755.1 727.69C759.23 727.84 762.19 727.84 765.73 727.69C769.27 727.54 772.23 727.23 776.36 726.77C780.49 726.31 785.22 725.69 790.53 724.92C795.85 724.15 801.49 723.28 808.25 722.16C815.01 721.03 823.54 719.11 831.1 718.19C838.66 717.27 846.1 716.76 853.6 716.63C861.09 716.5 868.59 716.5 876.09 717.41C883.59 718.32 891.09 720.01 898.59 722.09C906.09 724.17 913.72 726.91 921.09 729.9C928.46 732.89 939.21 738.36 942.84 740.05" fill="none" stroke="#6e4040" stroke-width="0.72" stroke-linejoin="round" stroke-linecap="round" />
<g fill="url(#ball_n)"><circle cx="606.28" cy="768.27" r="0.85"/><circle cx="609.82" cy="763.66" r="0.85"/><circle cx="614.25" cy="758.12" r="0.85"/><circle cx="618.68" cy="752.59" r="0.85"/><circle cx="624" cy="747.06" r="0.85"/><circle cx="629.31" cy="742.45" r="0.85"/><circle cx="635.51" cy="737.83" r="0.85"/><circle cx="642.07" cy="738.39" r="0.85"/><circle cx="648.8" cy="735.07" r="0.85"/><circle cx="655.89" cy="732.3" r="0.85"/><circle cx="663.86" cy="729.16" r="0.85"/><circle cx="673.07" cy="726.4" r="0.85"/><circle cx="681.93" cy="724.55" r="0.85"/><circle cx="691.67" cy="722.52" r="0.85"/><circle cx="701.6" cy="721.23" r="0.85"/><circle cx="711.87" cy="720.31" r="0.85"/><circle cx="722.15" cy="719.94" r="0.85"/><circle cx="732.78" cy="720.31" r="0.85"/><circle cx="742.7" cy="720.68" r="0.85"/><circle cx="752.44" cy="721.42" r="0.85"/><circle cx="761.83" cy="722.16" r="0.85"/><circle cx="770.16" cy="723.26" r="0.85"/><circle cx="778.13" cy="724.18" r="0.85"/><circle cx="785.57" cy="724.74" r="0.85"/><circle cx="793.01" cy="725.11" r="0.85"/><circle cx="800.28" cy="724.92" r="0.85"/><circle cx="807.36" cy="724" r="0.85"/><circle cx="823.6" cy="720.53" r="0.85"/><circle cx="831.1" cy="717.41" r="0.85"/><circle cx="841.6" cy="715.46" r="0.85"/><circle cx="851.72" cy="713.5" r="0.85"/><circle cx="861.84" cy="711.94" r="0.85"/><circle cx="873.09" cy="710.77" r="0.85"/><circle cx="883.59" cy="710.77" r="0.85"/><circle cx="894.09" cy="711.94" r="0.85"/><circle cx="902.34" cy="713.89" r="0.85"/><circle cx="910.59" cy="716.63" r="0.85"/><circle cx="917.34" cy="719.36" r="0.85"/><circle cx="921.09" cy="724.44" r="0.85"/><circle cx="921.84" cy="729.12" r="0.85"/><circle cx="921.09" cy="734.58" r="0.85"/></g>
<g fill="url(#ball_k)"><circle cx="633.74" cy="740.97" r="0.85"/><circle cx="638.17" cy="736.91" r="0.85"/><circle cx="644.37" cy="732.3" r="0.85"/><circle cx="651.46" cy="727.69" r="0.85"/><circle cx="659.08" cy="723.08" r="0.85"/><circle cx="668.64" cy="717.54" r="0.85"/><circle cx="679.27" cy="712.38" r="0.85"/><circle cx="691.32" cy="707.4" r="0.85"/><circle cx="705.14" cy="703.71" r="0.85"/><circle cx="719.67" cy="700.39" r="0.85"/><circle cx="735.26" cy="698.18" r="0.85"/><circle cx="751.2" cy="697.62" r="0.85"/><circle cx="766.44" cy="697.62" r="0.85"/><circle cx="781.67" cy="699.65" r="0.85"/><circle cx="795.49" cy="701.5" r="0.85"/><circle cx="808.25" cy="705.56" r="0.85"/><circle cx="808.6" cy="706.48" r="0.85"/><circle cx="819.1" cy="709.6" r="0.85"/><circle cx="828.47" cy="713.5" r="0.85"/><circle cx="836.72" cy="716.63" r="0.85"/><circle cx="842.35" cy="719.36" r="0.85"/><circle cx="853.6" cy="727.17" r="0.85"/><circle cx="859.22" cy="731.07" r="0.85"/><circle cx="864.84" cy="734.98" r="0.85"/><circle cx="867.47" cy="738.88" r="0.85"/><circle cx="867.47" cy="752.54" r="0.85"/><circle cx="872.34" cy="757.23" r="0.85"/><circle cx="875.34" cy="769.33" r="0.85"/></g>
<path d="M603.27 772.88C604.95 771.03 609.91 765.65 613.37 761.81C616.82 757.97 620.45 753.51 624 749.82C627.54 746.13 630.49 743.21 634.63 739.68C638.76 736.14 644.08 731.84 648.8 728.61C653.52 725.38 657.95 722.92 662.97 720.31C667.99 717.7 673.6 715.09 678.92 712.93C684.23 710.78 689.55 708.88 694.86 707.4C700.18 705.92 705.49 704.94 710.81 704.08C716.12 703.22 721.44 702.76 726.75 702.24C732.07 701.71 738.86 701.19 742.7 700.94C746.54 700.7 746.24 700.61 749.78 700.76C753.33 700.91 758.94 701.31 763.96 701.87C768.98 702.42 774.59 703.16 779.9 704.08C785.22 705 790.71 706.08 795.85 707.4C800.99 708.72 805.48 709.82 810.73 712.01C815.98 714.2 821.45 717.22 827.35 720.53C833.24 723.84 839.85 727.69 846.1 731.85C852.35 736.02 859.22 741.09 864.84 745.52C870.47 749.94 876.22 755.14 879.84 758.4C883.47 761.65 885.47 763.93 886.59 765.03" fill="none" stroke="#000" stroke-width="0.78" stroke-linejoin="round" stroke-linecap="round" />
</g>
<rect x="603.5" y="651.4" width="145.2" height="121.4" fill="none" stroke="#000" stroke-width="1.1"/>
<line x1="603.5" y1="772.8" x2="603.5" y2="771" stroke="#000" stroke-width="0.7" />
<line x1="603.5" y1="772.8" x2="605.3" y2="772.8" stroke="#000" stroke-width="0.7" />
<text x="603.5" y="778.8" font-size="4" text-anchor="middle" fill="#000" >0</text>
<text x="602" y="774.2" font-size="4" text-anchor="end" fill="#000" >0</text>
<line x1="651.9" y1="772.8" x2="651.9" y2="771" stroke="#000" stroke-width="0.7" />
<line x1="603.5" y1="732.33" x2="605.3" y2="732.33" stroke="#000" stroke-width="0.7" />
<text x="651.9" y="778.8" font-size="4" text-anchor="middle" fill="#000" >1000</text>
<text x="602" y="733.73" font-size="4" text-anchor="end" fill="#000" >1000</text>
<line x1="700.3" y1="772.8" x2="700.3" y2="771" stroke="#000" stroke-width="0.7" />
<line x1="603.5" y1="691.87" x2="605.3" y2="691.87" stroke="#000" stroke-width="0.7" />
<text x="700.3" y="778.8" font-size="4" text-anchor="middle" fill="#000" >2000</text>
<text x="602" y="693.27" font-size="4" text-anchor="end" fill="#000" >2000</text>
<line x1="748.7" y1="772.8" x2="748.7" y2="771" stroke="#000" stroke-width="0.7" />
<line x1="603.5" y1="651.4" x2="605.3" y2="651.4" stroke="#000" stroke-width="0.7" />
<text x="748.7" y="778.8" font-size="4" text-anchor="middle" fill="#000" >3000</text>
<text x="602" y="652.8" font-size="4" text-anchor="end" fill="#000" >3000</text>
<text x="676.1" y="790.4" font-size="7.4" text-anchor="middle">Z'(Ω/cm<tspan font-size="4.59" dy="-2.66">2</tspan><tspan dy="2.66">)</tspan></text>
<text transform="translate(589.5 712.3) rotate(-90)" font-size="7.4" text-anchor="middle">Z''(Ω/cm<tspan font-size="4.59" dy="-2.66">2</tspan><tspan dy="2.66">)</tspan></text>
<circle cx="619" cy="665.2" r="1.0" fill="#3f3f3f"/>
<text x="626.7" y="667" font-size="5.3" text-anchor="start" fill="#000" >HR1</text>
<circle cx="619" cy="671.93" r="1.0" fill="#f03030"/>
<text x="626.7" y="673.73" font-size="5.3" text-anchor="start" fill="#000" >HR2</text>
<circle cx="619" cy="678.66" r="1.0" fill="#1860e0"/>
<text x="626.7" y="680.46" font-size="5.3" text-anchor="start" fill="#000" >HR3</text>
<circle cx="619" cy="685.39" r="1.0" fill="#2aa860"/>
<text x="626.7" y="687.19" font-size="5.3" text-anchor="start" fill="#000" >HR4</text>
<circle cx="619" cy="692.12" r="1.0" fill="#a868e0"/>
<text x="626.7" y="693.92" font-size="5.3" text-anchor="start" fill="#000" >HR5</text>
<circle cx="619" cy="698.85" r="1.0" fill="#c8960c"/>
<text x="626.7" y="700.65" font-size="5.3" text-anchor="start" fill="#000" >HR6</text>
<circle cx="619" cy="705.58" r="1.0" fill="#10c8cc"/>
<text x="626.7" y="707.38" font-size="5.3" text-anchor="start" fill="#000" >HR7</text>
<circle cx="619" cy="712.31" r="1.0" fill="#6e4040"/>
<text x="626.7" y="714.11" font-size="5.3" text-anchor="start" fill="#000" >HR8</text>
<line x1="613.1" y1="719" x2="625.4" y2="719" stroke="#000" stroke-width="0.7" />
<text x="626.7" y="720.8" font-size="5.3" text-anchor="start" fill="#000" >Fiting</text>
<line x1="820" y1="132.7" x2="941" y2="132.7" stroke="#8b0000" stroke-width="1.4" />
<line x1="947" y1="131.5" x2="1192" y2="131.5" stroke="#3a0000" stroke-width="1" />
<line x1="820" y1="392.3" x2="941" y2="392.3" stroke="#7a0000" stroke-width="1.2" />
<line x1="947" y1="392.3" x2="1064" y2="392.3" stroke="#6a0000" stroke-width="1" />
<line x1="1074" y1="391" x2="1192" y2="391" stroke="#300000" stroke-width="1" />
<path d="M864.21 116.91C863.58 115.45 861.54 112.6 861.09 109.6C860.64 106.6 861.16 105.29 861.96 101.9C862.75 98.51 863.51 96.09 865.07 92.66C866.63 89.23 867.56 87.31 869.74 84.77C871.92 82.23 873.48 81.15 875.97 79.95C878.46 78.76 879.71 78.72 882.2 78.8C884.69 78.88 886.25 79.15 888.43 80.34C890.61 81.53 891.78 82.77 893.1 84.77C894.41 86.77 894.83 88.46 895 90.35C895.17 92.24 894.97 93.07 893.96 94.2C892.96 95.33 891.09 95.24 889.98 96.01C888.88 96.78 888.46 97.03 888.43 98.05C888.39 99.07 890.09 100.36 889.81 101.13C889.53 101.9 887.8 100.82 887.04 101.9C886.28 102.98 886 103.52 886 106.52C886 109.52 889.05 115.07 887.04 116.91C885.04 118.76 880.54 115.76 875.97 115.76C871.4 115.76 866.56 116.68 864.21 116.91Z" fill="#8e8e8e" filter="url(#texBone)"/>
<path d="M864.21 116.91C863.58 115.45 861.54 112.6 861.09 109.6C860.64 106.6 861.16 105.29 861.96 101.9C862.75 98.51 863.51 96.09 865.07 92.66C866.63 89.23 867.56 87.31 869.74 84.77C871.92 82.23 873.48 81.15 875.97 79.95C878.46 78.76 879.71 78.72 882.2 78.8C884.69 78.88 886.25 79.15 888.43 80.34C890.61 81.53 891.78 82.77 893.1 84.77C894.41 86.77 894.83 88.46 895 90.35C895.17 92.24 894.97 93.07 893.96 94.2C892.96 95.33 891.09 95.24 889.98 96.01C888.88 96.78 888.46 97.03 888.43 98.05C888.39 99.07 890.09 100.36 889.81 101.13C889.53 101.9 887.8 100.82 887.04 101.9C886.28 102.98 886 103.52 886 106.52C886 109.52 889.05 115.07 887.04 116.91C885.04 118.76 880.54 115.76 875.97 115.76C871.4 115.76 866.56 116.68 864.21 116.91Z" fill="none" stroke="#b0b0b0" stroke-width="0.6" opacity="0.6"/>
<rect x="868.2" y="88.6" width="9.4" height="22.3" fill="#fff" />
<path d="M991.08 120.25C990.45 118.55 988.36 115.25 987.91 111.76C987.45 108.27 987.98 106.75 988.79 102.82C989.6 98.89 990.38 96.07 991.97 92.09C993.55 88.11 994.51 85.88 996.73 82.93C998.95 79.98 1000.54 78.73 1003.09 77.34C1005.63 75.96 1006.9 75.91 1009.44 76C1011.98 76.09 1013.57 76.4 1015.79 77.79C1018.02 79.17 1019.22 80.6 1020.56 82.93C1021.9 85.25 1022.32 87.22 1022.5 89.41C1022.68 91.6 1022.46 92.57 1021.44 93.88C1020.42 95.19 1018.51 95.09 1017.38 95.98C1016.25 96.87 1015.83 97.16 1015.79 98.35C1015.76 99.54 1017.49 101.03 1017.21 101.93C1016.92 102.82 1015.16 101.57 1014.38 102.82C1013.6 104.07 1013.32 104.7 1013.32 108.18C1013.32 111.67 1016.43 118.11 1014.38 120.25C1012.33 122.4 1007.74 118.91 1003.09 118.91C998.43 118.91 993.48 119.98 991.08 120.25Z" fill="#8e8e8e" filter="url(#texBone)"/>
<path d="M991.08 120.25C990.45 118.55 988.36 115.25 987.91 111.76C987.45 108.27 987.98 106.75 988.79 102.82C989.6 98.89 990.38 96.07 991.97 92.09C993.55 88.11 994.51 85.88 996.73 82.93C998.95 79.98 1000.54 78.73 1003.09 77.34C1005.63 75.96 1006.9 75.91 1009.44 76C1011.98 76.09 1013.57 76.4 1015.79 77.79C1018.02 79.17 1019.22 80.6 1020.56 82.93C1021.9 85.25 1022.32 87.22 1022.5 89.41C1022.68 91.6 1022.46 92.57 1021.44 93.88C1020.42 95.19 1018.51 95.09 1017.38 95.98C1016.25 96.87 1015.83 97.16 1015.79 98.35C1015.76 99.54 1017.49 101.03 1017.21 101.93C1016.92 102.82 1015.16 101.57 1014.38 102.82C1013.6 104.07 1013.32 104.7 1013.32 108.18C1013.32 111.67 1016.43 118.11 1014.38 120.25C1012.33 122.4 1007.74 118.91 1003.09 118.91C998.43 118.91 993.48 119.98 991.08 120.25Z" fill="none" stroke="#b0b0b0" stroke-width="0.6" opacity="0.6"/>
<rect x="997.2" y="92.6" width="8.1" height="22.7" fill="#fff" />
<path d="M1116.99 115.83C1116.36 114.41 1114.27 111.66 1113.81 108.76C1113.35 105.86 1113.88 104.59 1114.69 101.32C1115.51 98.05 1116.29 95.7 1117.88 92.39C1119.47 89.08 1120.43 87.22 1122.66 84.77C1124.89 82.31 1126.48 81.27 1129.03 80.12C1131.58 78.96 1132.85 78.93 1135.4 79C1137.95 79.07 1139.54 79.33 1141.77 80.49C1144 81.64 1145.21 82.83 1146.55 84.77C1147.9 86.7 1148.32 88.34 1148.5 90.16C1148.68 91.98 1148.46 92.79 1147.44 93.88C1146.41 94.97 1144.5 94.88 1143.37 95.63C1142.23 96.37 1141.81 96.61 1141.77 97.6C1141.74 98.59 1143.47 99.83 1143.19 100.58C1142.91 101.32 1141.14 100.28 1140.36 101.32C1139.58 102.36 1139.3 102.88 1139.3 105.78C1139.3 108.69 1142.41 114.04 1140.36 115.83C1138.3 117.61 1133.7 114.71 1129.03 114.71C1124.36 114.71 1119.4 115.6 1116.99 115.83Z" fill="#8e8e8e" filter="url(#texBone)"/>
<path d="M1116.99 115.83C1116.36 114.41 1114.27 111.66 1113.81 108.76C1113.35 105.86 1113.88 104.59 1114.69 101.32C1115.51 98.05 1116.29 95.7 1117.88 92.39C1119.47 89.08 1120.43 87.22 1122.66 84.77C1124.89 82.31 1126.48 81.27 1129.03 80.12C1131.58 78.96 1132.85 78.93 1135.4 79C1137.95 79.07 1139.54 79.33 1141.77 80.49C1144 81.64 1145.21 82.83 1146.55 84.77C1147.9 86.7 1148.32 88.34 1148.5 90.16C1148.68 91.98 1148.46 92.79 1147.44 93.88C1146.41 94.97 1144.5 94.88 1143.37 95.63C1142.23 96.37 1141.81 96.61 1141.77 97.6C1141.74 98.59 1143.47 99.83 1143.19 100.58C1142.91 101.32 1141.14 100.28 1140.36 101.32C1139.58 102.36 1139.3 102.88 1139.3 105.78C1139.3 108.69 1142.41 114.04 1140.36 115.83C1138.3 117.61 1133.7 114.71 1129.03 114.71C1124.36 114.71 1119.4 115.6 1116.99 115.83Z" fill="none" stroke="#b0b0b0" stroke-width="0.6" opacity="0.6"/>
<rect x="1124" y="87.2" width="8.2" height="23.5" fill="#fff" />
<path d="M866.21 380.2C864.61 377.92 858.93 372.94 858.2 368.81C857.47 364.68 860.38 362.83 862.57 359.55C864.75 356.28 866.72 354.57 869.12 352.43C871.52 350.3 873.12 350.3 874.58 348.87C876.04 347.45 874.43 346.17 876.4 345.31C878.37 344.46 881.35 344.03 884.41 344.6C887.47 345.17 889.65 346.02 891.69 348.16C893.73 350.3 895.04 353.43 894.6 355.28C894.16 357.13 891.4 356.56 889.5 357.42C887.61 358.27 886.88 357.7 885.14 359.55C883.39 361.4 881.2 362.76 880.77 366.67C880.33 370.59 884.19 377 882.95 379.13C881.71 381.27 877.93 377.14 874.58 377.35C871.23 377.57 867.88 379.63 866.21 380.2Z" fill="#8e8e8e" filter="url(#texBone)"/>
<path d="M866.21 380.2C864.61 377.92 858.93 372.94 858.2 368.81C857.47 364.68 860.38 362.83 862.57 359.55C864.75 356.28 866.72 354.57 869.12 352.43C871.52 350.3 873.12 350.3 874.58 348.87C876.04 347.45 874.43 346.17 876.4 345.31C878.37 344.46 881.35 344.03 884.41 344.6C887.47 345.17 889.65 346.02 891.69 348.16C893.73 350.3 895.04 353.43 894.6 355.28C894.16 357.13 891.4 356.56 889.5 357.42C887.61 358.27 886.88 357.7 885.14 359.55C883.39 361.4 881.2 362.76 880.77 366.67C880.33 370.59 884.19 377 882.95 379.13C881.71 381.27 877.93 377.14 874.58 377.35C871.23 377.57 867.88 379.63 866.21 380.2Z" fill="none" stroke="#b0b0b0" stroke-width="0.6" opacity="0.6"/>
<rect x="869.4" y="352.2" width="8.4" height="25.2" fill="#fff" />
<path d="M989.4 382.55C988.79 380.85 986.81 377.53 986.37 374.04C985.94 370.55 986.44 369.02 987.21 365.08C987.98 361.14 988.72 358.32 990.24 354.33C991.75 350.34 992.66 348.1 994.77 345.14C996.89 342.19 998.4 340.93 1000.82 339.54C1003.24 338.16 1004.45 338.11 1006.87 338.2C1009.29 338.29 1010.8 338.6 1012.92 339.99C1015.03 341.38 1016.18 342.81 1017.45 345.14C1018.73 347.47 1019.13 349.44 1019.3 351.64C1019.47 353.84 1019.27 354.8 1018.29 356.12C1017.32 357.44 1015.5 357.33 1014.43 358.23C1013.35 359.12 1012.95 359.41 1012.92 360.6C1012.88 361.79 1014.53 363.29 1014.26 364.18C1013.99 365.08 1012.31 363.83 1011.57 365.08C1010.83 366.33 1010.56 366.96 1010.56 370.46C1010.56 373.95 1013.52 380.4 1011.57 382.55C1009.62 384.7 1005.26 381.21 1000.82 381.21C996.38 381.21 991.68 382.28 989.4 382.55Z" fill="#8e8e8e" filter="url(#texBone)"/>
<path d="M989.4 382.55C988.79 380.85 986.81 377.53 986.37 374.04C985.94 370.55 986.44 369.02 987.21 365.08C987.98 361.14 988.72 358.32 990.24 354.33C991.75 350.34 992.66 348.1 994.77 345.14C996.89 342.19 998.4 340.93 1000.82 339.54C1003.24 338.16 1004.45 338.11 1006.87 338.2C1009.29 338.29 1010.8 338.6 1012.92 339.99C1015.03 341.38 1016.18 342.81 1017.45 345.14C1018.73 347.47 1019.13 349.44 1019.3 351.64C1019.47 353.84 1019.27 354.8 1018.29 356.12C1017.32 357.44 1015.5 357.33 1014.43 358.23C1013.35 359.12 1012.95 359.41 1012.92 360.6C1012.88 361.79 1014.53 363.29 1014.26 364.18C1013.99 365.08 1012.31 363.83 1011.57 365.08C1010.83 366.33 1010.56 366.96 1010.56 370.46C1010.56 373.95 1013.52 380.4 1011.57 382.55C1009.62 384.7 1005.26 381.21 1000.82 381.21C996.38 381.21 991.68 382.28 989.4 382.55Z" fill="none" stroke="#b0b0b0" stroke-width="0.6" opacity="0.6"/>
<rect x="994.9" y="350.8" width="8.4" height="25.2" fill="#fff" />
<path d="M1123.24 378.3C1122.83 374.67 1122.13 365.9 1121.22 360.17C1120.31 354.45 1118.8 353.5 1118.7 349.68C1118.6 345.86 1118.7 343.96 1120.72 341.09C1122.73 338.23 1126.56 337.47 1128.78 335.37C1131 333.27 1130.49 331.36 1131.8 330.6C1133.11 329.84 1133.92 330.03 1135.33 331.55C1136.74 333.08 1137.15 335.18 1138.86 338.23C1140.57 341.28 1143.7 344.34 1143.9 346.82C1144.1 349.3 1140.88 347.96 1139.87 350.63C1138.86 353.31 1138.76 354.64 1138.86 360.17C1138.96 365.71 1141.88 374.96 1140.37 378.3C1138.86 381.64 1134.73 376.87 1131.3 376.87C1127.87 376.87 1124.85 378.01 1123.24 378.3Z" fill="#8e8e8e" filter="url(#texBone)"/>
<path d="M1123.24 378.3C1122.83 374.67 1122.13 365.9 1121.22 360.17C1120.31 354.45 1118.8 353.5 1118.7 349.68C1118.6 345.86 1118.7 343.96 1120.72 341.09C1122.73 338.23 1126.56 337.47 1128.78 335.37C1131 333.27 1130.49 331.36 1131.8 330.6C1133.11 329.84 1133.92 330.03 1135.33 331.55C1136.74 333.08 1137.15 335.18 1138.86 338.23C1140.57 341.28 1143.7 344.34 1143.9 346.82C1144.1 349.3 1140.88 347.96 1139.87 350.63C1138.86 353.31 1138.76 354.64 1138.86 360.17C1138.96 365.71 1141.88 374.96 1140.37 378.3C1138.86 381.64 1134.73 376.87 1131.3 376.87C1127.87 376.87 1124.85 378.01 1123.24 378.3Z" fill="none" stroke="#b0b0b0" stroke-width="0.6" opacity="0.6"/>
<rect x="1126.3" y="346.6" width="8.4" height="26.6" rx="3.5" fill="#fff"/>
<rect x="1126.3" y="351.6" width="8.4" height="21.6" fill="#fff" />
<path d="M866 156.6 Q878.5 155.2 891 156.6 L891 205.7 Q878.5 208.7 866 205.7 Z" fill="url(#yelG)" filter="url(#texYel)"/>
<path d="M990.4 154.6 Q1003 153.2 1015.6 154.6 L1015.6 203.5 Q1003 206.5 990.4 203.5 Z" fill="url(#yelG)" filter="url(#texYel)"/>
<path d="M1116.8 156.6 Q1130.65 155.2 1144.5 156.6 L1144.5 209.9 Q1130.65 212.9 1116.8 209.9 Z" fill="url(#yelG)" filter="url(#texYel)"/>
<path d="M865.5 413.9 Q878.75 412.5 892 413.9 L892 464.9 Q878.75 467.9 865.5 464.9 Z" fill="url(#yelG)" filter="url(#texYel)"/>
<path d="M988.9 412 Q1003.1 410.6 1017.3 412 L1017.3 468.5 Q1003.1 471.5 988.9 468.5 Z" fill="url(#yelG)" filter="url(#texYel)"/>
<path d="M1113.4 408.3 Q1129.3 406.9 1145.2 408.3 L1145.2 471.3 Q1129.3 474.3 1113.4 471.3 Z" fill="url(#yelG)" filter="url(#texYel)"/>
<path d="M874 418 l6 3 l3 8 l-2 10 l-5 6 l-3 -9 l2 -8 z" fill="#b8b8a0" opacity="0.8"/>
<path d="M1000 424 l7 -3 l4 10 l-1 22 l-8 8 l-3 -12 l3 -12 z" fill="#b0b0a0" opacity="0.85"/>
<path d="M1115.5 438 l5 2 l2 30 l-6 2 z" fill="#d8d8d8"/>
<path d="M1113.4 409 q16 -3 31.8 0 l0 3 q-16 -3 -31.8 0z" fill="#e4e090"/>
<path d="M868 247.6 Q879.5 246.2 891 247.6 L891 298.9 Q879.5 304.9 868 298.9 Z" fill="url(#cylG1)" filter="url(#texGray)"/>
<path d="M992.1 249 Q1001.75 247.6 1011.4 249 L1011.4 295.3 Q1001.75 301.3 992.1 295.3 Z" fill="url(#cylG2)" filter="url(#texGray)"/>
<path d="M1118.7 249.8 Q1129.5 248.4 1140.3 249.8 L1140.3 300.9 Q1129.5 306.9 1118.7 300.9 Z" fill="url(#cylG3)"/>
<path d="M868.5 510 Q879.25 508.6 890 510 L890 560.6 Q879.25 566.6 868.5 560.6 Z" fill="url(#cylG4)" filter="url(#texGray)"/>
<path d="M992.6 509.3 Q1003.45 507.9 1014.3 509.3 L1014.3 561.8 Q1003.45 567.8 992.6 561.8 Z" fill="url(#cylG5)" filter="url(#texGray)"/>
<path d="M1117 505.6 Q1129.6 504.2 1142.2 505.6 L1142.2 565.3 Q1129.6 573.3 1117 565.3 Z" fill="url(#cylG6)" filter="url(#texGray)"/>
<rect x="820" y="62.5" width="121" height="256.3" fill="none" stroke="#900000" stroke-width="0.7"/>
<g fill="#ff0000"><rect x="819.75" y="61" width="10" height="3"/><rect x="833" y="61" width="10" height="3"/><rect x="846.25" y="61" width="10" height="3"/><rect x="859.5" y="61" width="10" height="3"/><rect x="872.75" y="61" width="10" height="3"/><rect x="886" y="61" width="10" height="3"/><rect x="899.25" y="61" width="10" height="3"/><rect x="912.5" y="61" width="10" height="3"/><rect x="925.75" y="61" width="10" height="3"/><rect x="939" y="61" width="3.95" height="3"/></g>
<g fill="#ff0000"><rect x="819.75" y="317.3" width="10" height="3"/><rect x="833" y="317.3" width="10" height="3"/><rect x="846.25" y="317.3" width="10" height="3"/><rect x="859.5" y="317.3" width="10" height="3"/><rect x="872.75" y="317.3" width="10" height="3"/><rect x="886" y="317.3" width="10" height="3"/><rect x="899.25" y="317.3" width="10" height="3"/><rect x="912.5" y="317.3" width="10" height="3"/><rect x="925.75" y="317.3" width="10" height="3"/><rect x="939" y="317.3" width="3.95" height="3"/></g>
<g fill="#ff0000"><rect x="818.05" y="61" width="3.9" height="1.75"/><rect x="818.05" y="66" width="3.9" height="10"/><rect x="818.05" y="79.25" width="3.9" height="10"/><rect x="818.05" y="92.5" width="3.9" height="10"/><rect x="818.05" y="105.75" width="3.9" height="10"/><rect x="818.05" y="119" width="3.9" height="10"/><rect x="818.05" y="132.25" width="3.9" height="10"/><rect x="818.05" y="145.5" width="3.9" height="10"/><rect x="818.05" y="158.75" width="3.9" height="10"/><rect x="818.05" y="172" width="3.9" height="10"/><rect x="818.05" y="185.25" width="3.9" height="10"/><rect x="818.05" y="198.5" width="3.9" height="10"/><rect x="818.05" y="211.75" width="3.9" height="10"/><rect x="818.05" y="225" width="3.9" height="10"/><rect x="818.05" y="238.25" width="3.9" height="10"/><rect x="818.05" y="251.5" width="3.9" height="10"/><rect x="818.05" y="264.75" width="3.9" height="10"/><rect x="818.05" y="278" width="3.9" height="10"/><rect x="818.05" y="291.25" width="3.9" height="10"/><rect x="818.05" y="304.5" width="3.9" height="10"/><rect x="818.05" y="317.75" width="3.9" height="2.55"/></g>
<g fill="#ff0000"><rect x="939.05" y="61" width="3.9" height="1.75"/><rect x="939.05" y="66" width="3.9" height="10"/><rect x="939.05" y="79.25" width="3.9" height="10"/><rect x="939.05" y="92.5" width="3.9" height="10"/><rect x="939.05" y="105.75" width="3.9" height="10"/><rect x="939.05" y="119" width="3.9" height="10"/><rect x="939.05" y="132.25" width="3.9" height="10"/><rect x="939.05" y="145.5" width="3.9" height="10"/><rect x="939.05" y="158.75" width="3.9" height="10"/><rect x="939.05" y="172" width="3.9" height="10"/><rect x="939.05" y="185.25" width="3.9" height="10"/><rect x="939.05" y="198.5" width="3.9" height="10"/><rect x="939.05" y="211.75" width="3.9" height="10"/><rect x="939.05" y="225" width="3.9" height="10"/><rect x="939.05" y="238.25" width="3.9" height="10"/><rect x="939.05" y="251.5" width="3.9" height="10"/><rect x="939.05" y="264.75" width="3.9" height="10"/><rect x="939.05" y="278" width="3.9" height="10"/><rect x="939.05" y="291.25" width="3.9" height="10"/><rect x="939.05" y="304.5" width="3.9" height="10"/><rect x="939.05" y="317.75" width="3.9" height="2.55"/></g>
<rect x="945.1" y="60.8" width="121.1" height="256.2" fill="none" stroke="#900000" stroke-width="0.7"/>
<g fill="#0b70c8"><rect x="943.05" y="58.85" width="5.7" height="3.9"/><rect x="952" y="58.85" width="10" height="3.9"/><rect x="965.25" y="58.85" width="10" height="3.9"/><rect x="978.5" y="58.85" width="10" height="3.9"/><rect x="991.75" y="58.85" width="10" height="3.9"/><rect x="1005" y="58.85" width="10" height="3.9"/><rect x="1018.25" y="58.85" width="10" height="3.9"/><rect x="1031.5" y="58.85" width="10" height="3.9"/><rect x="1044.75" y="58.85" width="10" height="3.9"/><rect x="1058" y="58.85" width="10" height="3.9"/></g>
<g fill="#0b70c8"><rect x="943.05" y="315.05" width="5.7" height="3.9"/><rect x="952" y="315.05" width="10" height="3.9"/><rect x="965.25" y="315.05" width="10" height="3.9"/><rect x="978.5" y="315.05" width="10" height="3.9"/><rect x="991.75" y="315.05" width="10" height="3.9"/><rect x="1005" y="315.05" width="10" height="3.9"/><rect x="1018.25" y="315.05" width="10" height="3.9"/><rect x="1031.5" y="315.05" width="10" height="3.9"/><rect x="1044.75" y="315.05" width="10" height="3.9"/><rect x="1058" y="315.05" width="10" height="3.9"/></g>
<g fill="#0b70c8"><rect x="943.05" y="58.85" width="4.1" height="3.9"/><rect x="943.05" y="66" width="4.1" height="10"/><rect x="943.05" y="79.25" width="4.1" height="10"/><rect x="943.05" y="92.5" width="4.1" height="10"/><rect x="943.05" y="105.75" width="4.1" height="10"/><rect x="943.05" y="119" width="4.1" height="10"/><rect x="943.05" y="132.25" width="4.1" height="10"/><rect x="943.05" y="145.5" width="4.1" height="10"/><rect x="943.05" y="158.75" width="4.1" height="10"/><rect x="943.05" y="172" width="4.1" height="10"/><rect x="943.05" y="185.25" width="4.1" height="10"/><rect x="943.05" y="198.5" width="4.1" height="10"/><rect x="943.05" y="211.75" width="4.1" height="10"/><rect x="943.05" y="225" width="4.1" height="10"/><rect x="943.05" y="238.25" width="4.1" height="10"/><rect x="943.05" y="251.5" width="4.1" height="10"/><rect x="943.05" y="264.75" width="4.1" height="10"/><rect x="943.05" y="278" width="4.1" height="10"/><rect x="943.05" y="291.25" width="4.1" height="10"/><rect x="943.05" y="304.5" width="4.1" height="10"/><rect x="943.05" y="317.75" width="4.1" height="1.2"/></g>
<g fill="#0b70c8"><rect x="1064.15" y="58.85" width="4.1" height="3.9"/><rect x="1064.15" y="66" width="4.1" height="10"/><rect x="1064.15" y="79.25" width="4.1" height="10"/><rect x="1064.15" y="92.5" width="4.1" height="10"/><rect x="1064.15" y="105.75" width="4.1" height="10"/><rect x="1064.15" y="119" width="4.1" height="10"/><rect x="1064.15" y="132.25" width="4.1" height="10"/><rect x="1064.15" y="145.5" width="4.1" height="10"/><rect x="1064.15" y="158.75" width="4.1" height="10"/><rect x="1064.15" y="172" width="4.1" height="10"/><rect x="1064.15" y="185.25" width="4.1" height="10"/><rect x="1064.15" y="198.5" width="4.1" height="10"/><rect x="1064.15" y="211.75" width="4.1" height="10"/><rect x="1064.15" y="225" width="4.1" height="10"/><rect x="1064.15" y="238.25" width="4.1" height="10"/><rect x="1064.15" y="251.5" width="4.1" height="10"/><rect x="1064.15" y="264.75" width="4.1" height="10"/><rect x="1064.15" y="278" width="4.1" height="10"/><rect x="1064.15" y="291.25" width="4.1" height="10"/><rect x="1064.15" y="304.5" width="4.1" height="10"/><rect x="1064.15" y="317.75" width="4.1" height="1.2"/></g>
<rect x="1072" y="63" width="120.4" height="256.4" fill="none" stroke="#900000" stroke-width="0.7"/>
<g fill="#7030a0"><rect x="1070.35" y="61.15" width="1.9" height="3.7"/><rect x="1075.5" y="61.15" width="10" height="3.7"/><rect x="1088.75" y="61.15" width="10" height="3.7"/><rect x="1102" y="61.15" width="10" height="3.7"/><rect x="1115.25" y="61.15" width="10" height="3.7"/><rect x="1128.5" y="61.15" width="10" height="3.7"/><rect x="1141.75" y="61.15" width="10" height="3.7"/><rect x="1155" y="61.15" width="10" height="3.7"/><rect x="1168.25" y="61.15" width="10" height="3.7"/><rect x="1181.5" y="61.15" width="10" height="3.7"/></g>
<g fill="#7030a0"><rect x="1070.35" y="317.55" width="1.9" height="3.7"/><rect x="1075.5" y="317.55" width="10" height="3.7"/><rect x="1088.75" y="317.55" width="10" height="3.7"/><rect x="1102" y="317.55" width="10" height="3.7"/><rect x="1115.25" y="317.55" width="10" height="3.7"/><rect x="1128.5" y="317.55" width="10" height="3.7"/><rect x="1141.75" y="317.55" width="10" height="3.7"/><rect x="1155" y="317.55" width="10" height="3.7"/><rect x="1168.25" y="317.55" width="10" height="3.7"/><rect x="1181.5" y="317.55" width="10" height="3.7"/></g>
<g fill="#7030a0"><rect x="1070.35" y="61.15" width="3.3" height="5.6"/><rect x="1070.35" y="70" width="3.3" height="10"/><rect x="1070.35" y="83.25" width="3.3" height="10"/><rect x="1070.35" y="96.5" width="3.3" height="10"/><rect x="1070.35" y="109.75" width="3.3" height="10"/><rect x="1070.35" y="123" width="3.3" height="10"/><rect x="1070.35" y="136.25" width="3.3" height="10"/><rect x="1070.35" y="149.5" width="3.3" height="10"/><rect x="1070.35" y="162.75" width="3.3" height="10"/><rect x="1070.35" y="176" width="3.3" height="10"/><rect x="1070.35" y="189.25" width="3.3" height="10"/><rect x="1070.35" y="202.5" width="3.3" height="10"/><rect x="1070.35" y="215.75" width="3.3" height="10"/><rect x="1070.35" y="229" width="3.3" height="10"/><rect x="1070.35" y="242.25" width="3.3" height="10"/><rect x="1070.35" y="255.5" width="3.3" height="10"/><rect x="1070.35" y="268.75" width="3.3" height="10"/><rect x="1070.35" y="282" width="3.3" height="10"/><rect x="1070.35" y="295.25" width="3.3" height="10"/><rect x="1070.35" y="308.5" width="3.3" height="10"/></g>
<g fill="#7030a0"><rect x="1190.75" y="61.15" width="3.3" height="5.6"/><rect x="1190.75" y="70" width="3.3" height="10"/><rect x="1190.75" y="83.25" width="3.3" height="10"/><rect x="1190.75" y="96.5" width="3.3" height="10"/><rect x="1190.75" y="109.75" width="3.3" height="10"/><rect x="1190.75" y="123" width="3.3" height="10"/><rect x="1190.75" y="136.25" width="3.3" height="10"/><rect x="1190.75" y="149.5" width="3.3" height="10"/><rect x="1190.75" y="162.75" width="3.3" height="10"/><rect x="1190.75" y="176" width="3.3" height="10"/><rect x="1190.75" y="189.25" width="3.3" height="10"/><rect x="1190.75" y="202.5" width="3.3" height="10"/><rect x="1190.75" y="215.75" width="3.3" height="10"/><rect x="1190.75" y="229" width="3.3" height="10"/><rect x="1190.75" y="242.25" width="3.3" height="10"/><rect x="1190.75" y="255.5" width="3.3" height="10"/><rect x="1190.75" y="268.75" width="3.3" height="10"/><rect x="1190.75" y="282" width="3.3" height="10"/><rect x="1190.75" y="295.25" width="3.3" height="10"/><rect x="1190.75" y="308.5" width="3.3" height="10"/></g>
<rect x="820" y="323.8" width="121" height="255.2" fill="none" stroke="#900000" stroke-width="0.7"/>
<g fill="#ff0000"><rect x="819.75" y="322.3" width="10" height="3"/><rect x="833" y="322.3" width="10" height="3"/><rect x="846.25" y="322.3" width="10" height="3"/><rect x="859.5" y="322.3" width="10" height="3"/><rect x="872.75" y="322.3" width="10" height="3"/><rect x="886" y="322.3" width="10" height="3"/><rect x="899.25" y="322.3" width="10" height="3"/><rect x="912.5" y="322.3" width="10" height="3"/><rect x="925.75" y="322.3" width="10" height="3"/><rect x="939" y="322.3" width="3.95" height="3"/></g>
<g fill="#ff0000"><rect x="819.75" y="577.5" width="10" height="3"/><rect x="833" y="577.5" width="10" height="3"/><rect x="846.25" y="577.5" width="10" height="3"/><rect x="859.5" y="577.5" width="10" height="3"/><rect x="872.75" y="577.5" width="10" height="3"/><rect x="886" y="577.5" width="10" height="3"/><rect x="899.25" y="577.5" width="10" height="3"/><rect x="912.5" y="577.5" width="10" height="3"/><rect x="925.75" y="577.5" width="10" height="3"/><rect x="939" y="577.5" width="3.95" height="3"/></g>
<g fill="#ff0000"><rect x="818.05" y="322.3" width="3.9" height="4.45"/><rect x="818.05" y="330" width="3.9" height="10"/><rect x="818.05" y="343.25" width="3.9" height="10"/><rect x="818.05" y="356.5" width="3.9" height="10"/><rect x="818.05" y="369.75" width="3.9" height="10"/><rect x="818.05" y="383" width="3.9" height="10"/><rect x="818.05" y="396.25" width="3.9" height="10"/><rect x="818.05" y="409.5" width="3.9" height="10"/><rect x="818.05" y="422.75" width="3.9" height="10"/><rect x="818.05" y="436" width="3.9" height="10"/><rect x="818.05" y="449.25" width="3.9" height="10"/><rect x="818.05" y="462.5" width="3.9" height="10"/><rect x="818.05" y="475.75" width="3.9" height="10"/><rect x="818.05" y="489" width="3.9" height="10"/><rect x="818.05" y="502.25" width="3.9" height="10"/><rect x="818.05" y="515.5" width="3.9" height="10"/><rect x="818.05" y="528.75" width="3.9" height="10"/><rect x="818.05" y="542" width="3.9" height="10"/><rect x="818.05" y="555.25" width="3.9" height="10"/><rect x="818.05" y="568.5" width="3.9" height="10"/></g>
<g fill="#ff0000"><rect x="939.05" y="322.3" width="3.9" height="4.45"/><rect x="939.05" y="330" width="3.9" height="10"/><rect x="939.05" y="343.25" width="3.9" height="10"/><rect x="939.05" y="356.5" width="3.9" height="10"/><rect x="939.05" y="369.75" width="3.9" height="10"/><rect x="939.05" y="383" width="3.9" height="10"/><rect x="939.05" y="396.25" width="3.9" height="10"/><rect x="939.05" y="409.5" width="3.9" height="10"/><rect x="939.05" y="422.75" width="3.9" height="10"/><rect x="939.05" y="436" width="3.9" height="10"/><rect x="939.05" y="449.25" width="3.9" height="10"/><rect x="939.05" y="462.5" width="3.9" height="10"/><rect x="939.05" y="475.75" width="3.9" height="10"/><rect x="939.05" y="489" width="3.9" height="10"/><rect x="939.05" y="502.25" width="3.9" height="10"/><rect x="939.05" y="515.5" width="3.9" height="10"/><rect x="939.05" y="528.75" width="3.9" height="10"/><rect x="939.05" y="542" width="3.9" height="10"/><rect x="939.05" y="555.25" width="3.9" height="10"/><rect x="939.05" y="568.5" width="3.9" height="10"/></g>
<rect x="945.1" y="325.2" width="121.1" height="253.8" fill="none" stroke="#900000" stroke-width="0.7"/>
<g fill="#0b70c8"><rect x="943.05" y="323.25" width="5.7" height="3.9"/><rect x="952" y="323.25" width="10" height="3.9"/><rect x="965.25" y="323.25" width="10" height="3.9"/><rect x="978.5" y="323.25" width="10" height="3.9"/><rect x="991.75" y="323.25" width="10" height="3.9"/><rect x="1005" y="323.25" width="10" height="3.9"/><rect x="1018.25" y="323.25" width="10" height="3.9"/><rect x="1031.5" y="323.25" width="10" height="3.9"/><rect x="1044.75" y="323.25" width="10" height="3.9"/><rect x="1058" y="323.25" width="10" height="3.9"/></g>
<g fill="#0b70c8"><rect x="943.05" y="577.05" width="5.7" height="3.9"/><rect x="952" y="577.05" width="10" height="3.9"/><rect x="965.25" y="577.05" width="10" height="3.9"/><rect x="978.5" y="577.05" width="10" height="3.9"/><rect x="991.75" y="577.05" width="10" height="3.9"/><rect x="1005" y="577.05" width="10" height="3.9"/><rect x="1018.25" y="577.05" width="10" height="3.9"/><rect x="1031.5" y="577.05" width="10" height="3.9"/><rect x="1044.75" y="577.05" width="10" height="3.9"/><rect x="1058" y="577.05" width="10" height="3.9"/></g>
<g fill="#0b70c8"><rect x="943.05" y="323.25" width="4.1" height="3.5"/><rect x="943.05" y="330" width="4.1" height="10"/><rect x="943.05" y="343.25" width="4.1" height="10"/><rect x="943.05" y="356.5" width="4.1" height="10"/><rect x="943.05" y="369.75" width="4.1" height="10"/><rect x="943.05" y="383" width="4.1" height="10"/><rect x="943.05" y="396.25" width="4.1" height="10"/><rect x="943.05" y="409.5" width="4.1" height="10"/><rect x="943.05" y="422.75" width="4.1" height="10"/><rect x="943.05" y="436" width="4.1" height="10"/><rect x="943.05" y="449.25" width="4.1" height="10"/><rect x="943.05" y="462.5" width="4.1" height="10"/><rect x="943.05" y="475.75" width="4.1" height="10"/><rect x="943.05" y="489" width="4.1" height="10"/><rect x="943.05" y="502.25" width="4.1" height="10"/><rect x="943.05" y="515.5" width="4.1" height="10"/><rect x="943.05" y="528.75" width="4.1" height="10"/><rect x="943.05" y="542" width="4.1" height="10"/><rect x="943.05" y="555.25" width="4.1" height="10"/><rect x="943.05" y="568.5" width="4.1" height="10"/></g>
<g fill="#0b70c8"><rect x="1064.15" y="323.25" width="4.1" height="3.5"/><rect x="1064.15" y="330" width="4.1" height="10"/><rect x="1064.15" y="343.25" width="4.1" height="10"/><rect x="1064.15" y="356.5" width="4.1" height="10"/><rect x="1064.15" y="369.75" width="4.1" height="10"/><rect x="1064.15" y="383" width="4.1" height="10"/><rect x="1064.15" y="396.25" width="4.1" height="10"/><rect x="1064.15" y="409.5" width="4.1" height="10"/><rect x="1064.15" y="422.75" width="4.1" height="10"/><rect x="1064.15" y="436" width="4.1" height="10"/><rect x="1064.15" y="449.25" width="4.1" height="10"/><rect x="1064.15" y="462.5" width="4.1" height="10"/><rect x="1064.15" y="475.75" width="4.1" height="10"/><rect x="1064.15" y="489" width="4.1" height="10"/><rect x="1064.15" y="502.25" width="4.1" height="10"/><rect x="1064.15" y="515.5" width="4.1" height="10"/><rect x="1064.15" y="528.75" width="4.1" height="10"/><rect x="1064.15" y="542" width="4.1" height="10"/><rect x="1064.15" y="555.25" width="4.1" height="10"/><rect x="1064.15" y="568.5" width="4.1" height="10"/></g>
<rect x="1072" y="324.3" width="120.4" height="254.9" fill="none" stroke="#900000" stroke-width="0.7"/>
<g fill="#7030a0"><rect x="1070.35" y="322.45" width="1.9" height="3.7"/><rect x="1075.5" y="322.45" width="10" height="3.7"/><rect x="1088.75" y="322.45" width="10" height="3.7"/><rect x="1102" y="322.45" width="10" height="3.7"/><rect x="1115.25" y="322.45" width="10" height="3.7"/><rect x="1128.5" y="322.45" width="10" height="3.7"/><rect x="1141.75" y="322.45" width="10" height="3.7"/><rect x="1155" y="322.45" width="10" height="3.7"/><rect x="1168.25" y="322.45" width="10" height="3.7"/><rect x="1181.5" y="322.45" width="10" height="3.7"/></g>
<g fill="#7030a0"><rect x="1070.35" y="577.35" width="1.9" height="3.7"/><rect x="1075.5" y="577.35" width="10" height="3.7"/><rect x="1088.75" y="577.35" width="10" height="3.7"/><rect x="1102" y="577.35" width="10" height="3.7"/><rect x="1115.25" y="577.35" width="10" height="3.7"/><rect x="1128.5" y="577.35" width="10" height="3.7"/><rect x="1141.75" y="577.35" width="10" height="3.7"/><rect x="1155" y="577.35" width="10" height="3.7"/><rect x="1168.25" y="577.35" width="10" height="3.7"/><rect x="1181.5" y="577.35" width="10" height="3.7"/></g>
<g fill="#7030a0"><rect x="1070.35" y="322.45" width="3.3" height="4.3"/><rect x="1070.35" y="330" width="3.3" height="10"/><rect x="1070.35" y="343.25" width="3.3" height="10"/><rect x="1070.35" y="356.5" width="3.3" height="10"/><rect x="1070.35" y="369.75" width="3.3" height="10"/><rect x="1070.35" y="383" width="3.3" height="10"/><rect x="1070.35" y="396.25" width="3.3" height="10"/><rect x="1070.35" y="409.5" width="3.3" height="10"/><rect x="1070.35" y="422.75" width="3.3" height="10"/><rect x="1070.35" y="436" width="3.3" height="10"/><rect x="1070.35" y="449.25" width="3.3" height="10"/><rect x="1070.35" y="462.5" width="3.3" height="10"/><rect x="1070.35" y="475.75" width="3.3" height="10"/><rect x="1070.35" y="489" width="3.3" height="10"/><rect x="1070.35" y="502.25" width="3.3" height="10"/><rect x="1070.35" y="515.5" width="3.3" height="10"/><rect x="1070.35" y="528.75" width="3.3" height="10"/><rect x="1070.35" y="542" width="3.3" height="10"/><rect x="1070.35" y="555.25" width="3.3" height="10"/><rect x="1070.35" y="568.5" width="3.3" height="10"/></g>
<g fill="#7030a0"><rect x="1190.75" y="322.45" width="3.3" height="4.3"/><rect x="1190.75" y="330" width="3.3" height="10"/><rect x="1190.75" y="343.25" width="3.3" height="10"/><rect x="1190.75" y="356.5" width="3.3" height="10"/><rect x="1190.75" y="369.75" width="3.3" height="10"/><rect x="1190.75" y="383" width="3.3" height="10"/><rect x="1190.75" y="396.25" width="3.3" height="10"/><rect x="1190.75" y="409.5" width="3.3" height="10"/><rect x="1190.75" y="422.75" width="3.3" height="10"/><rect x="1190.75" y="436" width="3.3" height="10"/><rect x="1190.75" y="449.25" width="3.3" height="10"/><rect x="1190.75" y="462.5" width="3.3" height="10"/><rect x="1190.75" y="475.75" width="3.3" height="10"/><rect x="1190.75" y="489" width="3.3" height="10"/><rect x="1190.75" y="502.25" width="3.3" height="10"/><rect x="1190.75" y="515.5" width="3.3" height="10"/><rect x="1190.75" y="528.75" width="3.3" height="10"/><rect x="1190.75" y="542" width="3.3" height="10"/><rect x="1190.75" y="555.25" width="3.3" height="10"/><rect x="1190.75" y="568.5" width="3.3" height="10"/></g>
<rect x="776.8" y="607" width="211.2" height="168.4" fill="#fff" />
<rect x="992.3" y="607" width="217.2" height="168.4" fill="#fff" />
<rect x="776.8" y="778.6" width="214.2" height="167.4" fill="#fff" />
<rect x="992" y="778.6" width="217.5" height="167.4" fill="#fff" />
<rect x="811.9" y="692.09" width="14" height="70.01" fill="url(#gTeal)"/>
<line x1="818.9" y1="692.09" x2="818.9" y2="689.12" stroke="#333" stroke-width="0.9" />
<line x1="817.3" y1="689.12" x2="820.5" y2="689.12" stroke="#333" stroke-width="0.9" />
<text x="815.9" y="685.12" font-size="4.66" text-anchor="middle" fill="#000"  textLength="18" lengthAdjust="spacingAndGlyphs">*p&lt;0.05</text>
<rect x="825.9" y="671.73" width="14" height="90.37" fill="url(#gSalmon)"/>
<line x1="832.9" y1="671.73" x2="832.9" y2="669.18" stroke="#333" stroke-width="0.9" />
<line x1="831.3" y1="669.18" x2="834.5" y2="669.18" stroke="#333" stroke-width="0.9" />
<text x="833.9" y="665.18" font-size="4.66" text-anchor="middle" fill="#000"  textLength="18" lengthAdjust="spacingAndGlyphs">*p&lt;0.05</text>
<rect x="857.8" y="701.22" width="14" height="60.88" fill="url(#gTeal)"/>
<line x1="864.8" y1="701.22" x2="864.8" y2="697.18" stroke="#333" stroke-width="0.9" />
<line x1="863.2" y1="697.18" x2="866.4" y2="697.18" stroke="#333" stroke-width="0.9" />
<text x="860.8" y="693.18" font-size="4.66" text-anchor="middle" fill="#000"  textLength="18" lengthAdjust="spacingAndGlyphs">*p&lt;0.05</text>
<rect x="871.8" y="681.91" width="14" height="80.19" fill="url(#gSalmon)"/>
<line x1="878.8" y1="681.91" x2="878.8" y2="676.39" stroke="#333" stroke-width="0.9" />
<line x1="877.2" y1="676.39" x2="880.4" y2="676.39" stroke="#333" stroke-width="0.9" />
<text x="879.8" y="672.39" font-size="4.66" text-anchor="middle" fill="#000"  textLength="18" lengthAdjust="spacingAndGlyphs">*p&lt;0.05</text>
<rect x="904.1" y="698.2" width="14" height="63.9" fill="url(#gTeal)"/>
<line x1="911.1" y1="698.2" x2="911.1" y2="695.23" stroke="#333" stroke-width="0.9" />
<line x1="909.5" y1="695.23" x2="912.7" y2="695.23" stroke="#333" stroke-width="0.9" />
<text x="907.1" y="691.23" font-size="4.66" text-anchor="middle" fill="#000"  textLength="18" lengthAdjust="spacingAndGlyphs">*p&lt;0.05</text>
<rect x="918.1" y="685.3" width="14" height="76.8" fill="url(#gSalmon)"/>
<line x1="925.1" y1="685.3" x2="925.1" y2="680.64" stroke="#333" stroke-width="0.9" />
<line x1="923.5" y1="680.64" x2="926.7" y2="680.64" stroke="#333" stroke-width="0.9" />
<text x="926.1" y="677.14" font-size="4.66" text-anchor="middle" fill="#000"  textLength="18" lengthAdjust="spacingAndGlyphs">*p&lt;0.05</text>
<rect x="950.7" y="729.43" width="14" height="32.67" fill="url(#gTeal)"/>
<line x1="957.7" y1="729.43" x2="957.7" y2="728.16" stroke="#333" stroke-width="0.9" />
<line x1="956.1" y1="728.16" x2="959.3" y2="728.16" stroke="#333" stroke-width="0.9" />
<rect x="964.7" y="710.34" width="14" height="51.76" fill="url(#gSalmon)"/>
<line x1="971.7" y1="710.34" x2="971.7" y2="708.64" stroke="#333" stroke-width="0.9" />
<line x1="970.1" y1="708.64" x2="973.3" y2="708.64" stroke="#333" stroke-width="0.9" />
<rect x="802.9" y="613.6" width="185.1" height="148.5" fill="none" stroke="#000" stroke-width="1.2"/>
<line x1="802.9" y1="762.1" x2="806.1" y2="762.1" stroke="#000" stroke-width="1" />
<text x="799.4" y="765.4" font-size="10" text-anchor="end" fill="#000" >0</text>
<line x1="802.9" y1="740.89" x2="806.1" y2="740.89" stroke="#000" stroke-width="1" />
<text x="799.4" y="744.19" font-size="10" text-anchor="end" fill="#000" >5</text>
<line x1="802.9" y1="719.67" x2="806.1" y2="719.67" stroke="#000" stroke-width="1" />
<text x="799.4" y="722.97" font-size="10" text-anchor="end" fill="#000" >10</text>
<line x1="802.9" y1="698.46" x2="806.1" y2="698.46" stroke="#000" stroke-width="1" />
<text x="799.4" y="701.76" font-size="10" text-anchor="end" fill="#000" >15</text>
<line x1="802.9" y1="677.24" x2="806.1" y2="677.24" stroke="#000" stroke-width="1" />
<text x="799.4" y="680.54" font-size="10" text-anchor="end" fill="#000" >20</text>
<line x1="802.9" y1="656.03" x2="806.1" y2="656.03" stroke="#000" stroke-width="1" />
<text x="799.4" y="659.33" font-size="10" text-anchor="end" fill="#000" >25</text>
<line x1="802.9" y1="634.81" x2="806.1" y2="634.81" stroke="#000" stroke-width="1" />
<text x="799.4" y="638.11" font-size="10" text-anchor="end" fill="#000" >30</text>
<line x1="802.9" y1="613.6" x2="806.1" y2="613.6" stroke="#000" stroke-width="1" />
<text x="799.4" y="616.9" font-size="10" text-anchor="end" fill="#000" >35</text>
<line x1="802.9" y1="751.49" x2="804.7" y2="751.49" stroke="#000" stroke-width="0.8" />
<line x1="802.9" y1="730.28" x2="804.7" y2="730.28" stroke="#000" stroke-width="0.8" />
<line x1="802.9" y1="709.06" x2="804.7" y2="709.06" stroke="#000" stroke-width="0.8" />
<line x1="802.9" y1="687.85" x2="804.7" y2="687.85" stroke="#000" stroke-width="0.8" />
<line x1="802.9" y1="666.64" x2="804.7" y2="666.64" stroke="#000" stroke-width="0.8" />
<line x1="802.9" y1="645.42" x2="804.7" y2="645.42" stroke="#000" stroke-width="0.8" />
<line x1="802.9" y1="624.21" x2="804.7" y2="624.21" stroke="#000" stroke-width="0.8" />
<text x="825.9" y="772.8" font-size="9.7" text-anchor="middle" fill="#000" >HR8</text>
<text x="871.8" y="772.8" font-size="9.7" text-anchor="middle" fill="#000" >HR7</text>
<text x="918.1" y="772.8" font-size="9.7" text-anchor="middle" fill="#000" >HR6</text>
<text x="964.7" y="772.8" font-size="9.7" text-anchor="middle" fill="#000" >TC4</text>
<text transform="translate(786.6 687.8) rotate(-90)" font-size="9.8" text-anchor="middle" >BV/TV</text>
<rect x="940.1" y="618.4" width="21.9" height="10.6" fill="url(#gTeal)"/>
<text x="964.7" y="626.87" font-size="9.6" text-anchor="start" fill="#000" >4W</text>
<rect x="940.1" y="631" width="21.9" height="10.5" fill="url(#gSalmon)"/>
<text x="964.7" y="639.42" font-size="9.6" text-anchor="start" fill="#000" >12W</text>
<text x="813" y="645" font-size="53.6" text-anchor="start" fill="#000" >(h)</text>
<rect x="1034.9" y="724.78" width="14" height="37.32" fill="url(#gTeal2)"/>
<line x1="1041.9" y1="724.78" x2="1041.9" y2="719.33" stroke="#333" stroke-width="0.9" />
<line x1="1040.3" y1="719.33" x2="1043.5" y2="719.33" stroke="#333" stroke-width="0.9" />
<text x="1038.9" y="712.33" font-size="4.66" text-anchor="middle" fill="#000"  textLength="18" lengthAdjust="spacingAndGlyphs">*p&lt;0.05</text>
<rect x="1048.9" y="677.95" width="14" height="84.15" fill="url(#gOlive)"/>
<line x1="1055.9" y1="677.95" x2="1055.9" y2="674.63" stroke="#333" stroke-width="0.9" />
<line x1="1054.3" y1="674.63" x2="1057.5" y2="674.63" stroke="#333" stroke-width="0.9" />
<text x="1057.9" y="671.13" font-size="4.66" text-anchor="middle" fill="#000"  textLength="18" lengthAdjust="spacingAndGlyphs">*p&lt;0.05</text>
<rect x="1080.8" y="729.78" width="14" height="32.32" fill="url(#gTeal2)"/>
<line x1="1087.8" y1="729.78" x2="1087.8" y2="726.36" stroke="#333" stroke-width="0.9" />
<line x1="1086.2" y1="726.36" x2="1089.4" y2="726.36" stroke="#333" stroke-width="0.9" />
<text x="1084.8" y="719.36" font-size="4.66" text-anchor="middle" fill="#000"  textLength="18" lengthAdjust="spacingAndGlyphs">*p&lt;0.05</text>
<rect x="1094.8" y="721.76" width="14" height="40.34" fill="url(#gOlive)"/>
<line x1="1101.8" y1="721.76" x2="1101.8" y2="720.37" stroke="#333" stroke-width="0.9" />
<line x1="1100.2" y1="720.37" x2="1103.4" y2="720.37" stroke="#333" stroke-width="0.9" />
<text x="1105.8" y="714.37" font-size="4.66" text-anchor="middle" fill="#000"  textLength="18" lengthAdjust="spacingAndGlyphs">*p&lt;0.05</text>
<rect x="1127.1" y="731.76" width="14" height="30.34" fill="url(#gTeal2)"/>
<line x1="1134.1" y1="731.76" x2="1134.1" y2="728.34" stroke="#333" stroke-width="0.9" />
<line x1="1132.5" y1="728.34" x2="1135.7" y2="728.34" stroke="#333" stroke-width="0.9" />
<text x="1131.1" y="724.34" font-size="4.66" text-anchor="middle" fill="#000"  textLength="18" lengthAdjust="spacingAndGlyphs">*p&lt;0.05</text>
<rect x="1141.1" y="676.96" width="14" height="85.14" fill="url(#gOlive)"/>
<line x1="1148.1" y1="676.96" x2="1148.1" y2="675.28" stroke="#333" stroke-width="0.9" />
<line x1="1146.5" y1="675.28" x2="1149.7" y2="675.28" stroke="#333" stroke-width="0.9" />
<text x="1150.1" y="670.78" font-size="4.66" text-anchor="middle" fill="#000"  textLength="18" lengthAdjust="spacingAndGlyphs">*p&lt;0.05</text>
<rect x="1173" y="743.14" width="14" height="18.96" fill="url(#gTeal2)"/>
<line x1="1180" y1="743.14" x2="1180" y2="738.34" stroke="#333" stroke-width="0.9" />
<line x1="1178.4" y1="738.34" x2="1181.6" y2="738.34" stroke="#333" stroke-width="0.9" />
<rect x="1187" y="736.16" width="14" height="25.94" fill="url(#gOlive)"/>
<line x1="1194" y1="736.16" x2="1194" y2="734.58" stroke="#333" stroke-width="0.9" />
<line x1="1192.4" y1="734.58" x2="1195.6" y2="734.58" stroke="#333" stroke-width="0.9" />
<rect x="1025.5" y="613.6" width="184" height="148.5" fill="none" stroke="#000" stroke-width="1.2"/>
<line x1="1025.5" y1="762.1" x2="1028.7" y2="762.1" stroke="#000" stroke-width="1" />
<text x="1022" y="765.4" font-size="10" text-anchor="end" fill="#000" >0.00</text>
<line x1="1025.5" y1="737.35" x2="1028.7" y2="737.35" stroke="#000" stroke-width="1" />
<text x="1022" y="740.65" font-size="10" text-anchor="end" fill="#000" >0.05</text>
<line x1="1025.5" y1="712.6" x2="1028.7" y2="712.6" stroke="#000" stroke-width="1" />
<text x="1022" y="715.9" font-size="10" text-anchor="end" fill="#000" >0.10</text>
<line x1="1025.5" y1="687.85" x2="1028.7" y2="687.85" stroke="#000" stroke-width="1" />
<text x="1022" y="691.15" font-size="10" text-anchor="end" fill="#000" >0.15</text>
<line x1="1025.5" y1="663.1" x2="1028.7" y2="663.1" stroke="#000" stroke-width="1" />
<text x="1022" y="666.4" font-size="10" text-anchor="end" fill="#000" >0.20</text>
<line x1="1025.5" y1="638.35" x2="1028.7" y2="638.35" stroke="#000" stroke-width="1" />
<text x="1022" y="641.65" font-size="10" text-anchor="end" fill="#000" >0.25</text>
<line x1="1025.5" y1="613.6" x2="1028.7" y2="613.6" stroke="#000" stroke-width="1" />
<text x="1022" y="616.9" font-size="10" text-anchor="end" fill="#000" >0.30</text>
<line x1="1025.5" y1="749.73" x2="1027.3" y2="749.73" stroke="#000" stroke-width="0.8" />
<line x1="1025.5" y1="724.98" x2="1027.3" y2="724.98" stroke="#000" stroke-width="0.8" />
<line x1="1025.5" y1="700.23" x2="1027.3" y2="700.23" stroke="#000" stroke-width="0.8" />
<line x1="1025.5" y1="675.48" x2="1027.3" y2="675.48" stroke="#000" stroke-width="0.8" />
<line x1="1025.5" y1="650.73" x2="1027.3" y2="650.73" stroke="#000" stroke-width="0.8" />
<line x1="1025.5" y1="625.98" x2="1027.3" y2="625.98" stroke="#000" stroke-width="0.8" />
<text x="1048.9" y="772.8" font-size="9.7" text-anchor="middle" fill="#000" >HR8</text>
<text x="1094.8" y="772.8" font-size="9.7" text-anchor="middle" fill="#000" >HR7</text>
<text x="1141.1" y="772.8" font-size="9.7" text-anchor="middle" fill="#000" >HR6</text>
<text x="1187" y="772.8" font-size="9.7" text-anchor="middle" fill="#000" >TC4</text>
<text transform="translate(1002.2 687.8) rotate(-90)" font-size="10.2" text-anchor="middle" >Tb.Th(mm)</text>
<rect x="1164" y="619" width="21.5" height="10.3" fill="url(#gTeal2)"/>
<text x="1188" y="627.32" font-size="9.6" text-anchor="start" fill="#000" >4W</text>
<rect x="1164" y="631.3" width="21.5" height="10.2" fill="url(#gOlive)"/>
<text x="1188" y="639.57" font-size="9.6" text-anchor="start" fill="#000" >12W</text>
<rect x="814.5" y="854.15" width="13.8" height="79.85" fill="url(#gSky)"/>
<line x1="821.4" y1="854.15" x2="821.4" y2="850.8" stroke="#333" stroke-width="0.9" />
<line x1="819.8" y1="850.8" x2="823" y2="850.8" stroke="#333" stroke-width="0.9" />
<text x="821.4" y="843.8" font-size="4.66" text-anchor="middle" fill="#000"  textLength="18" lengthAdjust="spacingAndGlyphs">*p&lt;0.05</text>
<rect x="828.3" y="888.27" width="13.8" height="45.73" fill="url(#gGold)"/>
<line x1="835.2" y1="888.27" x2="835.2" y2="887.16" stroke="#333" stroke-width="0.9" />
<line x1="833.6" y1="887.16" x2="836.8" y2="887.16" stroke="#333" stroke-width="0.9" />
<text x="839.2" y="880.16" font-size="4.66" text-anchor="middle" fill="#000"  textLength="18" lengthAdjust="spacingAndGlyphs">*p&lt;0.05</text>
<rect x="861" y="853.33" width="13.8" height="80.67" fill="url(#gSky)"/>
<line x1="867.9" y1="853.33" x2="867.9" y2="852.22" stroke="#333" stroke-width="0.9" />
<line x1="866.3" y1="852.22" x2="869.5" y2="852.22" stroke="#333" stroke-width="0.9" />
<text x="864.9" y="844.22" font-size="4.66" text-anchor="middle" fill="#000"  textLength="18" lengthAdjust="spacingAndGlyphs">*p&lt;0.05</text>
<rect x="874.8" y="847.01" width="13.8" height="86.99" fill="url(#gGold)"/>
<line x1="881.7" y1="847.01" x2="881.7" y2="846.45" stroke="#333" stroke-width="0.9" />
<line x1="880.1" y1="846.45" x2="883.3" y2="846.45" stroke="#333" stroke-width="0.9" />
<text x="884.7" y="837.95" font-size="4.66" text-anchor="middle" fill="#000"  textLength="18" lengthAdjust="spacingAndGlyphs">*p&lt;0.05</text>
<rect x="906.9" y="843.07" width="13.8" height="90.93" fill="url(#gSky)"/>
<line x1="913.8" y1="843.07" x2="913.8" y2="841.4" stroke="#333" stroke-width="0.9" />
<line x1="912.2" y1="841.4" x2="915.4" y2="841.4" stroke="#333" stroke-width="0.9" />
<text x="916.8" y="835.4" font-size="4.66" text-anchor="middle" fill="#000"  textLength="18" lengthAdjust="spacingAndGlyphs">*p&lt;0.05</text>
<rect x="920.7" y="895.34" width="13.8" height="38.66" fill="url(#gGold)"/>
<line x1="927.6" y1="895.34" x2="927.6" y2="891.62" stroke="#333" stroke-width="0.9" />
<line x1="926" y1="891.62" x2="929.2" y2="891.62" stroke="#333" stroke-width="0.9" />
<text x="931.6" y="886.12" font-size="4.66" text-anchor="middle" fill="#000"  textLength="18" lengthAdjust="spacingAndGlyphs">*p&lt;0.05</text>
<rect x="953.1" y="861.25" width="13.8" height="72.75" fill="url(#gSky)"/>
<line x1="960" y1="861.25" x2="960" y2="859.39" stroke="#333" stroke-width="0.9" />
<line x1="958.4" y1="859.39" x2="961.6" y2="859.39" stroke="#333" stroke-width="0.9" />
<rect x="966.9" y="848.87" width="13.8" height="85.13" fill="url(#gGold)"/>
<line x1="973.8" y1="848.87" x2="973.8" y2="846.27" stroke="#333" stroke-width="0.9" />
<line x1="972.2" y1="846.27" x2="975.4" y2="846.27" stroke="#333" stroke-width="0.9" />
<rect x="805.4" y="785.3" width="185.6" height="148.7" fill="none" stroke="#000" stroke-width="1.2"/>
<line x1="805.4" y1="934" x2="808.6" y2="934" stroke="#000" stroke-width="1" />
<text x="801.9" y="937.3" font-size="10" text-anchor="end" fill="#000" >0.0</text>
<line x1="805.4" y1="915.41" x2="808.6" y2="915.41" stroke="#000" stroke-width="1" />
<text x="801.9" y="918.71" font-size="10" text-anchor="end" fill="#000" >0.5</text>
<line x1="805.4" y1="896.83" x2="808.6" y2="896.83" stroke="#000" stroke-width="1" />
<text x="801.9" y="900.12" font-size="10" text-anchor="end" fill="#000" >1.0</text>
<line x1="805.4" y1="878.24" x2="808.6" y2="878.24" stroke="#000" stroke-width="1" />
<text x="801.9" y="881.54" font-size="10" text-anchor="end" fill="#000" >1.5</text>
<line x1="805.4" y1="859.65" x2="808.6" y2="859.65" stroke="#000" stroke-width="1" />
<text x="801.9" y="862.95" font-size="10" text-anchor="end" fill="#000" >2.0</text>
<line x1="805.4" y1="841.06" x2="808.6" y2="841.06" stroke="#000" stroke-width="1" />
<text x="801.9" y="844.36" font-size="10" text-anchor="end" fill="#000" >2.5</text>
<line x1="805.4" y1="822.47" x2="808.6" y2="822.47" stroke="#000" stroke-width="1" />
<text x="801.9" y="825.77" font-size="10" text-anchor="end" fill="#000" >3.0</text>
<line x1="805.4" y1="803.89" x2="808.6" y2="803.89" stroke="#000" stroke-width="1" />
<text x="801.9" y="807.19" font-size="10" text-anchor="end" fill="#000" >3.5</text>
<line x1="805.4" y1="785.3" x2="808.6" y2="785.3" stroke="#000" stroke-width="1" />
<text x="801.9" y="788.6" font-size="10" text-anchor="end" fill="#000" >4.0</text>
<line x1="805.4" y1="924.71" x2="807.2" y2="924.71" stroke="#000" stroke-width="0.8" />
<line x1="805.4" y1="906.12" x2="807.2" y2="906.12" stroke="#000" stroke-width="0.8" />
<line x1="805.4" y1="887.53" x2="807.2" y2="887.53" stroke="#000" stroke-width="0.8" />
<line x1="805.4" y1="868.94" x2="807.2" y2="868.94" stroke="#000" stroke-width="0.8" />
<line x1="805.4" y1="850.36" x2="807.2" y2="850.36" stroke="#000" stroke-width="0.8" />
<line x1="805.4" y1="831.77" x2="807.2" y2="831.77" stroke="#000" stroke-width="0.8" />
<line x1="805.4" y1="813.18" x2="807.2" y2="813.18" stroke="#000" stroke-width="0.8" />
<line x1="805.4" y1="794.59" x2="807.2" y2="794.59" stroke="#000" stroke-width="0.8" />
<text x="828.3" y="945" font-size="9.7" text-anchor="middle" fill="#000" >HR8</text>
<text x="874.8" y="945" font-size="9.7" text-anchor="middle" fill="#000" >HR7</text>
<text x="920.7" y="945" font-size="9.7" text-anchor="middle" fill="#000" >HR6</text>
<text x="966.9" y="945" font-size="9.7" text-anchor="middle" fill="#000" >TC4</text>
<text transform="translate(786.6 858.9) rotate(-90)" font-size="10.2" text-anchor="middle" >Tb/N(1/mm)</text>
<rect x="943" y="787.2" width="22" height="10.5" fill="url(#gSky)"/>
<text x="967.9" y="795.62" font-size="9.6" text-anchor="start" fill="#000" >4W</text>
<rect x="943" y="799.3" width="22" height="10.5" fill="url(#gGold)"/>
<text x="967.9" y="807.72" font-size="9.6" text-anchor="start" fill="#000" >12W</text>
<rect x="1027.1" y="836.09" width="16.2" height="98.31" fill="url(#gCyBl)"/>
<line x1="1035.2" y1="836.09" x2="1035.2" y2="833.61" stroke="#333" stroke-width="0.9" />
<line x1="1033.6" y1="833.61" x2="1036.8" y2="833.61" stroke="#333" stroke-width="0.9" />
<text x="1037.2" y="827.61" font-size="4.66" text-anchor="middle" fill="#000"  textLength="18" lengthAdjust="spacingAndGlyphs">*p&lt;0.05</text>
<rect x="1043.3" y="857.37" width="16.2" height="77.03" fill="url(#gSaYe)"/>
<line x1="1051.4" y1="857.37" x2="1051.4" y2="855.58" stroke="#333" stroke-width="0.9" />
<line x1="1049.8" y1="855.58" x2="1053" y2="855.58" stroke="#333" stroke-width="0.9" />
<text x="1053.4" y="849.58" font-size="4.66" text-anchor="middle" fill="#000"  textLength="18" lengthAdjust="spacingAndGlyphs">*p&lt;0.05</text>
<rect x="1073" y="839.87" width="16.2" height="94.53" fill="url(#gCyBl)"/>
<line x1="1081.1" y1="839.87" x2="1081.1" y2="835.5" stroke="#333" stroke-width="0.9" />
<line x1="1079.5" y1="835.5" x2="1082.7" y2="835.5" stroke="#333" stroke-width="0.9" />
<text x="1082.1" y="829.5" font-size="4.66" text-anchor="middle" fill="#000"  textLength="18" lengthAdjust="spacingAndGlyphs">*p&lt;0.05</text>
<rect x="1089.2" y="858.66" width="16.2" height="75.74" fill="url(#gSaYe)"/>
<line x1="1097.3" y1="858.66" x2="1097.3" y2="853.49" stroke="#333" stroke-width="0.9" />
<line x1="1095.7" y1="853.49" x2="1098.9" y2="853.49" stroke="#333" stroke-width="0.9" />
<text x="1100.3" y="849.49" font-size="4.66" text-anchor="middle" fill="#000"  textLength="18" lengthAdjust="spacingAndGlyphs">*p&lt;0.05</text>
<rect x="1119" y="845.04" width="16.2" height="89.36" fill="url(#gCyBl)"/>
<line x1="1127.1" y1="845.04" x2="1127.1" y2="843.35" stroke="#333" stroke-width="0.9" />
<line x1="1125.5" y1="843.35" x2="1128.7" y2="843.35" stroke="#333" stroke-width="0.9" />
<text x="1128.1" y="837.35" font-size="4.66" text-anchor="middle" fill="#000"  textLength="18" lengthAdjust="spacingAndGlyphs">*p&lt;0.05</text>
<rect x="1135.2" y="859.05" width="16.2" height="75.35" fill="url(#gSaYe)"/>
<line x1="1143.3" y1="859.05" x2="1143.3" y2="856.57" stroke="#333" stroke-width="0.9" />
<line x1="1141.7" y1="856.57" x2="1144.9" y2="856.57" stroke="#333" stroke-width="0.9" />
<text x="1145.3" y="852.07" font-size="4.66" text-anchor="middle" fill="#000"  textLength="18" lengthAdjust="spacingAndGlyphs">*p&lt;0.05</text>
<rect x="1165.5" y="835.3" width="16.2" height="99.1" fill="url(#gCyBl)"/>
<line x1="1173.6" y1="835.3" x2="1173.6" y2="834.9" stroke="#333" stroke-width="0.9" />
<line x1="1172" y1="834.9" x2="1175.2" y2="834.9" stroke="#333" stroke-width="0.9" />
<rect x="1181.7" y="835.3" width="16.2" height="99.1" fill="url(#gSaYe)"/>
<line x1="1189.8" y1="835.3" x2="1189.8" y2="834.7" stroke="#333" stroke-width="0.9" />
<line x1="1188.2" y1="834.7" x2="1191.4" y2="834.7" stroke="#333" stroke-width="0.9" />
<rect x="1020.4" y="785.3" width="184.4" height="149.1" fill="none" stroke="#000" stroke-width="1.2"/>
<line x1="1020.4" y1="934.4" x2="1023.6" y2="934.4" stroke="#000" stroke-width="1" />
<text x="1016.9" y="937.7" font-size="10" text-anchor="end" fill="#000" >0.0</text>
<line x1="1020.4" y1="884.7" x2="1023.6" y2="884.7" stroke="#000" stroke-width="1" />
<text x="1016.9" y="888" font-size="10" text-anchor="end" fill="#000" >0.5</text>
<line x1="1020.4" y1="835" x2="1023.6" y2="835" stroke="#000" stroke-width="1" />
<text x="1016.9" y="838.3" font-size="10" text-anchor="end" fill="#000" >1.0</text>
<line x1="1020.4" y1="785.3" x2="1023.6" y2="785.3" stroke="#000" stroke-width="1" />
<text x="1016.9" y="788.6" font-size="10" text-anchor="end" fill="#000" >1.5</text>
<line x1="1020.4" y1="909.55" x2="1022.2" y2="909.55" stroke="#000" stroke-width="0.8" />
<line x1="1020.4" y1="859.85" x2="1022.2" y2="859.85" stroke="#000" stroke-width="0.8" />
<line x1="1020.4" y1="810.15" x2="1022.2" y2="810.15" stroke="#000" stroke-width="0.8" />
<text x="1043.3" y="944.6" font-size="9.7" text-anchor="middle" fill="#000" >HR8</text>
<text x="1089.2" y="944.6" font-size="9.7" text-anchor="middle" fill="#000" >HR7</text>
<text x="1135.2" y="944.6" font-size="9.7" text-anchor="middle" fill="#000" >HR6</text>
<text x="1153" y="944.6" font-size="9.7" text-anchor="start" fill="#000" >control group</text>
<text transform="translate(1002 859.8) rotate(-90)" font-size="10.2" text-anchor="middle" >Cell viability(%)</text>
<rect x="1163.2" y="786.8" width="13.5" height="6.5" fill="url(#gCyBl)"/>
<text x="1179" y="792.06" font-size="6.1" text-anchor="start" fill="#000" >24h-25%</text>
<rect x="1163.2" y="794.5" width="13.5" height="6.5" fill="url(#gSaYe)"/>
<text x="1179" y="799.76" font-size="6.1" text-anchor="start" fill="#000" >72h-25%</text>
<g fill="#00a99d"><rect x="2" y="4" width="11.35" height="4"/><rect x="17.29" y="4" width="11.35" height="4"/><rect x="32.58" y="4" width="11.35" height="4"/><rect x="47.87" y="4" width="11.35" height="4"/><rect x="63.16" y="4" width="11.35" height="4"/><rect x="78.45" y="4" width="11.35" height="4"/><rect x="93.74" y="4" width="11.35" height="4"/><rect x="109.03" y="4" width="11.35" height="4"/><rect x="124.32" y="4" width="11.35" height="4"/><rect x="139.61" y="4" width="11.35" height="4"/><rect x="154.9" y="4" width="11.35" height="4"/><rect x="170.19" y="4" width="11.35" height="4"/><rect x="185.48" y="4" width="11.35" height="4"/><rect x="200.77" y="4" width="11.35" height="4"/><rect x="216.06" y="4" width="11.35" height="4"/><rect x="231.35" y="4" width="11.35" height="4"/><rect x="246.64" y="4" width="11.35" height="4"/><rect x="261.93" y="4" width="11.35" height="4"/><rect x="277.22" y="4" width="11.35" height="4"/><rect x="292.51" y="4" width="11.35" height="4"/><rect x="307.8" y="4" width="11.35" height="4"/><rect x="323.09" y="4" width="11.35" height="4"/><rect x="338.38" y="4" width="11.35" height="4"/><rect x="353.67" y="4" width="11.35" height="4"/><rect x="368.96" y="4" width="11.35" height="4"/><rect x="384.25" y="4" width="11.35" height="4"/><rect x="399.54" y="4" width="11.35" height="4"/><rect x="414.83" y="4" width="11.35" height="4"/><rect x="430.12" y="4" width="11.35" height="4"/><rect x="445.41" y="4" width="11.35" height="4"/><rect x="460.7" y="4" width="11.35" height="4"/><rect x="475.99" y="4" width="11.35" height="4"/><rect x="491.28" y="4" width="11.35" height="4"/><rect x="506.57" y="4" width="11.35" height="4"/><rect x="521.86" y="4" width="11.35" height="4"/><rect x="537.15" y="4" width="11.35" height="4"/><rect x="552.44" y="4" width="11.35" height="4"/><rect x="567.73" y="4" width="11.35" height="4"/><rect x="583.02" y="4" width="11.35" height="4"/><rect x="598.31" y="4" width="11.35" height="4"/><rect x="613.6" y="4" width="11.35" height="4"/><rect x="628.89" y="4" width="11.35" height="4"/><rect x="644.18" y="4" width="11.35" height="4"/><rect x="659.47" y="4" width="11.35" height="4"/><rect x="674.76" y="4" width="11.35" height="4"/><rect x="690.05" y="4" width="11.35" height="4"/><rect x="705.34" y="4" width="11.35" height="4"/><rect x="720.63" y="4" width="11.35" height="4"/><rect x="735.92" y="4" width="11.35" height="4"/><rect x="751.21" y="4" width="11.35" height="4"/></g>
<g fill="#00a99d"><rect x="2" y="943" width="11.35" height="4"/><rect x="17.29" y="943" width="11.35" height="4"/><rect x="32.58" y="943" width="11.35" height="4"/><rect x="47.87" y="943" width="11.35" height="4"/><rect x="63.16" y="943" width="11.35" height="4"/><rect x="78.45" y="943" width="11.35" height="4"/><rect x="93.74" y="943" width="11.35" height="4"/><rect x="109.03" y="943" width="11.35" height="4"/><rect x="124.32" y="943" width="11.35" height="4"/><rect x="139.61" y="943" width="11.35" height="4"/><rect x="154.9" y="943" width="11.35" height="4"/><rect x="170.19" y="943" width="11.35" height="4"/><rect x="185.48" y="943" width="11.35" height="4"/><rect x="200.77" y="943" width="11.35" height="4"/><rect x="216.06" y="943" width="11.35" height="4"/><rect x="231.35" y="943" width="11.35" height="4"/><rect x="246.64" y="943" width="11.35" height="4"/><rect x="261.93" y="943" width="11.35" height="4"/><rect x="277.22" y="943" width="11.35" height="4"/><rect x="292.51" y="943" width="11.35" height="4"/><rect x="307.8" y="943" width="11.35" height="4"/><rect x="323.09" y="943" width="11.35" height="4"/><rect x="338.38" y="943" width="11.35" height="4"/><rect x="353.67" y="943" width="11.35" height="4"/><rect x="368.96" y="943" width="11.35" height="4"/><rect x="384.25" y="943" width="11.35" height="4"/><rect x="399.54" y="943" width="11.35" height="4"/><rect x="414.83" y="943" width="11.35" height="4"/><rect x="430.12" y="943" width="11.35" height="4"/><rect x="445.41" y="943" width="11.35" height="4"/><rect x="460.7" y="943" width="11.35" height="4"/><rect x="475.99" y="943" width="11.35" height="4"/><rect x="491.28" y="943" width="11.35" height="4"/><rect x="506.57" y="943" width="11.35" height="4"/><rect x="521.86" y="943" width="11.35" height="4"/><rect x="537.15" y="943" width="11.35" height="4"/><rect x="552.44" y="943" width="11.35" height="4"/><rect x="567.73" y="943" width="11.35" height="4"/><rect x="583.02" y="943" width="11.35" height="4"/><rect x="598.31" y="943" width="11.35" height="4"/><rect x="613.6" y="943" width="11.35" height="4"/><rect x="628.89" y="943" width="11.35" height="4"/><rect x="644.18" y="943" width="11.35" height="4"/><rect x="659.47" y="943" width="11.35" height="4"/><rect x="674.76" y="943" width="11.35" height="4"/><rect x="690.05" y="943" width="11.35" height="4"/><rect x="705.34" y="943" width="11.35" height="4"/><rect x="720.63" y="943" width="11.35" height="4"/><rect x="735.92" y="943" width="11.35" height="4"/><rect x="751.21" y="943" width="11.35" height="4"/></g>
<g fill="#00a99d"><rect x="0" y="4" width="4" height="3.87"/><rect x="0" y="11.66" width="4" height="11.5"/><rect x="0" y="26.95" width="4" height="11.5"/><rect x="0" y="42.24" width="4" height="11.5"/><rect x="0" y="57.53" width="4" height="11.5"/><rect x="0" y="72.82" width="4" height="11.5"/><rect x="0" y="88.11" width="4" height="11.5"/><rect x="0" y="103.4" width="4" height="11.5"/><rect x="0" y="118.69" width="4" height="11.5"/><rect x="0" y="133.98" width="4" height="11.5"/><rect x="0" y="149.27" width="4" height="11.5"/><rect x="0" y="164.56" width="4" height="11.5"/><rect x="0" y="179.85" width="4" height="11.5"/><rect x="0" y="195.14" width="4" height="11.5"/><rect x="0" y="210.43" width="4" height="11.5"/><rect x="0" y="225.72" width="4" height="11.5"/><rect x="0" y="241.01" width="4" height="11.5"/><rect x="0" y="256.3" width="4" height="11.5"/><rect x="0" y="271.59" width="4" height="11.5"/><rect x="0" y="286.88" width="4" height="11.5"/><rect x="0" y="302.17" width="4" height="11.5"/><rect x="0" y="317.46" width="4" height="11.5"/><rect x="0" y="332.75" width="4" height="11.5"/><rect x="0" y="348.04" width="4" height="11.5"/><rect x="0" y="363.33" width="4" height="11.5"/><rect x="0" y="378.62" width="4" height="11.5"/><rect x="0" y="393.91" width="4" height="11.5"/><rect x="0" y="409.2" width="4" height="11.5"/><rect x="0" y="424.49" width="4" height="11.5"/><rect x="0" y="439.78" width="4" height="11.5"/><rect x="0" y="455.07" width="4" height="11.5"/><rect x="0" y="470.36" width="4" height="11.5"/><rect x="0" y="485.65" width="4" height="11.5"/><rect x="0" y="500.94" width="4" height="11.5"/><rect x="0" y="516.23" width="4" height="11.5"/><rect x="0" y="531.52" width="4" height="11.5"/><rect x="0" y="546.81" width="4" height="11.5"/><rect x="0" y="562.1" width="4" height="11.5"/><rect x="0" y="577.39" width="4" height="11.5"/><rect x="0" y="592.68" width="4" height="11.5"/><rect x="0" y="607.97" width="4" height="11.5"/><rect x="0" y="623.26" width="4" height="11.5"/><rect x="0" y="638.55" width="4" height="11.5"/><rect x="0" y="653.84" width="4" height="11.5"/><rect x="0" y="669.13" width="4" height="11.5"/><rect x="0" y="684.42" width="4" height="11.5"/><rect x="0" y="699.71" width="4" height="11.5"/><rect x="0" y="715" width="4" height="11.5"/><rect x="0" y="730.29" width="4" height="11.5"/><rect x="0" y="745.58" width="4" height="11.5"/><rect x="0" y="760.87" width="4" height="11.5"/><rect x="0" y="776.16" width="4" height="11.5"/><rect x="0" y="791.45" width="4" height="11.5"/><rect x="0" y="806.74" width="4" height="11.5"/><rect x="0" y="822.03" width="4" height="11.5"/><rect x="0" y="837.32" width="4" height="11.5"/><rect x="0" y="852.61" width="4" height="11.5"/><rect x="0" y="867.9" width="4" height="11.5"/><rect x="0" y="883.19" width="4" height="11.5"/><rect x="0" y="898.48" width="4" height="11.5"/><rect x="0" y="913.77" width="4" height="11.5"/><rect x="0" y="929.06" width="4" height="11.5"/><rect x="0" y="944.35" width="4" height="2.65"/></g>
<g fill="#00a99d"><rect x="761" y="4" width="4" height="3.32"/><rect x="761" y="10.9" width="4" height="11.7"/><rect x="761" y="26.18" width="4" height="11.7"/><rect x="761" y="41.46" width="4" height="11.7"/><rect x="761" y="56.74" width="4" height="11.7"/><rect x="761" y="72.02" width="4" height="11.7"/><rect x="761" y="87.3" width="4" height="11.7"/><rect x="761" y="102.58" width="4" height="11.7"/><rect x="761" y="117.86" width="4" height="11.7"/><rect x="761" y="133.14" width="4" height="11.7"/><rect x="761" y="148.42" width="4" height="11.7"/><rect x="761" y="163.7" width="4" height="11.7"/><rect x="761" y="178.98" width="4" height="11.7"/><rect x="761" y="194.26" width="4" height="11.7"/><rect x="761" y="209.54" width="4" height="11.7"/><rect x="761" y="224.82" width="4" height="11.7"/><rect x="761" y="240.1" width="4" height="11.7"/><rect x="761" y="255.38" width="4" height="11.7"/><rect x="761" y="270.66" width="4" height="11.7"/><rect x="761" y="285.94" width="4" height="11.7"/><rect x="761" y="301.22" width="4" height="11.7"/><rect x="761" y="316.5" width="4" height="11.7"/><rect x="761" y="331.78" width="4" height="11.7"/><rect x="761" y="347.06" width="4" height="11.7"/><rect x="761" y="362.34" width="4" height="11.7"/><rect x="761" y="377.62" width="4" height="11.7"/><rect x="761" y="392.9" width="4" height="11.7"/><rect x="761" y="408.18" width="4" height="11.7"/><rect x="761" y="423.46" width="4" height="11.7"/><rect x="761" y="438.74" width="4" height="11.7"/><rect x="761" y="454.02" width="4" height="11.7"/><rect x="761" y="469.3" width="4" height="11.7"/><rect x="761" y="484.58" width="4" height="11.7"/><rect x="761" y="499.86" width="4" height="11.7"/><rect x="761" y="515.14" width="4" height="11.7"/><rect x="761" y="530.42" width="4" height="11.7"/><rect x="761" y="545.7" width="4" height="11.7"/><rect x="761" y="560.98" width="4" height="11.7"/><rect x="761" y="576.26" width="4" height="11.7"/><rect x="761" y="591.54" width="4" height="11.7"/><rect x="761" y="606.82" width="4" height="11.7"/><rect x="761" y="622.1" width="4" height="11.7"/><rect x="761" y="637.38" width="4" height="11.7"/><rect x="761" y="652.66" width="4" height="11.7"/><rect x="761" y="667.94" width="4" height="11.7"/><rect x="761" y="683.22" width="4" height="11.7"/><rect x="761" y="698.5" width="4" height="11.7"/><rect x="761" y="713.78" width="4" height="11.7"/><rect x="761" y="729.06" width="4" height="11.7"/><rect x="761" y="744.34" width="4" height="11.7"/><rect x="761" y="759.62" width="4" height="11.7"/><rect x="761" y="774.9" width="4" height="11.7"/><rect x="761" y="790.18" width="4" height="11.7"/><rect x="761" y="805.46" width="4" height="11.7"/><rect x="761" y="820.74" width="4" height="11.7"/><rect x="761" y="836.02" width="4" height="11.7"/><rect x="761" y="851.3" width="4" height="11.7"/><rect x="761" y="866.58" width="4" height="11.7"/><rect x="761" y="881.86" width="4" height="11.7"/><rect x="761" y="897.14" width="4" height="11.7"/><rect x="761" y="912.42" width="4" height="11.7"/><rect x="761" y="927.7" width="4" height="11.7"/><rect x="761" y="942.98" width="4" height="4.02"/></g>
<rect x="0" y="4" width="4" height="8" fill="#00a99d" />
<rect x="0" y="940" width="4" height="7" fill="#00a99d" />
<rect x="761" y="940" width="4" height="7" fill="#00a99d" />
<g fill="#c3a6d6"><rect x="770.84" y="7" width="12" height="4"/><rect x="786.12" y="7" width="12" height="4"/><rect x="801.4" y="7" width="12" height="4"/><rect x="816.68" y="7" width="12" height="4"/><rect x="831.96" y="7" width="12" height="4"/><rect x="847.24" y="7" width="12" height="4"/><rect x="862.52" y="7" width="12" height="4"/><rect x="877.8" y="7" width="12" height="4"/><rect x="893.08" y="7" width="12" height="4"/><rect x="908.36" y="7" width="12" height="4"/><rect x="923.64" y="7" width="12" height="4"/><rect x="938.92" y="7" width="12" height="4"/><rect x="954.2" y="7" width="12" height="4"/><rect x="969.48" y="7" width="12" height="4"/><rect x="984.76" y="7" width="12" height="4"/><rect x="1000.04" y="7" width="12" height="4"/><rect x="1015.32" y="7" width="12" height="4"/><rect x="1030.6" y="7" width="12" height="4"/><rect x="1045.88" y="7" width="12" height="4"/><rect x="1061.16" y="7" width="12" height="4"/><rect x="1076.44" y="7" width="12" height="4"/><rect x="1091.72" y="7" width="12" height="4"/><rect x="1107" y="7" width="12" height="4"/><rect x="1122.28" y="7" width="12" height="4"/><rect x="1137.56" y="7" width="12" height="4"/><rect x="1152.84" y="7" width="12" height="4"/><rect x="1168.12" y="7" width="12" height="4"/><rect x="1183.4" y="7" width="12" height="4"/><rect x="1198.68" y="7" width="12" height="4"/></g>
<g fill="#c3a6d6"><rect x="769" y="585" width="6.94" height="4"/><rect x="779.22" y="585" width="12" height="4"/><rect x="794.5" y="585" width="12" height="4"/><rect x="809.78" y="585" width="12" height="4"/><rect x="825.06" y="585" width="12" height="4"/><rect x="840.34" y="585" width="12" height="4"/><rect x="855.62" y="585" width="12" height="4"/><rect x="870.9" y="585" width="12" height="4"/><rect x="886.18" y="585" width="12" height="4"/><rect x="901.46" y="585" width="12" height="4"/><rect x="916.74" y="585" width="12" height="4"/><rect x="932.02" y="585" width="12" height="4"/><rect x="947.3" y="585" width="12" height="4"/><rect x="962.58" y="585" width="12" height="4"/><rect x="977.86" y="585" width="12" height="4"/><rect x="993.14" y="585" width="12" height="4"/><rect x="1008.42" y="585" width="12" height="4"/><rect x="1023.7" y="585" width="12" height="4"/><rect x="1038.98" y="585" width="12" height="4"/><rect x="1054.26" y="585" width="12" height="4"/><rect x="1069.54" y="585" width="12" height="4"/><rect x="1084.82" y="585" width="12" height="4"/><rect x="1100.1" y="585" width="12" height="4"/><rect x="1115.38" y="585" width="12" height="4"/><rect x="1130.66" y="585" width="12" height="4"/><rect x="1145.94" y="585" width="12" height="4"/><rect x="1161.22" y="585" width="12" height="4"/><rect x="1176.5" y="585" width="12" height="4"/><rect x="1191.78" y="585" width="12" height="4"/><rect x="1207.06" y="585" width="5.94" height="4"/></g>
<g fill="#c3a6d6"><rect x="769" y="13.8" width="4" height="11.8"/><rect x="769" y="29.08" width="4" height="11.8"/><rect x="769" y="44.36" width="4" height="11.8"/><rect x="769" y="59.64" width="4" height="11.8"/><rect x="769" y="74.92" width="4" height="11.8"/><rect x="769" y="90.2" width="4" height="11.8"/><rect x="769" y="105.48" width="4" height="11.8"/><rect x="769" y="120.76" width="4" height="11.8"/><rect x="769" y="136.04" width="4" height="11.8"/><rect x="769" y="151.32" width="4" height="11.8"/><rect x="769" y="166.6" width="4" height="11.8"/><rect x="769" y="181.88" width="4" height="11.8"/><rect x="769" y="197.16" width="4" height="11.8"/><rect x="769" y="212.44" width="4" height="11.8"/><rect x="769" y="227.72" width="4" height="11.8"/><rect x="769" y="243" width="4" height="11.8"/><rect x="769" y="258.28" width="4" height="11.8"/><rect x="769" y="273.56" width="4" height="11.8"/><rect x="769" y="288.84" width="4" height="11.8"/><rect x="769" y="304.12" width="4" height="11.8"/><rect x="769" y="319.4" width="4" height="11.8"/><rect x="769" y="334.68" width="4" height="11.8"/><rect x="769" y="349.96" width="4" height="11.8"/><rect x="769" y="365.24" width="4" height="11.8"/><rect x="769" y="380.52" width="4" height="11.8"/><rect x="769" y="395.8" width="4" height="11.8"/><rect x="769" y="411.08" width="4" height="11.8"/><rect x="769" y="426.36" width="4" height="11.8"/><rect x="769" y="441.64" width="4" height="11.8"/><rect x="769" y="456.92" width="4" height="11.8"/><rect x="769" y="472.2" width="4" height="11.8"/><rect x="769" y="487.48" width="4" height="11.8"/><rect x="769" y="502.76" width="4" height="11.8"/><rect x="769" y="518.04" width="4" height="11.8"/><rect x="769" y="533.32" width="4" height="11.8"/><rect x="769" y="548.6" width="4" height="11.8"/><rect x="769" y="563.88" width="4" height="11.8"/><rect x="769" y="579.16" width="4" height="9.84"/></g>
<rect x="769" y="7" width="6" height="4" fill="#c3a6d6" />
<g fill="#c3a6d6"><rect x="1209" y="12.8" width="4" height="11.8"/><rect x="1209" y="28.08" width="4" height="11.8"/><rect x="1209" y="43.36" width="4" height="11.8"/><rect x="1209" y="58.64" width="4" height="11.8"/><rect x="1209" y="73.92" width="4" height="11.8"/><rect x="1209" y="89.2" width="4" height="11.8"/><rect x="1209" y="104.48" width="4" height="11.8"/><rect x="1209" y="119.76" width="4" height="11.8"/><rect x="1209" y="135.04" width="4" height="11.8"/><rect x="1209" y="150.32" width="4" height="11.8"/><rect x="1209" y="165.6" width="4" height="11.8"/><rect x="1209" y="180.88" width="4" height="11.8"/><rect x="1209" y="196.16" width="4" height="11.8"/><rect x="1209" y="211.44" width="4" height="11.8"/><rect x="1209" y="226.72" width="4" height="11.8"/><rect x="1209" y="242" width="4" height="11.8"/><rect x="1209" y="257.28" width="4" height="11.8"/><rect x="1209" y="272.56" width="4" height="11.8"/><rect x="1209" y="287.84" width="4" height="11.8"/><rect x="1209" y="303.12" width="4" height="11.8"/><rect x="1209" y="318.4" width="4" height="11.8"/><rect x="1209" y="333.68" width="4" height="11.8"/><rect x="1209" y="348.96" width="4" height="11.8"/><rect x="1209" y="364.24" width="4" height="11.8"/><rect x="1209" y="379.52" width="4" height="11.8"/><rect x="1209" y="394.8" width="4" height="11.8"/><rect x="1209" y="410.08" width="4" height="11.8"/><rect x="1209" y="425.36" width="4" height="11.8"/><rect x="1209" y="440.64" width="4" height="11.8"/><rect x="1209" y="455.92" width="4" height="11.8"/><rect x="1209" y="471.2" width="4" height="11.8"/><rect x="1209" y="486.48" width="4" height="11.8"/><rect x="1209" y="501.76" width="4" height="11.8"/><rect x="1209" y="517.04" width="4" height="11.8"/><rect x="1209" y="532.32" width="4" height="11.8"/><rect x="1209" y="547.6" width="4" height="11.8"/><rect x="1209" y="562.88" width="4" height="11.8"/><rect x="1209" y="578.16" width="4" height="10.84"/></g>
<rect x="769" y="580" width="4" height="9" fill="#c3a6d6" />
<rect x="1209" y="580" width="4" height="9" fill="#c3a6d6" />
<g fill="#b08a58"><rect x="771" y="591" width="11.84" height="4"/><rect x="786.12" y="591" width="12" height="4"/><rect x="801.4" y="591" width="12" height="4"/><rect x="816.68" y="591" width="12" height="4"/><rect x="831.96" y="591" width="12" height="4"/><rect x="847.24" y="591" width="12" height="4"/><rect x="862.52" y="591" width="12" height="4"/><rect x="877.8" y="591" width="12" height="4"/><rect x="893.08" y="591" width="12" height="4"/><rect x="908.36" y="591" width="12" height="4"/><rect x="923.64" y="591" width="12" height="4"/><rect x="938.92" y="591" width="12" height="4"/><rect x="954.2" y="591" width="12" height="4"/><rect x="969.48" y="591" width="12" height="4"/><rect x="984.76" y="591" width="12" height="4"/><rect x="1000.04" y="591" width="12" height="4"/><rect x="1015.32" y="591" width="12" height="4"/><rect x="1030.6" y="591" width="12" height="4"/><rect x="1045.88" y="591" width="12" height="4"/><rect x="1061.16" y="591" width="12" height="4"/><rect x="1076.44" y="591" width="12" height="4"/><rect x="1091.72" y="591" width="12" height="4"/><rect x="1107" y="591" width="12" height="4"/><rect x="1122.28" y="591" width="12" height="4"/><rect x="1137.56" y="591" width="12" height="4"/><rect x="1152.84" y="591" width="12" height="4"/><rect x="1168.12" y="591" width="12" height="4"/><rect x="1183.4" y="591" width="12" height="4"/><rect x="1198.68" y="591" width="12" height="4"/></g>
<g fill="#b08a58"><rect x="771" y="946" width="11.64" height="4"/><rect x="785.92" y="946" width="12" height="4"/><rect x="801.2" y="946" width="12" height="4"/><rect x="816.48" y="946" width="12" height="4"/><rect x="831.76" y="946" width="12" height="4"/><rect x="847.04" y="946" width="12" height="4"/><rect x="862.32" y="946" width="12" height="4"/><rect x="877.6" y="946" width="12" height="4"/><rect x="892.88" y="946" width="12" height="4"/><rect x="908.16" y="946" width="12" height="4"/><rect x="923.44" y="946" width="12" height="4"/><rect x="938.72" y="946" width="12" height="4"/><rect x="954" y="946" width="12" height="4"/><rect x="969.28" y="946" width="12" height="4"/><rect x="984.56" y="946" width="12" height="4"/><rect x="999.84" y="946" width="12" height="4"/><rect x="1015.12" y="946" width="12" height="4"/><rect x="1030.4" y="946" width="12" height="4"/><rect x="1045.68" y="946" width="12" height="4"/><rect x="1060.96" y="946" width="12" height="4"/><rect x="1076.24" y="946" width="12" height="4"/><rect x="1091.52" y="946" width="12" height="4"/><rect x="1106.8" y="946" width="12" height="4"/><rect x="1122.08" y="946" width="12" height="4"/><rect x="1137.36" y="946" width="12" height="4"/><rect x="1152.64" y="946" width="12" height="4"/><rect x="1167.92" y="946" width="12" height="4"/><rect x="1183.2" y="946" width="12" height="4"/><rect x="1198.48" y="946" width="12" height="4"/></g>
<g fill="#b08a58"><rect x="769" y="597" width="4" height="11.66"/><rect x="769" y="612.14" width="4" height="11.8"/><rect x="769" y="627.42" width="4" height="11.8"/><rect x="769" y="642.7" width="4" height="11.8"/><rect x="769" y="657.98" width="4" height="11.8"/><rect x="769" y="673.26" width="4" height="11.8"/><rect x="769" y="688.54" width="4" height="11.8"/><rect x="769" y="703.82" width="4" height="11.8"/><rect x="769" y="719.1" width="4" height="11.8"/><rect x="769" y="734.38" width="4" height="11.8"/><rect x="769" y="749.66" width="4" height="11.8"/><rect x="769" y="764.94" width="4" height="11.8"/><rect x="769" y="780.22" width="4" height="11.8"/><rect x="769" y="795.5" width="4" height="11.8"/><rect x="769" y="810.78" width="4" height="11.8"/><rect x="769" y="826.06" width="4" height="11.8"/><rect x="769" y="841.34" width="4" height="11.8"/><rect x="769" y="856.62" width="4" height="11.8"/><rect x="769" y="871.9" width="4" height="11.8"/><rect x="769" y="887.18" width="4" height="11.8"/><rect x="769" y="902.46" width="4" height="11.8"/><rect x="769" y="917.74" width="4" height="11.8"/><rect x="769" y="933.02" width="4" height="11.8"/><rect x="769" y="948.3" width="4" height="1.7"/></g>
<g fill="#b08a58"><rect x="1209" y="597" width="4" height="11.66"/><rect x="1209" y="612.14" width="4" height="11.8"/><rect x="1209" y="627.42" width="4" height="11.8"/><rect x="1209" y="642.7" width="4" height="11.8"/><rect x="1209" y="657.98" width="4" height="11.8"/><rect x="1209" y="673.26" width="4" height="11.8"/><rect x="1209" y="688.54" width="4" height="11.8"/><rect x="1209" y="703.82" width="4" height="11.8"/><rect x="1209" y="719.1" width="4" height="11.8"/><rect x="1209" y="734.38" width="4" height="11.8"/><rect x="1209" y="749.66" width="4" height="11.8"/><rect x="1209" y="764.94" width="4" height="11.8"/><rect x="1209" y="780.22" width="4" height="11.8"/><rect x="1209" y="795.5" width="4" height="11.8"/><rect x="1209" y="810.78" width="4" height="11.8"/><rect x="1209" y="826.06" width="4" height="11.8"/><rect x="1209" y="841.34" width="4" height="11.8"/><rect x="1209" y="856.62" width="4" height="11.8"/><rect x="1209" y="871.9" width="4" height="11.8"/><rect x="1209" y="887.18" width="4" height="11.8"/><rect x="1209" y="902.46" width="4" height="11.8"/><rect x="1209" y="917.74" width="4" height="11.8"/><rect x="1209" y="933.02" width="4" height="11.8"/><rect x="1209" y="948.3" width="4" height="1.7"/></g>
</svg>
</body></html>
